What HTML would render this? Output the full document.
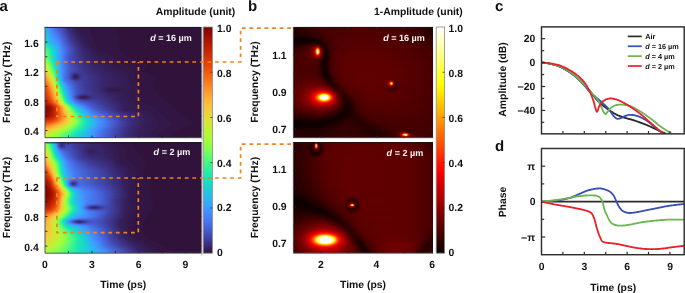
<!DOCTYPE html>
<html><head><meta charset="utf-8"><title>fig</title>
<style>
html,body{margin:0;padding:0;background:#fff;}
body{width:685px;height:293px;overflow:hidden;}
body{position:relative;}
svg{will-change:transform;position:absolute;left:0;top:0;display:block;font-family:"Liberation Sans",sans-serif;font-weight:bold;text-rendering:geometricPrecision;}
.hm{position:absolute;overflow:hidden;}
.hm div{height:1px;}
</style></head><body>
<div class="hm" style="left:45px;top:27px;width:156.5px;height:110.7px"><div style="background:linear-gradient(90deg,#2cb7f0 0,#4196ff 4px,#467df4 7px,#4669e0 10px,#4454c3 15px,#3f3e9c 20px,#3c3286 22px,#372466 27px,#372466 28px,#351e58 30px,#33184a 35px,#33184a 43px,#321543 44px,#321543 70px,#30123b 71px,#30123b 156.5px)"></div><div style="background:linear-gradient(90deg,#2ab9ee 0,#4099ff 4px,#4680f6 7px,#4456c7 15px,#4143a7 19px,#3e3891 21px,#3c3286 23px,#392a73 25px,#372466 28px,#351e58 30px,#33184a 36px,#33184a 44px,#321543 45px,#321543 70px,#30123b 71px,#30123b 156.5px)"></div><div style="background:linear-gradient(90deg,#27bee9 0,#3aa3fc 3px,#458afc 6px,#466be3 11px,#4454c3 16px,#4040a2 20px,#3d358b 22px,#36215f 29px,#36215f 30px,#341b51 32px,#33184a 37px,#33184a 44px,#321543 45px,#321543 70px,#30123b 71px,#30123b 156.5px)"></div><div style="background:linear-gradient(90deg,#25c0e7 0,#38a5fb 3px,#458cfd 6px,#4669e0 12px,#4456c7 16px,#3b2f80 24px,#372466 28px,#372466 29px,#351e58 31px,#33184a 37px,#33184a 44px,#321543 45px,#321543 70px,#30123b 71px,#30123b 156.5px)"></div><div style="background:linear-gradient(90deg,#23c3e4 0,#37a8fa 3px,#4391fe 6px,#4771e9 11px,#455ed3 15px,#3d358b 23px,#36215f 30px,#36215f 31px,#341b51 33px,#341b51 36px,#33184a 37px,#33184a 45px,#321543 46px,#321543 70px,#30123b 71px,#30123b 156.5px)"></div><div style="background:linear-gradient(90deg,#22c5e2 0,#3aa3fc 4px,#458cfd 7px,#466be3 13px,#424bb5 19px,#3c3286 24px,#372466 29px,#372466 30px,#351e58 32px,#341b51 35px,#33184a 40px,#33184a 45px,#321543 46px,#321543 71px,#30123b 72px,#30123b 156.5px)"></div><div style="background:linear-gradient(90deg,#20c7df 0,#38a5fb 4px,#448ffe 7px,#476ee6 13px,#434eba 19px,#3e3891 23px,#36215f 31px,#341b51 36px,#33184a 41px,#33184a 45px,#321543 46px,#321543 71px,#30123b 72px,#30123b 156.5px)"></div><div style="background:linear-gradient(90deg,#1fc9dd 0,#37a8fa 4px,#458cfd 8px,#476ee6 14px,#3e3891 24px,#3b2f80 26px,#372466 30px,#372466 31px,#351e58 33px,#341b51 38px,#33184a 41px,#33184a 46px,#321543 47px,#321543 71px,#30123b 72px,#30123b 156.5px)"></div><div style="background:linear-gradient(90deg,#1ccdd8 0,#2fb2f4 3px,#4196ff 7px,#477bf2 12px,#4666dd 16px,#3f3e9c 23px,#3d358b 25px,#36215f 32px,#341b51 38px,#33184a 43px,#33184a 46px,#321543 47px,#321543 71px,#30123b 72px,#30123b 156.5px)"></div><div style="background:linear-gradient(90deg,#1bd0d5 0,#2eb4f2 3px,#4099ff 7px,#4680f6 12px,#4669e0 16px,#3c3286 26px,#38276d 30px,#38276d 31px,#36215f 33px,#33184a 42px,#33184a 46px,#321543 47px,#321543 72px,#30123b 73px,#30123b 156.5px)"></div><div style="background:linear-gradient(90deg,#1ad2d2 0,#2ab9ee 3px,#3aa3fc 6px,#458cfd 10px,#4773eb 15px,#4454c3 20px,#4146ac 22px,#3f3e9c 24px,#3d358b 26px,#372466 32px,#341b51 39px,#33184a 44px,#33184a 47px,#321543 48px,#321543 72px,#30123b 73px,#30123b 156.5px)"></div><div style="background:linear-gradient(90deg,#19d5cd 0,#2eb4f2 4px,#3ba0fd 7px,#4687fb 12px,#4669e0 17px,#4143a7 23px,#3a2d79 29px,#38276d 32px,#36215f 34px,#33184a 43px,#33184a 47px,#321543 48px,#321543 72px,#30123b 73px,#30123b 156.5px)"></div><div style="background:linear-gradient(90deg,#18d7ca 0,#2cb7f0 4px,#3aa3fc 7px,#458cfd 12px,#4778f0 15px,#455ed3 19px,#3e3891 26px,#372466 33px,#351e58 38px,#33184a 44px,#33184a 47px,#321543 48px,#321543 73px,#30123b 74px,#30123b 156.5px)"></div><div style="background:linear-gradient(90deg,#18dbc5 0,#23c3e4 3px,#2fb2f4 5px,#4196ff 11px,#4682f8 14px,#476ee6 17px,#3f3e9c 25px,#3a2d79 30px,#3a2d79 31px,#372466 34px,#341b51 41px,#33184a 44px,#33184a 47px,#321543 48px,#321543 73px,#30123b 74px,#30123b 156.5px)"></div><div style="background:linear-gradient(90deg,#18dec0 0,#22c5e2 3px,#35abf8 7px,#458cfd 13px,#4778f0 16px,#4451bf 22px,#3e3891 27px,#38276d 33px,#38276d 34px,#36215f 36px,#33184a 45px,#33184a 48px,#321543 49px,#321543 73px,#30123b 74px,#30123b 156.5px)"></div><div style="background:linear-gradient(90deg,#19e2bb 0,#1fc9dd 3px,#31aff5 7px,#4391fe 13px,#477bf2 16px,#434eba 23px,#3f3e9c 26px,#3d358b 29px,#3b2f80 30px,#3b2f80 31px,#372466 35px,#341b51 42px,#33184a 45px,#33184a 48px,#321543 49px,#321543 73px,#30123b 74px,#30123b 156.5px)"></div><div style="background:linear-gradient(90deg,#1ae4b6 0,#19d5cd 2px,#2ab9ee 6px,#3e9bfe 12px,#4685fa 15px,#4661d6 20px,#4040a2 26px,#3a2d79 32px,#38276d 34px,#372466 37px,#351e58 39px,#351e58 41px,#33184a 44px,#33184a 48px,#321543 49px,#321543 74px,#30123b 75px,#30123b 156.5px)"></div><div style="background:linear-gradient(90deg,#1fe9af 0,#18ddc2 2px,#25c0e7 6px,#3ba0fd 12px,#4687fb 15px,#4664da 20px,#3f3e9c 27px,#38276d 35px,#38276d 36px,#36215f 38px,#341b51 43px,#33184a 46px,#33184a 49px,#321543 50px,#321543 74px,#30123b 75px,#30123b 156.5px)"></div><div style="background:linear-gradient(90deg,#27eea4 0,#19e3b9 2px,#1bd0d5 5px,#2cb7f0 9px,#3d9efe 13px,#458cfd 15px,#4666dd 20px,#3f3e9c 28px,#3a2d79 33px,#3a2d79 34px,#372466 37px,#341b51 44px,#33184a 47px,#33184a 50px,#321543 51px,#321543 74px,#30123b 75px,#30123b 156.5px)"></div><div style="background:linear-gradient(90deg,#32f298 0,#1fe9af 2px,#18dec0 4px,#25c0e7 9px,#3ba0fd 13px,#4687fb 16px,#4664da 21px,#3f3b97 29px,#38276d 36px,#372466 39px,#351e58 41px,#351e58 43px,#33184a 46px,#33184a 51px,#321543 52px,#321543 74px,#30123b 75px,#30123b 156.5px)"></div><div style="background:linear-gradient(90deg,#3ff68a 0,#20eaac 3px,#18e0bd 5px,#1ccdd8 8px,#33adf7 12px,#4391fe 15px,#477bf2 18px,#424bb5 26px,#3f3b97 30px,#38276d 37px,#38276d 38px,#36215f 40px,#341b51 45px,#33184a 48px,#33184a 51px,#321543 52px,#321543 74px,#30123b 75px,#30123b 156.5px)"></div><div style="background:linear-gradient(90deg,#4ef97d 0,#32f298 2px,#1ae4b6 5px,#1ad2d2 8px,#38a5fb 13px,#458cfd 16px,#4669e0 21px,#4249b1 27px,#3c3286 33px,#372466 39px,#341b51 46px,#33184a 49px,#321543 54px,#321543 75px,#30123b 76px,#30123b 156.5px)"></div><div style="background:linear-gradient(90deg,#59fb73 0,#2ff19b 3px,#19e3b9 6px,#1ccdd8 9px,#37a8fa 13px,#458cfd 16px,#4669e0 21px,#4040a2 29px,#38276d 38px,#372466 41px,#351e58 43px,#351e58 45px,#33184a 48px,#33184a 52px,#321543 53px,#321543 75px,#30123b 76px,#30123b 156.5px)"></div><div style="background:linear-gradient(90deg,#61fc6c 0,#2aefa1 4px,#1ae4b6 6px,#1bd0d5 9px,#2fb2f4 12px,#4099ff 15px,#467df4 18px,#4454c3 25px,#3f3e9c 30px,#392a73 37px,#392a73 38px,#372466 40px,#341b51 47px,#33184a 50px,#321543 55px,#321543 75px,#30123b 76px,#30123b 156.5px)"></div><div style="background:linear-gradient(90deg,#65fd69 0,#3cf58e 3px,#22ebaa 5px,#18e0bd 7px,#1ad2d2 9px,#2eb4f2 12px,#4099ff 15px,#4687fb 17px,#4669e0 21px,#4249b1 27px,#3a2d79 36px,#3a2d79 37px,#38276d 39px,#351e58 46px,#341b51 47px,#33184a 52px,#33184a 55px,#321543 56px,#321543 76px,#30123b 77px,#30123b 156.5px)"></div><div style="background:linear-gradient(90deg,#6dfe62 0,#2ff19b 4px,#1de7b2 6px,#18d9c8 8px,#2eb4f2 12px,#4099ff 15px,#4687fb 17px,#4661d6 22px,#3f3e9c 30px,#392a73 38px,#36215f 43px,#33184a 52px,#33184a 58px,#321543 59px,#321543 77px,#30123b 78px,#30123b 156.5px)"></div><div style="background:linear-gradient(90deg,#71fe5f 0,#32f298 4px,#19e2bb 7px,#1ad2d2 9px,#2eb4f2 12px,#4099ff 15px,#4687fb 17px,#4661d6 22px,#4146ac 28px,#3c3286 34px,#3c3286 35px,#392a73 38px,#351e58 47px,#341b51 48px,#341b51 51px,#33184a 52px,#33184a 61px,#321543 62px,#321543 79px,#30123b 80px,#30123b 156.5px)"></div><div style="background:linear-gradient(90deg,#79fe59 0,#35f394 4px,#1fe9af 6px,#18dbc5 8px,#1fc9dd 10px,#2eb4f2 12px,#4099ff 15px,#4687fb 17px,#4661d6 22px,#4249b1 27px,#3e3891 32px,#3d358b 34px,#38276d 40px,#351e58 47px,#341b51 52px,#33184a 55px,#33184a 63px,#321543 64px,#321543 80px,#30123b 81px,#30123b 156.5px)"></div><div style="background:linear-gradient(90deg,#7dff56 0,#38f491 4px,#20eaac 6px,#18ddc2 8px,#1fc9dd 10px,#2eb4f2 12px,#4099ff 15px,#4687fb 17px,#4666dd 21px,#424bb5 26px,#4143a7 29px,#3f3b97 31px,#3e3891 33px,#3a2d79 37px,#36215f 46px,#351e58 47px,#351e58 50px,#341b51 51px,#341b51 56px,#33184a 57px,#33184a 65px,#321543 66px,#321543 82px,#30123b 83px,#30123b 156.5px)"></div><div style="background:linear-gradient(90deg,#84ff51 0,#3cf58e 4px,#22ebaa 6px,#18ddc2 8px,#25c0e7 11px,#35abf8 13px,#3e9bfe 15px,#4687fb 17px,#466be3 20px,#424bb5 26px,#392a73 39px,#36215f 46px,#351e58 49px,#351e58 52px,#341b51 53px,#341b51 58px,#33184a 59px,#33184a 66px,#321543 67px,#321543 83px,#30123b 84px,#30123b 156.5px)"></div><div style="background:linear-gradient(90deg,#8bff4b 0,#52fa7a 3px,#25eca7 6px,#18dec0 8px,#1ecbda 10px,#2cb7f0 12px,#3e9bfe 15px,#4687fb 17px,#4664da 21px,#4249b1 27px,#3a2d79 38px,#3a2d79 39px,#38276d 41px,#38276d 43px,#36215f 46px,#351e58 53px,#341b51 54px,#341b51 59px,#33184a 60px,#33184a 67px,#321543 68px,#321543 85px,#30123b 86px,#30123b 156.5px)"></div><div style="background:linear-gradient(90deg,#92ff47 0,#46f884 4px,#27eea4 6px,#18e0bd 8px,#1ecbda 10px,#2cb7f0 12px,#3e9bfe 15px,#4687fb 17px,#4664da 21px,#424bb5 26px,#3b2f80 37px,#372466 44px,#36215f 49px,#351e58 52px,#341b51 57px,#341b51 60px,#33184a 61px,#33184a 68px,#321543 69px,#321543 87px,#30123b 88px,#30123b 156.5px)"></div><div style="background:linear-gradient(90deg,#9cfe40 0,#4ef97d 4px,#1fe9af 7px,#18d7ca 9px,#2ab9ee 12px,#3e9bfe 15px,#4687fb 17px,#4664da 21px,#4249b1 27px,#3b2f80 37px,#3b2f80 38px,#392a73 40px,#36215f 49px,#351e58 54px,#341b51 57px,#341b51 61px,#33184a 62px,#33184a 69px,#321543 70px,#321543 90px,#30123b 91px,#30123b 156.5px)"></div><div style="background:linear-gradient(90deg,#a4fc3c 0,#80ff53 2px,#2ff19b 6px,#19e3b9 8px,#1bd0d5 10px,#2fb2f4 13px,#3d9efe 15px,#4687fb 17px,#4664da 21px,#4249b1 27px,#3a2d79 39px,#372466 46px,#36215f 51px,#351e58 54px,#341b51 59px,#341b51 63px,#33184a 64px,#33184a 70px,#321543 71px,#321543 94px,#30123b 95px,#30123b 156.5px)"></div><div style="background:linear-gradient(90deg,#acfb38 0,#8bff4b 2px,#4af880 5px,#35f394 6px,#1ce6b4 8px,#1ad4d0 10px,#2eb4f2 13px,#3d9efe 15px,#4687fb 17px,#4664da 21px,#4249b1 27px,#3b2f80 38px,#3b2f80 39px,#392a73 41px,#372466 47px,#36215f 52px,#351e58 55px,#351e58 58px,#341b51 59px,#341b51 64px,#33184a 65px,#33184a 71px,#321543 72px,#321543 97px,#30123b 98px,#30123b 156.5px)"></div><div style="background:linear-gradient(90deg,#b7f735 0,#96fe44 2px,#52fa7a 5px,#3cf58e 6px,#1fe9af 8px,#18e0bd 9px,#1ecbda 11px,#35abf8 14px,#4294ff 16px,#4773eb 19px,#4559cb 23px,#3d358b 35px,#3b2f80 39px,#38276d 44px,#372466 49px,#36215f 50px,#36215f 54px,#351e58 55px,#351e58 59px,#341b51 60px,#341b51 65px,#33184a 66px,#33184a 73px,#321543 74px,#321543 99px,#30123b 100px,#30123b 156.5px)"></div><div style="background:linear-gradient(90deg,#bef434 0,#9ffd3f 2px,#8bff4b 3px,#59fb73 5px,#22ebaa 8px,#19e3b9 9px,#1bd0d5 11px,#2cb7f0 13px,#3ba0fd 15px,#458afc 17px,#466be3 20px,#434eba 26px,#3c3286 37px,#3c3286 38px,#392a73 42px,#38276d 47px,#372466 48px,#341b51 63px,#341b51 66px,#33184a 67px,#33184a 75px,#321543 76px,#321543 100px,#30123b 101px,#30123b 156.5px)"></div><div style="background:linear-gradient(90deg,#c8ef34 0,#a7fc3a 2px,#96fe44 3px,#4ef97d 6px,#27eea4 8px,#1ce6b4 9px,#1ad4d0 11px,#2ab9ee 13px,#3ba0fd 15px,#458afc 17px,#4773eb 19px,#434eba 26px,#3c3286 37px,#38276d 46px,#36215f 53px,#351e58 60px,#341b51 63px,#341b51 67px,#33184a 68px,#33184a 78px,#321543 79px,#321543 101px,#30123b 102px,#30123b 156.5px)"></div><div style="background:linear-gradient(90deg,#d2e935 0,#affa37 2px,#9ffd3f 3px,#71fe5f 5px,#3ff68a 7px,#1fe9af 9px,#18e0bd 10px,#1ecbda 12px,#33adf7 14px,#4196ff 16px,#4680f6 18px,#4669e0 21px,#434eba 26px,#3b2f80 39px,#392a73 44px,#372466 50px,#341b51 65px,#341b51 69px,#33184a 70px,#33184a 80px,#321543 81px,#321543 100px,#30123b 101px,#30123b 156.5px)"></div><div style="background:linear-gradient(90deg,#dbe236 0,#b9f635 2px,#a7fc3a 3px,#92ff47 4px,#4af880 7px,#32f298 8px,#22ebaa 9px,#19e3b9 10px,#18d9c8 11px,#27bee9 13px,#3aa3fc 15px,#458afc 17px,#4776ee 19px,#4451bf 26px,#4146ac 29px,#3b2f80 40px,#392a73 45px,#372466 51px,#351e58 61px,#351e58 64px,#341b51 65px,#341b51 71px,#33184a 72px,#33184a 82px,#321543 83px,#321543 100px,#30123b 101px,#30123b 156.5px)"></div><div style="background:linear-gradient(90deg,#e3db38 0,#c1f334 2px,#affa37 3px,#9cfe40 4px,#6dfe62 6px,#3cf58e 8px,#1ce6b4 10px,#18ddc2 11px,#1ad2d2 12px,#25c0e7 13px,#38a5fb 15px,#458cfd 17px,#4778f0 19px,#4454c3 25px,#3c3286 38px,#392a73 45px,#372466 52px,#351e58 62px,#351e58 65px,#341b51 66px,#341b51 72px,#33184a 73px,#33184a 84px,#321543 85px,#321543 99px,#30123b 100px,#30123b 156.5px)"></div><div style="background:linear-gradient(90deg,#ebd339 0,#b7f735 3px,#a4fc3c 4px,#75fe5c 6px,#43f787 8px,#20eaac 10px,#18e0bd 11px,#1ad4d0 12px,#2fb2f4 14px,#4099ff 16px,#4682f8 18px,#455ed3 23px,#424bb5 28px,#3d358b 37px,#392a73 46px,#372466 53px,#351e58 63px,#351e58 66px,#341b51 67px,#341b51 74px,#33184a 75px,#33184a 86px,#321543 87px,#321543 99px,#30123b 100px,#30123b 156.5px)"></div><div style="background:linear-gradient(90deg,#f1cb3a 0,#d2e935 2px,#affa37 4px,#80ff53 6px,#38f491 9px,#25eca7 10px,#19e3b9 11px,#19d5cd 12px,#2eb4f2 14px,#3e9bfe 16px,#4682f8 18px,#4773eb 20px,#4559cb 24px,#3f3e9c 33px,#3e3891 37px,#3b2f80 41px,#38276d 50px,#36215f 59px,#351e58 66px,#341b51 71px,#341b51 76px,#33184a 77px,#33184a 87px,#321543 88px,#321543 98px,#30123b 99px,#30123b 156.5px)"></div><div style="background:linear-gradient(90deg,#f6c33a 0,#dbe236 2px,#b7f735 4px,#a4fc3c 5px,#59fb73 8px,#2aefa1 10px,#1ce6b4 11px,#18d7ca 12px,#2cb7f0 14px,#3e9bfe 16px,#4682f8 18px,#4666dd 22px,#4451bf 26px,#3e3891 36px,#3a2d79 45px,#38276d 51px,#36215f 60px,#351e58 67px,#341b51 72px,#341b51 77px,#33184a 78px,#33184a 88px,#321543 89px,#321543 98px,#30123b 99px,#30123b 156.5px)"></div><div style="background:linear-gradient(90deg,#f9bc39 0,#e1dd37 2px,#bef434 4px,#acfb38 5px,#7dff56 7px,#4af880 9px,#2ff19b 10px,#1fe9af 11px,#18dbc5 12px,#2cb7f0 14px,#3d9efe 16px,#4685fa 18px,#455ed3 23px,#4249b1 28px,#3f3e9c 32px,#392a73 48px,#372466 57px,#36215f 60px,#36215f 64px,#351e58 65px,#351e58 70px,#341b51 71px,#341b51 78px,#33184a 79px,#33184a 89px,#321543 90px,#321543 98px,#30123b 99px,#30123b 156.5px)"></div><div style="background:linear-gradient(90deg,#fbb637 0,#e9d539 2px,#c8ef34 4px,#a1fd3d 6px,#6dfe62 8px,#38f491 10px,#20eaac 11px,#18ddc2 12px,#1fc9dd 13px,#35abf8 15px,#4391fe 17px,#4773eb 20px,#4454c3 25px,#4143a7 28px,#3f3b97 31px,#3f3b97 35px,#3a2d79 46px,#38276d 53px,#351e58 68px,#351e58 72px,#341b51 73px,#341b51 79px,#33184a 80px,#33184a 89px,#321543 90px,#321543 98px,#30123b 99px,#30123b 156.5px)"></div><div style="background:linear-gradient(90deg,#fdae35 0,#eecf3a 2px,#d0ea34 4px,#acfb38 6px,#7dff56 8px,#3ff68a 10px,#25eca7 11px,#18dec0 12px,#1ecbda 13px,#33adf7 15px,#4294ff 17px,#477bf2 19px,#4456c7 24px,#424bb5 26px,#3e3891 29px,#3c3286 31px,#3e3891 36px,#3e3891 39px,#3a2d79 47px,#38276d 54px,#351e58 69px,#351e58 73px,#341b51 74px,#341b51 80px,#33184a 81px,#33184a 89px,#321543 90px,#321543 100px,#30123b 101px,#30123b 156.5px)"></div><div style="background:linear-gradient(90deg,#fea732 0,#f4c73a 2px,#cbed34 5px,#b7f735 6px,#a1fd3d 7px,#8bff4b 8px,#6dfe62 9px,#2aefa1 11px,#18e0bd 12px,#1bd0d5 13px,#27bee9 14px,#3aa3fc 16px,#4294ff 17px,#477bf2 19px,#455ccf 23px,#434eba 25px,#3b2f80 29px,#392a73 30px,#392a73 32px,#3b2f80 33px,#3e3891 36px,#3e3891 40px,#3a2d79 48px,#38276d 55px,#36215f 65px,#351e58 72px,#341b51 77px,#341b51 81px,#33184a 82px,#33184a 89px,#321543 90px,#321543 102px,#30123b 103px,#30123b 156.5px)"></div><div style="background:linear-gradient(90deg,#fea130 0,#f8be39 2px,#e5d938 4px,#c3f134 6px,#affa37 7px,#99fe42 8px,#79fe59 9px,#2ff19b 11px,#19e3b9 12px,#1ad2d2 13px,#2fb2f4 15px,#4196ff 17px,#4687fb 18px,#4778f0 19px,#455ccf 23px,#424bb5 25px,#3e3891 27px,#372466 29px,#36215f 30px,#36215f 31px,#38276d 33px,#3e3891 36px,#3f3b97 38px,#3a2d79 49px,#392a73 54px,#38276d 55px,#372466 62px,#351e58 72px,#351e58 75px,#341b51 76px,#341b51 82px,#33184a 83px,#33184a 89px,#321543 90px,#321543 105px,#30123b 106px,#30123b 156.5px)"></div><div style="background:linear-gradient(90deg,#fe992c 0,#f6c33a 3px,#dfdf37 5px,#bcf534 7px,#a4fc3c 8px,#88ff4e 9px,#35f394 11px,#1ce6b4 12px,#19d5cd 13px,#2cb7f0 15px,#4099ff 17px,#4687fb 18px,#476ee6 20px,#455ccf 23px,#424bb5 25px,#36215f 29px,#341b51 30px,#341b51 31px,#351e58 32px,#3c3286 35px,#3e3891 36px,#3f3b97 38px,#3e3891 42px,#3a2d79 50px,#392a73 55px,#38276d 56px,#372466 65px,#36215f 66px,#36215f 70px,#351e58 71px,#351e58 76px,#341b51 77px,#341b51 82px,#33184a 83px,#33184a 89px,#321543 90px,#321543 108px,#30123b 109px,#30123b 156.5px)"></div><div style="background:linear-gradient(90deg,#fe9029 0,#faba39 3px,#e9d539 5px,#c6f034 7px,#affa37 8px,#92ff47 9px,#69fd66 10px,#3cf58e 11px,#1fe9af 12px,#18d9c8 13px,#28bceb 15px,#35abf8 16px,#3e9bfe 17px,#4687fb 18px,#476ee6 20px,#455ccf 23px,#424bb5 25px,#36215f 29px,#341b51 31px,#3e3891 36px,#3f3b97 38px,#3e3891 42px,#3b2f80 48px,#392a73 54px,#372466 63px,#36215f 68px,#351e58 75px,#341b51 80px,#341b51 83px,#33184a 84px,#33184a 89px,#321543 90px,#321543 109px,#30123b 110px,#30123b 156.5px)"></div><div style="background:linear-gradient(90deg,#fd8a26 0,#fcb136 3px,#efcd3a 5px,#e3db38 6px,#b9f635 8px,#9ffd3f 9px,#75fe5c 10px,#43f787 11px,#22ebaa 12px,#18dec0 13px,#1bd0d5 14px,#31aff5 16px,#3d9efe 17px,#4687fb 18px,#4776ee 19px,#455ed3 23px,#4146ac 26px,#392a73 29px,#372466 31px,#38276d 32px,#3e3891 35px,#3f3e9c 38px,#3d358b 44px,#3c3286 46px,#3a2d79 51px,#392a73 56px,#38276d 57px,#372466 66px,#36215f 67px,#36215f 71px,#351e58 72px,#351e58 77px,#341b51 78px,#341b51 83px,#33184a 84px,#33184a 89px,#321543 90px,#321543 110px,#30123b 111px,#30123b 156.5px)"></div><div style="background:linear-gradient(90deg,#fb8122 0,#fea933 3px,#f4c73a 5px,#d9e436 7px,#c1f334 8px,#a7fc3a 9px,#80ff53 10px,#4ef97d 11px,#2aefa1 12px,#19e3b9 13px,#1ad4d0 14px,#2eb4f2 16px,#3ba0fd 17px,#458afc 18px,#4778f0 19px,#476ee6 20px,#455ccf 24px,#3f3e9c 28px,#3d358b 29px,#3b2f80 31px,#3f3e9c 36px,#3f3e9c 39px,#3c3286 45px,#3b2f80 50px,#3a2d79 51px,#392a73 56px,#38276d 57px,#372466 66px,#36215f 67px,#36215f 71px,#351e58 72px,#351e58 78px,#341b51 79px,#341b51 83px,#33184a 84px,#33184a 89px,#321543 90px,#321543 110px,#30123b 111px,#30123b 156.5px)"></div><div style="background:linear-gradient(90deg,#f9781e 0,#fcb136 4px,#efcd3a 6px,#cbed34 8px,#b1f936 9px,#8fff49 10px,#5dfc6f 11px,#35f394 12px,#1de7b2 13px,#18dbc5 14px,#1ecbda 15px,#38a5fb 17px,#4391fe 18px,#467df4 19px,#476ee6 21px,#4661d6 24px,#3f3e9c 30px,#3f3e9c 35px,#4040a2 36px,#3e3891 42px,#3c3286 46px,#38276d 58px,#372466 65px,#36215f 68px,#351e58 75px,#351e58 78px,#341b51 79px,#341b51 84px,#33184a 85px,#33184a 90px,#321543 91px,#321543 109px,#30123b 110px,#30123b 156.5px)"></div><div style="background:linear-gradient(90deg,#f8721c 0,#fa7b1f 1px,#fea933 4px,#f4c73a 6px,#e7d739 7px,#b9f635 9px,#9cfe40 10px,#6dfe62 11px,#43f787 12px,#27eea4 13px,#19e2bb 14px,#1ad4d0 15px,#33adf7 17px,#4099ff 18px,#477bf2 20px,#455ccf 26px,#4249b1 30px,#4143a7 32px,#4143a7 35px,#3e3891 42px,#3c3286 46px,#38276d 58px,#372466 65px,#36215f 66px,#36215f 71px,#351e58 72px,#351e58 78px,#341b51 79px,#341b51 84px,#33184a 85px,#33184a 91px,#321543 92px,#321543 109px,#30123b 110px,#30123b 156.5px)"></div><div style="background:linear-gradient(90deg,#f56918 0,#f8721c 1px,#fea130 4px,#f7c13a 6px,#ecd13a 7px,#dbe236 8px,#c3f134 9px,#a7fc3a 10px,#80ff53 11px,#55fa76 12px,#35f394 13px,#1fe9af 14px,#18dbc5 15px,#2cb7f0 17px,#3aa3fc 18px,#4391fe 19px,#467df4 21px,#434eba 30px,#3e3891 42px,#3c3286 46px,#38276d 58px,#372466 65px,#36215f 66px,#36215f 71px,#351e58 72px,#351e58 79px,#341b51 80px,#341b51 85px,#33184a 86px,#33184a 92px,#321543 93px,#321543 109px,#30123b 110px,#30123b 156.5px)"></div><div style="background:linear-gradient(90deg,#f26014 0,#fc8725 3px,#faba39 6px,#f1cb3a 7px,#cdec34 9px,#b1f936 10px,#8fff49 11px,#43f787 13px,#27eea4 14px,#19e2bb 15px,#1ad2d2 16px,#33adf7 18px,#3d9efe 19px,#4685fa 21px,#4664da 26px,#4146ac 34px,#4143a7 36px,#3f3b97 40px,#3d358b 44px,#3a2d79 52px,#38276d 58px,#372466 65px,#36215f 66px,#36215f 72px,#351e58 73px,#351e58 79px,#341b51 80px,#341b51 86px,#33184a 87px,#33184a 92px,#321543 93px,#321543 109px,#30123b 110px,#30123b 156.5px)"></div><div style="background:linear-gradient(90deg,#f05b12 0,#f36315 1px,#fea130 5px,#f5c53a 7px,#e9d539 8px,#bcf534 10px,#9ffd3f 11px,#7dff56 12px,#55fa76 13px,#35f394 14px,#1fe9af 15px,#18d9c8 16px,#2cb7f0 18px,#3e9bfe 20px,#4682f8 22px,#4664da 27px,#434eba 32px,#3f3e9c 38px,#3b2f80 49px,#38276d 58px,#36215f 68px,#36215f 72px,#351e58 73px,#351e58 80px,#341b51 81px,#341b51 86px,#33184a 87px,#33184a 93px,#321543 94px,#321543 108px,#30123b 109px,#30123b 156.5px)"></div><div style="background:linear-gradient(90deg,#ec530f 0,#f9781e 3px,#fdac34 6px,#eecf3a 8px,#dde037 9px,#c6f034 10px,#a9fb39 11px,#8bff4b 12px,#69fd66 13px,#43f787 14px,#27eea4 15px,#18e0bd 16px,#1ad2d2 17px,#25c0e7 18px,#31aff5 19px,#4196ff 21px,#4778f0 24px,#434eba 32px,#3f3e9c 38px,#3b2f80 49px,#38276d 58px,#36215f 68px,#351e58 75px,#351e58 80px,#341b51 81px,#341b51 86px,#33184a 87px,#33184a 93px,#321543 94px,#321543 108px,#30123b 109px,#30123b 156.5px)"></div><div style="background:linear-gradient(90deg,#ea4e0d 0,#f8721c 3px,#fea431 6px,#f2c93a 8px,#d0ea34 10px,#b4f836 11px,#9cfe40 12px,#55fa76 14px,#32f298 15px,#1ce6b4 16px,#18d7ca 17px,#2ab9ee 19px,#3e9bfe 21px,#4687fb 23px,#4669e0 27px,#4249b1 34px,#3f3b97 40px,#3b2f80 49px,#372466 61px,#36215f 66px,#351e58 73px,#351e58 80px,#341b51 81px,#341b51 86px,#33184a 87px,#33184a 93px,#321543 94px,#321543 108px,#30123b 109px,#30123b 156.5px)"></div><div style="background:linear-gradient(90deg,#e7490c 0,#f66c19 3px,#fe9e2f 6px,#f6c33a 8px,#d7e535 10px,#bef434 11px,#a4fc3c 12px,#88ff4e 13px,#3cf58e 15px,#20eaac 16px,#18ddc2 17px,#25c0e7 19px,#31aff5 20px,#4196ff 22px,#477bf2 25px,#4661d6 29px,#4559cb 30px,#4146ac 35px,#3e3891 42px,#392a73 55px,#38276d 56px,#372466 61px,#36215f 62px,#351e58 69px,#351e58 78px,#341b51 79px,#341b51 86px,#33184a 87px,#33184a 93px,#321543 94px,#321543 108px,#30123b 109px,#30123b 156.5px)"></div><div style="background:linear-gradient(90deg,#e4450a 0,#f36315 3px,#fe992c 6px,#f8be39 8px,#eecf3a 9px,#dde037 10px,#c6f034 11px,#affa37 12px,#92ff47 13px,#4af880 15px,#27eea4 16px,#19e2bb 17px,#19d5cd 18px,#2eb4f2 20px,#38a5fb 21px,#4391fe 23px,#476ee6 27px,#4249b1 34px,#3f3b97 40px,#38276d 57px,#351e58 62px,#351e58 65px,#341b51 66px,#341b51 86px,#33184a 87px,#33184a 93px,#321543 94px,#321543 109px,#30123b 110px,#30123b 156.5px)"></div><div style="background:linear-gradient(90deg,#e14109 0,#f26014 3px,#fe9029 6px,#fbb838 8px,#f2c93a 9px,#e3db38 10px,#b7f735 12px,#9cfe40 13px,#7dff56 14px,#32f298 16px,#1ce6b4 17px,#18d9c8 18px,#1ecbda 19px,#2ab9ee 20px,#3d9efe 22px,#458afc 24px,#4664da 29px,#4249b1 34px,#3f3b97 41px,#38276d 56px,#351e58 61px,#33184a 67px,#33184a 74px,#341b51 75px,#341b51 86px,#33184a 87px,#33184a 93px,#321543 94px,#321543 109px,#30123b 110px,#30123b 156.5px)"></div><div style="background:linear-gradient(90deg,#df3f08 0,#ea4e0d 2px,#f9781e 5px,#fe9e2f 7px,#f5c53a 9px,#d4e735 11px,#bef434 12px,#a4fc3c 13px,#88ff4e 14px,#61fc6c 15px,#38f491 16px,#20eaac 17px,#18dec0 18px,#1bd0d5 19px,#31aff5 21px,#4099ff 23px,#4685fa 25px,#455ed3 30px,#424bb5 34px,#3f3e9c 39px,#3b2f80 50px,#3a2d79 53px,#38276d 55px,#351e58 62px,#33184a 65px,#33184a 75px,#341b51 76px,#341b51 85px,#33184a 86px,#33184a 92px,#321543 93px,#321543 109px,#30123b 110px,#30123b 156.5px)"></div><div style="background:linear-gradient(90deg,#dc3b07 0,#e7490c 2px,#f36315 4px,#fe992c 7px,#f7c13a 9px,#ecd13a 10px,#c6f034 12px,#acfb38 13px,#92ff47 14px,#6dfe62 15px,#43f787 16px,#27eea4 17px,#19e3b9 18px,#19d5cd 19px,#2eb4f2 21px,#3e9bfe 23px,#4687fb 25px,#4666dd 29px,#434eba 33px,#3f3b97 41px,#3d358b 47px,#392a73 54px,#351e58 63px,#341b51 64px,#341b51 68px,#33184a 69px,#341b51 72px,#341b51 85px,#33184a 86px,#33184a 92px,#321543 93px,#321543 110px,#30123b 111px,#30123b 156.5px)"></div><div style="background:linear-gradient(90deg,#d83706 0,#eb500e 3px,#f76f1a 5px,#fea732 8px,#f1cb3a 10px,#cdec34 12px,#b4f836 13px,#9cfe40 14px,#79fe59 15px,#4ef97d 16px,#2ff19b 17px,#1ce6b4 18px,#18d9c8 19px,#2ab9ee 21px,#35abf8 22px,#4196ff 24px,#4778f0 27px,#4559cb 31px,#424bb5 34px,#3f3b97 41px,#3e3891 45px,#3c3286 49px,#372466 61px,#36215f 62px,#351e58 67px,#351e58 70px,#341b51 71px,#341b51 85px,#33184a 86px,#33184a 92px,#321543 93px,#321543 110px,#30123b 111px,#30123b 156.5px)"></div><div style="background:linear-gradient(90deg,#d63506 0,#ea4e0d 3px,#fa7b1f 6px,#fea130 8px,#f4c73a 10px,#d2e935 12px,#bcf534 13px,#a4fc3c 14px,#84ff51 15px,#59fb73 16px,#38f491 17px,#20eaac 18px,#18ddc2 19px,#27bee9 21px,#3aa3fc 23px,#458cfd 25px,#4771e9 28px,#4559cb 31px,#4146ac 35px,#3f3b97 40px,#3d358b 48px,#3c3286 50px,#38276d 60px,#36215f 66px,#351e58 73px,#351e58 78px,#341b51 79px,#341b51 85px,#33184a 86px,#33184a 92px,#321543 93px,#321543 111px,#30123b 112px,#30123b 156.5px)"></div><div style="background:linear-gradient(90deg,#d23105 0,#e7490c 3px,#f36315 5px,#fe9b2d 8px,#f7c13a 10px,#d9e436 12px,#c3f134 13px,#acfb38 14px,#8fff49 15px,#65fd69 16px,#43f787 17px,#27eea4 18px,#19e2bb 19px,#1ad4d0 20px,#23c3e4 21px,#38a5fb 23px,#448ffe 25px,#4771e9 28px,#4249b1 33px,#4040a2 35px,#3e3891 38px,#3d358b 42px,#3d358b 48px,#3c3286 50px,#3c3286 52px,#3a2d79 55px,#392a73 60px,#38276d 61px,#36215f 70px,#351e58 75px,#351e58 79px,#341b51 80px,#341b51 85px,#33184a 86px,#33184a 92px,#321543 93px,#321543 112px,#30123b 113px,#30123b 156.5px)"></div><div style="background:linear-gradient(90deg,#d02f05 0,#e4450a 3px,#f15d13 5px,#fe962b 8px,#f9bc39 10px,#efcd3a 11px,#cbed34 13px,#b4f836 14px,#99fe42 15px,#75fe5c 16px,#4ef97d 17px,#2ff19b 18px,#1ce6b4 19px,#18d7ca 20px,#20c7df 21px,#35abf8 23px,#4391fe 25px,#4778f0 27px,#4559cb 30px,#4146ac 32px,#3a2d79 37px,#392a73 40px,#3c3286 45px,#3c3286 53px,#3b2f80 54px,#3b2f80 56px,#392a73 59px,#372466 68px,#351e58 75px,#351e58 79px,#341b51 80px,#341b51 85px,#33184a 86px,#33184a 93px,#321543 94px,#321543 113px,#30123b 114px,#30123b 156.5px)"></div><div style="background:linear-gradient(90deg,#cc2b04 0,#e84b0c 4px,#fa7b1f 7px,#fea130 9px,#f4c73a 11px,#d2e935 13px,#bcf534 14px,#a1fd3d 15px,#80ff53 16px,#59fb73 17px,#38f491 18px,#20eaac 19px,#18ddc2 20px,#27bee9 22px,#33adf7 23px,#4294ff 25px,#477bf2 27px,#4661d6 29px,#3d358b 33px,#372466 36px,#351e58 38px,#351e58 40px,#3c3286 47px,#3c3286 54px,#3b2f80 55px,#3b2f80 57px,#392a73 60px,#372466 69px,#351e58 76px,#351e58 79px,#341b51 80px,#341b51 85px,#33184a 86px,#33184a 93px,#321543 94px,#321543 114px,#30123b 115px,#30123b 156.5px)"></div><div style="background:linear-gradient(90deg,#c82803 0,#e5470b 4px,#f36315 6px,#fe9b2d 9px,#f7c13a 11px,#ecd13a 12px,#dbe236 13px,#c3f134 14px,#acfb38 15px,#8fff49 16px,#43f787 18px,#27eea4 19px,#19e2bb 20px,#1ad4d0 21px,#2fb2f4 23px,#4196ff 25px,#467df4 27px,#4454c3 30px,#4146ac 31px,#372466 35px,#351e58 36px,#341b51 37px,#341b51 40px,#3b2f80 46px,#3d358b 49px,#3d358b 53px,#3b2f80 57px,#392a73 62px,#372466 69px,#351e58 76px,#351e58 79px,#341b51 80px,#341b51 85px,#33184a 86px,#33184a 93px,#321543 94px,#321543 115px,#30123b 116px,#30123b 156.5px)"></div><div style="background:linear-gradient(90deg,#c52603 0,#e2430a 4px,#f05b12 6px,#fe932a 9px,#faba39 11px,#f1cb3a 12px,#cdec34 14px,#b7f735 15px,#9cfe40 16px,#79fe59 17px,#52fa7a 18px,#32f298 19px,#1ce6b4 20px,#18d9c8 21px,#2ab9ee 23px,#3d9efe 25px,#4391fe 26px,#4776ee 28px,#434eba 31px,#3f3b97 33px,#3d358b 34px,#3a2d79 35px,#392a73 36px,#372466 37px,#372466 40px,#392a73 43px,#3b2f80 44px,#3d358b 48px,#3e3891 50px,#3b2f80 59px,#3a2d79 60px,#3a2d79 62px,#38276d 65px,#36215f 74px,#351e58 77px,#351e58 80px,#341b51 81px,#341b51 85px,#33184a 86px,#33184a 94px,#321543 95px,#321543 116px,#30123b 117px,#30123b 156.5px)"></div><div style="background:linear-gradient(90deg,#c12302 0,#df3f08 4px,#f36315 7px,#fe9e2f 10px,#f6c33a 12px,#d7e535 14px,#c1f334 15px,#a7fc3a 16px,#88ff4e 17px,#3cf58e 19px,#22ebaa 20px,#18dec0 21px,#1bd0d5 22px,#2fb2f4 24px,#3aa3fc 25px,#458cfd 27px,#4771e9 29px,#4451bf 32px,#4143a7 34px,#3d358b 38px,#3c3286 40px,#3e3891 44px,#3f3b97 48px,#3e3891 54px,#3a2d79 62px,#38276d 67px,#36215f 74px,#351e58 77px,#351e58 80px,#341b51 81px,#341b51 86px,#33184a 87px,#33184a 95px,#321543 96px,#321543 117px,#30123b 118px,#30123b 156.5px)"></div><div style="background:linear-gradient(90deg,#bc2002 0,#d23105 3px,#ea4e0d 6px,#f66c19 8px,#fea732 11px,#faba39 12px,#dfdf37 14px,#b4f836 16px,#99fe42 17px,#75fe5c 18px,#2cf09e 20px,#1ae4b6 21px,#18d7ca 22px,#20c7df 23px,#33adf7 25px,#4294ff 27px,#477bf2 29px,#4666dd 31px,#424bb5 36px,#4143a7 39px,#3f3e9c 51px,#3a2d79 63px,#38276d 68px,#36215f 74px,#351e58 79px,#341b51 82px,#341b51 86px,#33184a 87px,#33184a 96px,#321543 97px,#321543 119px,#30123b 120px,#30123b 156.5px)"></div><div style="background:linear-gradient(90deg,#b41b01 0,#dd3d08 5px,#f26014 8px,#fe9b2d 11px,#f6c33a 13px,#d7e535 15px,#c1f334 16px,#a7fc3a 17px,#88ff4e 18px,#3cf58e 20px,#22ebaa 21px,#18dec0 22px,#23c3e4 24px,#37a8fa 26px,#4391fe 28px,#4778f0 30px,#4669e0 32px,#4454c3 37px,#4146ac 45px,#4143a7 49px,#3e3891 56px,#3a2d79 64px,#38276d 69px,#36215f 75px,#351e58 80px,#341b51 83px,#341b51 87px,#33184a 88px,#33184a 97px,#321543 98px,#321543 120px,#30123b 121px,#30123b 156.5px)"></div><div style="background:linear-gradient(90deg,#ac1701 0,#d63506 5px,#ec530f 8px,#fd8a26 11px,#fbb637 13px,#f4c73a 14px,#d2e935 16px,#bcf534 17px,#a1fd3d 18px,#7dff56 19px,#55fa76 20px,#35f394 21px,#1fe9af 22px,#18ddc2 23px,#23c3e4 25px,#37a8fa 27px,#4294ff 29px,#477bf2 31px,#4661d6 36px,#4146ac 48px,#3f3b97 56px,#3c3286 61px,#3b2f80 62px,#3b2f80 64px,#38276d 69px,#372466 74px,#36215f 75px,#351e58 82px,#341b51 83px,#341b51 88px,#33184a 89px,#33184a 99px,#321543 100px,#321543 122px,#30123b 123px,#30123b 156.5px)"></div><div style="background:linear-gradient(90deg,#a41301 0,#c32503 4px,#e4450a 8px,#f26014 10px,#f8721c 11px,#fea130 13px,#f4c73a 15px,#d2e935 17px,#b9f635 18px,#9ffd3f 19px,#59fb73 21px,#35f394 22px,#20eaac 23px,#18e0bd 24px,#20c7df 26px,#3aa3fc 29px,#458cfd 31px,#476ee6 36px,#4456c7 43px,#4040a2 53px,#38276d 71px,#351e58 80px,#351e58 83px,#341b51 84px,#341b51 89px,#33184a 90px,#33184a 101px,#321543 102px,#321543 123px,#30123b 124px,#30123b 156.5px)"></div><div style="background:linear-gradient(90deg,#980e01 0,#be2102 5px,#e14109 9px,#f15d13 11px,#fe9e2f 14px,#f5c53a 16px,#d4e735 18px,#bcf534 19px,#a1fd3d 20px,#84ff51 21px,#5dfc6f 22px,#27eea4 24px,#1ae4b6 25px,#18d9c8 26px,#2cb7f0 29px,#3ba0fd 31px,#4687fb 34px,#455ed3 42px,#3f3e9c 56px,#38276d 72px,#351e58 81px,#351e58 84px,#341b51 85px,#341b51 90px,#33184a 91px,#33184a 103px,#321543 104px,#321543 125px,#30123b 126px,#30123b 156.5px)"></div><div style="background:linear-gradient(90deg,#8b0902 0,#a71401 4px,#cc2b04 8px,#e7490c 11px,#f8721c 13px,#fe9b2d 15px,#f6c33a 17px,#d7e535 19px,#bef434 20px,#a7fc3a 21px,#69fd66 23px,#2ff19b 25px,#1fe9af 26px,#18dec0 27px,#1fc9dd 29px,#2fb2f4 31px,#4099ff 34px,#467df4 38px,#455ed3 44px,#3e3891 60px,#38276d 73px,#351e58 82px,#351e58 85px,#341b51 86px,#341b51 92px,#33184a 93px,#33184a 105px,#321543 106px,#321543 126px,#30123b 127px,#30123b 156.5px)"></div><div style="background:linear-gradient(90deg,#810602 0,#9b0f01 4px,#be2102 8px,#dd3d08 11px,#f8721c 14px,#fdae35 17px,#f6c33a 18px,#d7e535 20px,#c1f334 21px,#a9fb39 22px,#8fff49 23px,#52fa7a 25px,#35f394 26px,#22ebaa 27px,#19e3b9 28px,#18d9c8 29px,#23c3e4 31px,#38a5fb 34px,#4391fe 37px,#4771e9 42px,#4456c7 48px,#3e3891 61px,#372466 76px,#351e58 83px,#351e58 86px,#341b51 87px,#341b51 94px,#33184a 95px,#33184a 107px,#321543 108px,#321543 127px,#30123b 128px,#30123b 156.5px)"></div><div style="background:linear-gradient(90deg,#7a0403 0,#920b01 4px,#b41b01 8px,#e14109 12px,#f9781e 15px,#fe9e2f 17px,#f4c73a 19px,#d4e735 21px,#bef434 22px,#a7fc3a 23px,#8fff49 24px,#52fa7a 26px,#25eca7 28px,#1ae4b6 29px,#1ad2d2 31px,#2eb4f2 34px,#3e9bfe 37px,#4685fa 40px,#4666dd 45px,#424bb5 53px,#4249b1 55px,#3f3b97 61px,#3c3286 67px,#392a73 71px,#372466 76px,#351e58 82px,#351e58 86px,#341b51 87px,#341b51 95px,#33184a 96px,#33184a 108px,#321543 109px,#321543 128px,#30123b 129px,#30123b 156.5px)"></div><div style="background:linear-gradient(90deg,#7a0403 0,#880802 3px,#a71401 7px,#d23105 11px,#f15d13 14px,#fe962b 17px,#f8be39 19px,#eecf3a 20px,#cbed34 22px,#b7f735 23px,#a1fd3d 24px,#88ff4e 25px,#4ef97d 27px,#35f394 28px,#25eca7 29px,#1ae4b6 30px,#1ad2d2 32px,#2eb4f2 35px,#4196ff 39px,#4680f6 42px,#455ccf 49px,#3f3b97 62px,#3d358b 66px,#392a73 71px,#351e58 80px,#351e58 84px,#341b51 85px,#341b51 96px,#33184a 97px,#33184a 109px,#321543 110px,#321543 129px,#30123b 130px,#30123b 156.5px)"></div><div style="background:linear-gradient(90deg,#7a0403 0,#880802 3px,#b21a01 8px,#d23105 11px,#e84b0c 13px,#fb8122 16px,#fea732 18px,#f1cb3a 20px,#d2e935 22px,#acfb38 24px,#96fe44 25px,#5dfc6f 27px,#2ff19b 29px,#20eaac 30px,#18dbc5 32px,#27bee9 35px,#38a5fb 38px,#448ffe 41px,#476ee6 46px,#4451bf 54px,#3d358b 66px,#3b2f80 70px,#38276d 73px,#351e58 80px,#341b51 85px,#341b51 98px,#33184a 99px,#33184a 110px,#321543 111px,#321543 129px,#30123b 130px,#30123b 156.5px)"></div><div style="background:linear-gradient(90deg,#7a0403 0,#a11201 6px,#bc2002 9px,#dd3d08 12px,#f76f1a 15px,#fea431 18px,#f4c73a 20px,#d9e436 22px,#b7f735 24px,#a1fd3d 25px,#71fe5f 27px,#3ff68a 29px,#2cf09e 30px,#19e2bb 32px,#1fc9dd 35px,#31aff5 38px,#4099ff 41px,#477bf2 45px,#455ed3 51px,#3f3b97 65px,#3e3891 67px,#36215f 78px,#351e58 81px,#351e58 92px,#341b51 93px,#341b51 100px,#33184a 101px,#33184a 111px,#321543 112px,#321543 130px,#30123b 131px,#30123b 156.5px)"></div><div style="background:linear-gradient(90deg,#7e0502 0,#8b0902 3px,#b41b01 8px,#d23105 11px,#f05b12 14px,#fe9029 17px,#fcb336 19px,#ecd13a 21px,#c1f334 24px,#affa37 25px,#9cfe40 26px,#52fa7a 29px,#2aefa1 31px,#19e2bb 33px,#1fc9dd 36px,#31aff5 39px,#4099ff 42px,#4682f8 45px,#4669e0 50px,#3f3b97 67px,#38276d 77px,#36215f 82px,#36215f 87px,#351e58 88px,#351e58 94px,#341b51 95px,#341b51 101px,#33184a 102px,#33184a 113px,#321543 114px,#321543 131px,#30123b 132px,#30123b 156.5px)"></div><div style="background:linear-gradient(90deg,#810602 0,#8e0a01 3px,#b71d02 8px,#d43305 11px,#f05b12 14px,#fd8d27 17px,#fdae35 19px,#f1cb3a 21px,#c8ef34 24px,#a7fc3a 26px,#7dff56 28px,#4af880 30px,#2aefa1 32px,#19e2bb 34px,#1fc9dd 37px,#37a8fa 41px,#4391fe 44px,#4773eb 49px,#424bb5 62px,#3c3286 73px,#3c3286 74px,#392a73 78px,#372466 84px,#341b51 99px,#341b51 103px,#33184a 104px,#33184a 114px,#321543 115px,#321543 132px,#30123b 133px,#30123b 156.5px)"></div><div style="background:linear-gradient(90deg,#880802 0,#880802 1px,#a71401 6px,#ca2a04 10px,#ef5811 14px,#fd8a26 17px,#faba39 20px,#ebd339 22px,#c1f334 25px,#9ffd3f 27px,#75fe5c 29px,#46f884 31px,#27eea4 33px,#19e2bb 35px,#1fc9dd 38px,#37a8fa 42px,#4294ff 45px,#477bf2 49px,#4559cb 59px,#3d358b 74px,#3b2f80 78px,#392a73 81px,#38276d 86px,#372466 87px,#351e58 97px,#341b51 100px,#341b51 104px,#33184a 105px,#33184a 115px,#321543 116px,#321543 133px,#30123b 134px,#30123b 156.5px)"></div><div style="background:linear-gradient(90deg,#8b0902 0,#9e1001 4px,#c32503 9px,#d43305 11px,#ef5811 14px,#fe962b 18px,#f6c33a 21px,#d7e535 24px,#b9f635 26px,#99fe42 28px,#6dfe62 30px,#43f787 32px,#25eca7 34px,#18e0bd 36px,#1fc9dd 39px,#2fb2f4 42px,#4294ff 46px,#4776ee 52px,#455ccf 60px,#424bb5 65px,#4249b1 67px,#3f3b97 73px,#392a73 85px,#38276d 86px,#372466 91px,#36215f 92px,#351e58 99px,#341b51 102px,#341b51 105px,#33184a 106px,#33184a 116px,#321543 117px,#321543 134px,#30123b 135px,#30123b 156.5px)"></div><div style="background:linear-gradient(90deg,#920b01 0,#920b01 1px,#b41b01 7px,#cc2b04 10px,#ed5510 14px,#fe932a 18px,#fcb336 20px,#f1cb3a 22px,#cdec34 25px,#b1f936 27px,#8fff49 29px,#4ef97d 32px,#2ff19b 34px,#1ce6b4 36px,#18d9c8 38px,#2ab9ee 42px,#3e9bfe 46px,#4682f8 51px,#4559cb 62px,#3f3b97 74px,#3d358b 78px,#392a73 85px,#392a73 87px,#372466 90px,#36215f 97px,#351e58 98px,#351e58 101px,#341b51 102px,#341b51 107px,#33184a 108px,#33184a 118px,#321543 119px,#321543 136px,#30123b 137px,#30123b 156.5px)"></div><div style="background:linear-gradient(90deg,#980e01 0,#a71401 4px,#ce2d04 10px,#ed5510 14px,#fe9029 18px,#f9bc39 21px,#dfdf37 24px,#b7f735 27px,#96fe44 29px,#46f884 33px,#2aefa1 35px,#1ae4b6 37px,#1bd0d5 40px,#2fb2f4 44px,#4099ff 48px,#4680f6 53px,#455ed3 62px,#4143a7 71px,#4040a2 73px,#3e3891 77px,#3a2d79 85px,#392a73 86px,#392a73 88px,#372466 91px,#36215f 98px,#351e58 99px,#351e58 102px,#341b51 103px,#341b51 108px,#33184a 109px,#33184a 119px,#321543 120px,#321543 138px,#30123b 139px,#30123b 156.5px)"></div><div style="background:linear-gradient(90deg,#a41301 0,#ac1701 3px,#ce2d04 9px,#e4450a 12px,#f9751d 16px,#fdae35 20px,#ebd339 23px,#c8ef34 26px,#acfb38 28px,#79fe59 31px,#52fa7a 33px,#32f298 35px,#1fe9af 37px,#18ddc2 39px,#28bceb 44px,#3ba0fd 48px,#4687fb 53px,#4666dd 61px,#4040a2 73px,#3f3e9c 75px,#3d358b 79px,#38276d 90px,#36215f 96px,#351e58 101px,#341b51 104px,#341b51 108px,#33184a 109px,#33184a 120px,#321543 121px,#321543 139px,#30123b 140px,#30123b 156.5px)"></div><div style="background:linear-gradient(90deg,#af1801 0,#cc2b04 7px,#e2430a 11px,#f36315 14px,#fd8a26 17px,#fcb136 20px,#ecd13a 23px,#cbed34 26px,#b1f936 28px,#92ff47 30px,#4af880 34px,#25eca7 37px,#19e2bb 39px,#1fc9dd 43px,#31aff5 47px,#4099ff 51px,#4680f6 56px,#4456c7 67px,#4249b1 71px,#3e3891 78px,#3a2d79 86px,#38276d 89px,#372466 94px,#36215f 95px,#351e58 102px,#341b51 103px,#341b51 108px,#33184a 109px,#33184a 120px,#321543 121px,#321543 141px,#30123b 142px,#30123b 156.5px)"></div><div style="background:linear-gradient(90deg,#bc2002 0,#d63506 7px,#e84b0c 11px,#fc8423 16px,#fbb637 20px,#ebd339 23px,#cdec34 26px,#a7fc3a 29px,#79fe59 32px,#35f394 36px,#20eaac 38px,#18dbc5 41px,#28bceb 46px,#3ba0fd 51px,#458afc 55px,#4669e0 63px,#4143a7 74px,#3d358b 80px,#3b2f80 84px,#392a73 87px,#392a73 89px,#372466 92px,#372466 95px,#36215f 96px,#341b51 106px,#341b51 109px,#33184a 110px,#33184a 121px,#321543 122px,#321543 142px,#30123b 143px,#30123b 156.5px)"></div><div style="background:linear-gradient(90deg,#c82803 0,#df3f08 7px,#f26014 12px,#fe992c 17px,#f6c33a 21px,#d7e535 25px,#b4f836 28px,#9cfe40 30px,#6dfe62 33px,#3cf58e 36px,#25eca7 38px,#18dec0 41px,#20c7df 45px,#31aff5 49px,#4099ff 53px,#4680f6 58px,#4661d6 66px,#3f3b97 78px,#392a73 88px,#36215f 97px,#341b51 107px,#341b51 110px,#33184a 111px,#33184a 122px,#321543 123px,#321543 144px,#30123b 145px,#30123b 156.5px)"></div><div style="background:linear-gradient(90deg,#d43305 0,#e84b0c 7px,#f46617 11px,#fea431 17px,#f2c93a 21px,#d4e735 25px,#b4f836 28px,#8fff49 31px,#3ff68a 36px,#27eea4 38px,#18e0bd 41px,#1fc9dd 45px,#38a5fb 51px,#458cfd 56px,#476ee6 63px,#4249b1 74px,#3b2f80 84px,#38276d 91px,#36215f 97px,#341b51 107px,#341b51 111px,#33184a 112px,#33184a 124px,#321543 125px,#321543 145px,#30123b 146px,#30123b 156.5px)"></div><div style="background:linear-gradient(90deg,#df3f08 0,#ed5510 6px,#f9781e 11px,#fcb136 17px,#eecf3a 21px,#c3f134 26px,#a4fc3c 29px,#7dff56 32px,#32f298 37px,#1ce6b4 40px,#18d7ca 43px,#2eb4f2 49px,#4099ff 54px,#477bf2 60px,#455ed3 68px,#4040a2 77px,#3c3286 83px,#3c3286 84px,#392a73 88px,#36215f 97px,#351e58 102px,#351e58 105px,#341b51 106px,#341b51 112px,#33184a 113px,#33184a 125px,#321543 126px,#321543 146px,#30123b 147px,#30123b 156.5px)"></div><div style="background:linear-gradient(90deg,#ea4e0d 0,#f36315 5px,#fe932a 12px,#fbb637 16px,#e5d938 21px,#bcf534 26px,#9cfe40 29px,#65fd69 33px,#3cf58e 36px,#20eaac 39px,#18e0bd 41px,#1ecbda 45px,#37a8fa 51px,#4391fe 55px,#4773eb 62px,#4451bf 72px,#4146ac 75px,#3c3286 83px,#3c3286 84px,#392a73 88px,#36215f 97px,#341b51 107px,#341b51 112px,#33184a 113px,#33184a 125px,#321543 126px,#321543 146px,#30123b 147px,#30123b 156.5px)"></div><div style="background:linear-gradient(90deg,#f26014 0,#f9781e 5px,#fdae35 13px,#eecf3a 18px,#c3f134 24px,#a7fc3a 27px,#69fd66 32px,#35f394 36px,#1fe9af 39px,#18dbc5 42px,#25c0e7 47px,#38a5fb 51px,#458afc 56px,#466be3 64px,#4146ac 75px,#3b2f80 84px,#372466 93px,#351e58 100px,#351e58 104px,#341b51 105px,#341b51 112px,#33184a 113px,#33184a 125px,#321543 126px,#321543 146px,#30123b 147px,#30123b 156.5px)"></div><div style="background:linear-gradient(90deg,#f8721c 0,#fdac34 10px,#f2c93a 15px,#c8ef34 22px,#a4fc3c 26px,#75fe5c 30px,#4ef97d 33px,#27eea4 37px,#19e2bb 40px,#1ccdd8 44px,#37a8fa 50px,#458cfd 55px,#4771e9 62px,#434eba 72px,#4143a7 75px,#4040a2 77px,#3a2d79 85px,#372466 92px,#36215f 97px,#351e58 100px,#351e58 103px,#341b51 104px,#341b51 112px,#33184a 113px,#33184a 124px,#321543 125px,#321543 144px,#30123b 145px,#30123b 156.5px)"></div><div style="background:linear-gradient(90deg,#fc8423 0,#fbb637 9px,#ecd13a 14px,#c3f134 21px,#a1fd3d 25px,#80ff53 28px,#4ef97d 32px,#27eea4 36px,#18dec0 40px,#22c5e2 45px,#3aa3fc 50px,#458afc 55px,#476ee6 62px,#4249b1 73px,#3b2f80 83px,#3b2f80 84px,#392a73 86px,#36215f 95px,#341b51 105px,#341b51 111px,#33184a 112px,#33184a 123px,#321543 124px,#321543 142px,#30123b 143px,#30123b 156.5px)"></div><div style="background:linear-gradient(90deg,#fe962b 0,#f8be39 8px,#ecd13a 12px,#c3f134 19px,#a7fc3a 23px,#96fe44 25px,#61fc6c 29px,#38f491 33px,#22ebaa 36px,#18e0bd 39px,#1ecbda 43px,#35abf8 48px,#448ffe 53px,#4776ee 59px,#4456c7 68px,#4249b1 72px,#3b2f80 82px,#372466 91px,#351e58 98px,#351e58 102px,#341b51 103px,#341b51 110px,#33184a 111px,#33184a 121px,#321543 122px,#321543 140px,#30123b 141px,#30123b 156.5px)"></div><div style="background:linear-gradient(90deg,#fea732 0,#f5c53a 7px,#dde037 13px,#b1f936 20px,#8fff49 24px,#3ff68a 31px,#27eea4 34px,#18e0bd 38px,#1ecbda 42px,#38a5fb 48px,#458cfd 53px,#466be3 61px,#4143a7 73px,#4040a2 75px,#3a2d79 83px,#38276d 88px,#36215f 94px,#341b51 104px,#341b51 109px,#33184a 110px,#33184a 120px,#321543 121px,#321543 137px,#30123b 138px,#30123b 156.5px)"></div><div style="background:linear-gradient(90deg,#fbb637 0,#ecd13a 7px,#d0ea34 13px,#a9fb39 19px,#8bff4b 23px,#3cf58e 30px,#1fe9af 34px,#18dbc5 38px,#25c0e7 43px,#3ba0fd 48px,#4687fb 53px,#4669e0 61px,#424bb5 70px,#3b2f80 81px,#372466 90px,#351e58 97px,#351e58 101px,#341b51 102px,#341b51 108px,#33184a 109px,#33184a 118px,#321543 119px,#321543 135px,#30123b 136px,#30123b 156.5px)"></div><div style="background:linear-gradient(90deg,#f6c33a 0,#dde037 8px,#b7f735 15px,#96fe44 20px,#65fd69 25px,#38f491 29px,#1fe9af 33px,#18d9c8 37px,#28bceb 43px,#37a8fa 46px,#448ffe 51px,#476ee6 59px,#4249b1 70px,#4040a2 74px,#3b2f80 81px,#3b2f80 82px,#392a73 84px,#392a73 86px,#372466 89px,#36215f 94px,#351e58 97px,#351e58 100px,#341b51 101px,#341b51 107px,#33184a 108px,#33184a 117px,#321543 118px,#321543 133px,#30123b 134px,#30123b 156.5px)"></div><div style="background:linear-gradient(90deg,#efcd3a 0,#c1f334 11px,#a1fd3d 16px,#8fff49 19px,#61fc6c 24px,#27eea4 30px,#18e0bd 34px,#1ecbda 39px,#31aff5 44px,#4196ff 49px,#477bf2 55px,#4454c3 66px,#3b2f80 81px,#38276d 86px,#372466 91px,#36215f 92px,#351e58 99px,#341b51 102px,#341b51 106px,#33184a 107px,#33184a 115px,#321543 116px,#321543 131px,#30123b 132px,#30123b 156.5px)"></div><div style="background:linear-gradient(90deg,#e7d739 0,#b4f836 11px,#8fff49 17px,#5dfc6f 23px,#27eea4 29px,#18dec0 33px,#1fc9dd 38px,#38a5fb 45px,#458afc 51px,#4771e9 57px,#4451bf 67px,#3c3286 79px,#38276d 86px,#372466 91px,#36215f 92px,#351e58 99px,#341b51 102px,#341b51 106px,#33184a 107px,#33184a 114px,#321543 115px,#321543 129px,#30123b 130px,#30123b 156.5px)"></div><div style="background:linear-gradient(90deg,#dde037 0,#b1f936 9px,#8fff49 15px,#52fa7a 23px,#27eea4 28px,#19e3b9 31px,#1ccdd8 36px,#37a8fa 44px,#448ffe 50px,#466be3 58px,#4040a2 73px,#3b2f80 80px,#38276d 87px,#351e58 96px,#351e58 99px,#341b51 100px,#341b51 105px,#33184a 106px,#33184a 113px,#321543 114px,#321543 128px,#30123b 129px,#30123b 156.5px)"></div><div style="background:linear-gradient(90deg,#d2e935 0,#acfb38 8px,#88ff4e 14px,#3ff68a 24px,#22ebaa 28px,#18dec0 31px,#23c3e4 38px,#37a8fa 44px,#458cfd 50px,#476ee6 57px,#4249b1 69px,#4146ac 71px,#3a2d79 81px,#38276d 87px,#372466 88px,#36215f 93px,#351e58 96px,#351e58 99px,#341b51 100px,#341b51 105px,#33184a 106px,#33184a 112px,#321543 113px,#321543 127px,#30123b 128px,#30123b 156.5px)"></div><div style="background:linear-gradient(90deg,#c8ef34 0,#a7fc3a 7px,#84ff51 13px,#35f394 24px,#1ae4b6 29px,#1ad4d0 33px,#2cb7f0 40px,#3d9efe 46px,#4685fa 51px,#455ccf 62px,#3d358b 77px,#3a2d79 81px,#38276d 86px,#36215f 92px,#33184a 107px,#33184a 112px,#321543 113px,#321543 126px,#30123b 127px,#30123b 156.5px)"></div><div style="background:linear-gradient(90deg,#bef434 0,#9ffd3f 7px,#71fe5f 14px,#35f394 23px,#1ae4b6 28px,#1ad2d2 33px,#2eb4f2 40px,#4099ff 47px,#4680f6 52px,#4661d6 60px,#4040a2 72px,#3b2f80 79px,#38276d 86px,#36215f 92px,#351e58 97px,#341b51 100px,#341b51 104px,#33184a 105px,#33184a 111px,#321543 112px,#321543 125px,#30123b 126px,#30123b 156.5px)"></div><div style="background:linear-gradient(90deg,#b7f735 0,#96fe44 7px,#55fa76 17px,#35f394 22px,#19e3b9 28px,#1bd0d5 33px,#2fb2f4 40px,#4196ff 47px,#4680f6 52px,#4661d6 60px,#4040a2 72px,#3c3286 77px,#38276d 86px,#36215f 92px,#351e58 97px,#341b51 100px,#341b51 104px,#33184a 105px,#33184a 111px,#321543 112px,#321543 125px,#30123b 126px,#30123b 156.5px)"></div></div>
<div class="hm" style="left:45px;top:142.4px;width:156.5px;height:110.8px"><div style="background:linear-gradient(90deg,#9ffd3f 0,#75fe5c 2px,#43f787 4px,#2cf09e 5px,#1de7b2 6px,#18ddc2 7px,#1ccdd8 8px,#37a8fa 10px,#4391fe 11px,#477bf2 12px,#4456c7 14px,#4249b1 15px,#4040a2 16px,#3f3e9c 18px,#4146ac 20px,#4249b1 23px,#3c3286 35px,#392a73 43px,#372466 52px,#341b51 67px,#341b51 70px,#33184a 71px,#33184a 76px,#321543 77px,#321543 87px,#30123b 88px,#30123b 156.5px)"></div><div style="background:linear-gradient(90deg,#a7fc3a 0,#96fe44 1px,#65fd69 3px,#32f298 5px,#20eaac 6px,#18e0bd 7px,#1ad2d2 8px,#35abf8 10px,#4391fe 11px,#477bf2 12px,#4664da 13px,#3f3e9c 15px,#3d358b 16px,#3c3286 17px,#3f3b97 19px,#4146ac 21px,#4249b1 23px,#4146ac 25px,#3b2f80 37px,#3b2f80 39px,#392a73 42px,#38276d 49px,#372466 50px,#372466 55px,#36215f 56px,#36215f 60px,#351e58 61px,#351e58 65px,#341b51 66px,#341b51 70px,#33184a 71px,#33184a 77px,#321543 78px,#321543 87px,#30123b 88px,#30123b 156.5px)"></div><div style="background:linear-gradient(90deg,#affa37 0,#88ff4e 2px,#38f491 5px,#25eca7 6px,#19e2bb 7px,#19d5cd 8px,#33adf7 10px,#4294ff 11px,#477bf2 12px,#4661d6 13px,#4249b1 14px,#3e3891 15px,#3b2f80 16px,#3a2d79 17px,#3b2f80 18px,#3e3891 19px,#4249b1 22px,#4146ac 26px,#3d358b 33px,#392a73 43px,#38276d 46px,#372466 53px,#341b51 68px,#33184a 73px,#33184a 77px,#321543 78px,#321543 88px,#30123b 89px,#30123b 156.5px)"></div><div style="background:linear-gradient(90deg,#b4f836 0,#92ff47 2px,#43f787 5px,#2aefa1 6px,#1ae4b6 7px,#18d7ca 8px,#20c7df 9px,#31aff5 10px,#4196ff 11px,#467df4 12px,#4661d6 13px,#4249b1 14px,#3e3891 15px,#3a2d79 16px,#392a73 17px,#3d358b 19px,#4146ac 21px,#4249b1 23px,#4249b1 25px,#3e3891 32px,#3b2f80 38px,#392a73 43px,#38276d 46px,#36215f 60px,#351e58 63px,#341b51 68px,#341b51 71px,#33184a 72px,#33184a 77px,#321543 78px,#321543 88px,#30123b 89px,#30123b 156.5px)"></div><div style="background:linear-gradient(90deg,#bcf534 0,#acfb38 1px,#84ff51 3px,#4af880 5px,#1fe9af 7px,#18ddc2 8px,#1ecbda 9px,#2eb4f2 10px,#3e9bfe 11px,#4682f8 12px,#4669e0 13px,#434eba 14px,#3f3e9c 15px,#3c3286 16px,#3b2f80 17px,#3c3286 18px,#3f3b97 19px,#424bb5 22px,#424bb5 24px,#3d358b 34px,#3c3286 37px,#392a73 41px,#372466 50px,#372466 56px,#36215f 57px,#36215f 61px,#351e58 62px,#351e58 66px,#341b51 67px,#341b51 71px,#33184a 72px,#33184a 77px,#321543 78px,#321543 88px,#30123b 89px,#30123b 156.5px)"></div><div style="background:linear-gradient(90deg,#c6f034 0,#a4fc3c 2px,#8fff49 3px,#38f491 6px,#22ebaa 7px,#18e0bd 8px,#1bd0d5 9px,#2ab9ee 10px,#3ba0fd 11px,#458afc 12px,#4773eb 13px,#4249b1 15px,#3f3b97 17px,#434eba 22px,#4249b1 26px,#3d358b 34px,#3c3286 37px,#392a73 41px,#372466 46px,#372466 57px,#36215f 58px,#36215f 62px,#351e58 63px,#351e58 66px,#341b51 67px,#341b51 71px,#33184a 72px,#33184a 78px,#321543 79px,#321543 89px,#30123b 90px,#30123b 156.5px)"></div><div style="background:linear-gradient(90deg,#cdec34 0,#acfb38 2px,#99fe42 3px,#80ff53 4px,#43f787 6px,#2aefa1 7px,#19e3b9 8px,#1ad4d0 9px,#35abf8 11px,#4294ff 12px,#4680f6 13px,#4669e0 14px,#434eba 16px,#4249b1 18px,#4451bf 21px,#424bb5 25px,#3d358b 34px,#3c3286 37px,#38276d 42px,#372466 45px,#372466 57px,#36215f 58px,#36215f 62px,#351e58 63px,#351e58 67px,#341b51 68px,#341b51 72px,#33184a 73px,#33184a 78px,#321543 79px,#321543 89px,#30123b 90px,#30123b 156.5px)"></div><div style="background:linear-gradient(90deg,#d4e735 0,#b4f836 2px,#a1fd3d 3px,#8bff4b 4px,#4ef97d 6px,#2ff19b 7px,#1de7b2 8px,#18d9c8 9px,#20c7df 10px,#2fb2f4 11px,#3d9efe 12px,#458cfd 13px,#4669e0 15px,#4559cb 17px,#4454c3 20px,#4451bf 24px,#3c3286 36px,#3c3286 37px,#372466 43px,#36215f 46px,#372466 53px,#372466 58px,#36215f 59px,#351e58 66px,#341b51 69px,#341b51 72px,#33184a 73px,#33184a 79px,#321543 80px,#321543 90px,#30123b 91px,#30123b 156.5px)"></div><div style="background:linear-gradient(90deg,#dde037 0,#bef434 2px,#a9fb39 3px,#96fe44 4px,#59fb73 6px,#38f491 7px,#20eaac 8px,#18dec0 9px,#1ccdd8 10px,#2ab9ee 11px,#37a8fa 12px,#4099ff 13px,#4687fb 14px,#476ee6 16px,#455ed3 19px,#3d358b 35px,#3b2f80 38px,#36215f 44px,#36215f 50px,#372466 51px,#372466 58px,#36215f 59px,#36215f 63px,#351e58 64px,#351e58 67px,#341b51 68px,#341b51 72px,#33184a 73px,#33184a 79px,#321543 80px,#321543 90px,#30123b 91px,#30123b 156.5px)"></div><div style="background:linear-gradient(90deg,#e3db38 0,#c6f034 2px,#b4f836 3px,#9ffd3f 4px,#84ff51 5px,#65fd69 6px,#43f787 7px,#27eea4 8px,#19e3b9 9px,#1ad4d0 10px,#2fb2f4 12px,#3ba0fd 13px,#4294ff 14px,#477bf2 16px,#4664da 19px,#3b2f80 38px,#372466 43px,#36215f 44px,#36215f 50px,#372466 51px,#372466 59px,#36215f 60px,#351e58 67px,#341b51 70px,#341b51 73px,#33184a 74px,#33184a 79px,#321543 80px,#321543 91px,#30123b 92px,#30123b 156.5px)"></div><div style="background:linear-gradient(90deg,#ebd339 0,#bcf534 3px,#a9fb39 4px,#92ff47 5px,#4ef97d 7px,#2ff19b 8px,#1ce6b4 9px,#18d9c8 10px,#2ab9ee 12px,#3d9efe 14px,#4685fa 16px,#4669e0 19px,#4143a7 30px,#36215f 45px,#36215f 49px,#372466 50px,#372466 59px,#36215f 60px,#36215f 64px,#351e58 65px,#351e58 68px,#341b51 69px,#341b51 73px,#33184a 74px,#33184a 80px,#321543 81px,#321543 92px,#30123b 93px,#30123b 156.5px)"></div><div style="background:linear-gradient(90deg,#efcd3a 0,#d7e535 2px,#b1f936 4px,#9cfe40 5px,#7dff56 6px,#38f491 8px,#20eaac 9px,#18dec0 10px,#1bd0d5 11px,#2fb2f4 13px,#4099ff 15px,#4682f8 17px,#476ee6 19px,#4454c3 25px,#3a2d79 40px,#38276d 43px,#372466 44px,#372466 52px,#38276d 53px,#372466 56px,#372466 60px,#36215f 61px,#351e58 68px,#341b51 69px,#341b51 73px,#33184a 74px,#33184a 80px,#321543 81px,#321543 92px,#30123b 93px,#30123b 156.5px)"></div><div style="background:linear-gradient(90deg,#f5c53a 0,#cdec34 3px,#b9f635 4px,#a4fc3c 5px,#88ff4e 6px,#43f787 8px,#27eea4 9px,#19e3b9 10px,#19d5cd 11px,#2ab9ee 13px,#3ba0fd 15px,#458afc 17px,#466be3 20px,#4454c3 26px,#3e3891 35px,#3d358b 37px,#392a73 42px,#38276d 45px,#38276d 56px,#372466 57px,#372466 61px,#36215f 62px,#351e58 69px,#341b51 70px,#341b51 73px,#33184a 74px,#33184a 80px,#321543 81px,#321543 93px,#30123b 94px,#30123b 156.5px)"></div><div style="background:linear-gradient(90deg,#f8be39 0,#e3db38 2px,#c1f334 4px,#acfb38 5px,#92ff47 6px,#4ef97d 8px,#32f298 9px,#1de7b2 10px,#18dbc5 11px,#25c0e7 13px,#2fb2f4 14px,#3e9bfe 16px,#4682f8 18px,#466be3 21px,#4451bf 27px,#3b2f80 40px,#392a73 45px,#38276d 48px,#38276d 57px,#372466 58px,#36215f 65px,#351e58 66px,#351e58 69px,#341b51 70px,#341b51 73px,#33184a 74px,#33184a 80px,#321543 81px,#321543 94px,#30123b 95px,#30123b 156.5px)"></div><div style="background:linear-gradient(90deg,#fbb838 0,#e9d539 2px,#c8ef34 4px,#b4f836 5px,#9ffd3f 6px,#59fb73 8px,#22ebaa 10px,#18e0bd 11px,#20c7df 13px,#33adf7 15px,#4196ff 17px,#467df4 19px,#476ee6 21px,#4454c3 27px,#3e3891 36px,#3c3286 40px,#3a2d79 43px,#392a73 48px,#392a73 53px,#38276d 54px,#38276d 58px,#372466 59px,#36215f 66px,#351e58 67px,#341b51 72px,#33184a 75px,#33184a 80px,#321543 81px,#321543 94px,#30123b 95px,#30123b 156.5px)"></div><div style="background:linear-gradient(90deg,#fcb136 0,#eecf3a 2px,#d0ea34 4px,#bcf534 5px,#a7fc3a 6px,#8bff4b 7px,#46f884 9px,#2cf09e 10px,#1ce6b4 11px,#18dbc5 12px,#25c0e7 14px,#37a8fa 16px,#448ffe 18px,#4778f0 20px,#455ed3 25px,#3e3891 37px,#3a2d79 46px,#38276d 59px,#372466 60px,#372466 63px,#36215f 64px,#351e58 69px,#341b51 70px,#341b51 73px,#33184a 74px,#33184a 80px,#321543 81px,#321543 95px,#30123b 96px,#30123b 156.5px)"></div><div style="background:linear-gradient(90deg,#fdac34 0,#f2c93a 2px,#d7e535 4px,#c6f034 5px,#affa37 6px,#96fe44 7px,#59fb73 9px,#38f491 10px,#25eca7 11px,#19e2bb 12px,#18d7ca 13px,#1fc9dd 14px,#31aff5 16px,#4099ff 18px,#4680f6 20px,#4666dd 24px,#4146ac 33px,#3d358b 40px,#3a2d79 49px,#392a73 56px,#372466 63px,#33184a 75px,#33184a 80px,#321543 81px,#321543 96px,#30123b 97px,#30123b 156.5px)"></div><div style="background:linear-gradient(90deg,#fea431 0,#f5c53a 2px,#cdec34 5px,#b9f635 6px,#a1fd3d 7px,#6dfe62 9px,#32f298 11px,#20eaac 12px,#18e0bd 13px,#20c7df 15px,#33adf7 17px,#4294ff 19px,#4776ee 22px,#4454c3 30px,#3f3e9c 37px,#3d358b 43px,#3b2f80 48px,#392a73 57px,#38276d 62px,#372466 63px,#36215f 68px,#341b51 71px,#33184a 76px,#33184a 80px,#321543 81px,#321543 97px,#30123b 98px,#30123b 156.5px)"></div><div style="background:linear-gradient(90deg,#fe9e2f 0,#f8be39 2px,#e3db38 4px,#c1f334 6px,#affa37 7px,#80ff53 9px,#46f884 11px,#2ff19b 12px,#1fe9af 13px,#18dec0 14px,#22c5e2 16px,#37a8fa 18px,#448ffe 20px,#4771e9 24px,#434eba 33px,#3f3e9c 39px,#3c3286 48px,#392a73 59px,#38276d 64px,#36215f 67px,#36215f 69px,#341b51 72px,#33184a 77px,#33184a 82px,#321543 83px,#321543 98px,#30123b 99px,#30123b 156.5px)"></div><div style="background:linear-gradient(90deg,#fe962b 0,#faba39 2px,#e9d539 4px,#b9f635 7px,#a7fc3a 8px,#92ff47 9px,#79fe59 10px,#3ff68a 12px,#2aefa1 13px,#1ce6b4 14px,#18d9c8 15px,#27bee9 17px,#3ba0fd 19px,#458afc 21px,#466be3 26px,#4146ac 37px,#4143a7 39px,#3f3b97 43px,#3a2d79 57px,#392a73 62px,#38276d 63px,#38276d 65px,#351e58 70px,#351e58 72px,#33184a 75px,#33184a 84px,#321543 85px,#321543 99px,#30123b 100px,#30123b 156.5px)"></div><div style="background:linear-gradient(90deg,#fd8d27 0,#fcb336 2px,#eecf3a 4px,#c3f134 7px,#9ffd3f 9px,#6dfe62 11px,#4ef97d 12px,#20eaac 14px,#18e0bd 15px,#1ad4d0 16px,#2cb7f0 18px,#3e9bfe 20px,#4682f8 23px,#4664da 29px,#3f3e9c 43px,#3d358b 50px,#3a2d79 60px,#38276d 66px,#351e58 71px,#33184a 77px,#33184a 85px,#321543 86px,#321543 100px,#30123b 101px,#30123b 156.5px)"></div><div style="background:linear-gradient(90deg,#fc8423 0,#fdac34 2px,#f2c93a 4px,#dbe236 6px,#bcf534 8px,#a9fb39 9px,#96fe44 10px,#3ff68a 13px,#27eea4 14px,#19e3b9 15px,#18d7ca 16px,#28bceb 18px,#3d9efe 20px,#4685fa 23px,#4666dd 29px,#4040a2 43px,#3e3891 49px,#38276d 67px,#351e58 72px,#341b51 75px,#33184a 80px,#33184a 87px,#321543 88px,#321543 100px,#30123b 101px,#30123b 156.5px)"></div><div style="background:linear-gradient(90deg,#fa7b1f 0,#fcb336 3px,#eecf3a 5px,#c3f134 8px,#b1f936 9px,#9cfe40 10px,#84ff51 11px,#46f884 13px,#2cf09e 14px,#1ce6b4 15px,#18dbc5 16px,#27bee9 18px,#3aa3fc 20px,#4391fe 22px,#477bf2 25px,#4559cb 34px,#3f3e9c 46px,#3a2d79 63px,#38276d 66px,#38276d 68px,#36215f 70px,#36215f 72px,#341b51 75px,#341b51 78px,#33184a 79px,#33184a 87px,#321543 88px,#321543 100px,#30123b 101px,#30123b 156.5px)"></div><div style="background:linear-gradient(90deg,#f76f1a 0,#fea933 3px,#f4c73a 5px,#cbed34 8px,#b9f635 9px,#a4fc3c 10px,#8bff4b 11px,#4ef97d 13px,#32f298 14px,#1fe9af 15px,#18ddc2 16px,#25c0e7 18px,#38a5fb 20px,#458afc 23px,#466be3 29px,#4146ac 43px,#3e3891 53px,#3a2d79 64px,#372466 69px,#351e58 75px,#341b51 76px,#341b51 80px,#33184a 81px,#33184a 88px,#321543 89px,#321543 100px,#30123b 101px,#30123b 156.5px)"></div><div style="background:linear-gradient(90deg,#f36315 0,#fe9e2f 3px,#f8be39 5px,#d2e935 8px,#a9fb39 10px,#92ff47 11px,#75fe5c 12px,#52fa7a 13px,#35f394 14px,#20eaac 15px,#18e0bd 16px,#22c5e2 18px,#2eb4f2 19px,#3d9efe 21px,#4685fa 24px,#4664da 32px,#4146ac 45px,#3e3891 55px,#3c3286 61px,#38276d 68px,#36215f 73px,#341b51 79px,#341b51 82px,#33184a 83px,#33184a 89px,#321543 90px,#321543 100px,#30123b 101px,#30123b 156.5px)"></div><div style="background:linear-gradient(90deg,#ed5510 0,#fe9029 3px,#fbb838 5px,#e7d739 7px,#c6f034 9px,#affa37 10px,#99fe42 11px,#59fb73 13px,#38f491 14px,#22ebaa 15px,#19e2bb 16px,#20c7df 18px,#2cb7f0 19px,#3ba0fd 21px,#4687fb 24px,#4771e9 29px,#434eba 42px,#3e3891 57px,#372466 72px,#36215f 73px,#351e58 78px,#341b51 79px,#341b51 83px,#33184a 84px,#33184a 89px,#321543 90px,#321543 99px,#30123b 100px,#30123b 156.5px)"></div><div style="background:linear-gradient(90deg,#e84b0c 0,#fc8423 3px,#fdae35 5px,#eecf3a 7px,#cbed34 9px,#b4f836 10px,#9cfe40 11px,#80ff53 12px,#3ff68a 14px,#27eea4 15px,#19e3b9 16px,#18d7ca 17px,#28bceb 19px,#33adf7 20px,#4391fe 23px,#4773eb 29px,#4451bf 42px,#392a73 69px,#36215f 74px,#351e58 79px,#341b51 80px,#341b51 84px,#33184a 85px,#33184a 90px,#321543 91px,#321543 99px,#30123b 100px,#30123b 156.5px)"></div><div style="background:linear-gradient(90deg,#e2430a 0,#f36315 2px,#fea431 5px,#f2c93a 7px,#d2e935 9px,#b9f635 10px,#a1fd3d 11px,#65fd69 13px,#43f787 14px,#2aefa1 15px,#1ae4b6 16px,#18d9c8 17px,#27bee9 19px,#31aff5 20px,#4294ff 23px,#4680f6 26px,#455ccf 38px,#3d358b 62px,#392a73 69px,#36215f 76px,#341b51 82px,#33184a 87px,#33184a 90px,#321543 91px,#321543 99px,#30123b 100px,#30123b 156.5px)"></div><div style="background:linear-gradient(90deg,#dc3b07 0,#ef5811 2px,#fe992c 5px,#f6c33a 7px,#d7e535 9px,#c1f334 10px,#a7fc3a 11px,#6dfe62 13px,#4af880 14px,#2ff19b 15px,#1de7b2 16px,#18dbc5 17px,#25c0e7 19px,#37a8fa 21px,#448ffe 24px,#477bf2 28px,#4456c7 42px,#3c3286 65px,#392a73 69px,#372466 75px,#36215f 76px,#351e58 81px,#341b51 82px,#341b51 85px,#33184a 86px,#33184a 90px,#321543 91px,#321543 98px,#30123b 99px,#30123b 156.5px)"></div><div style="background:linear-gradient(90deg,#d63506 0,#ea4e0d 2px,#f9751d 4px,#fea431 6px,#faba39 7px,#dde037 9px,#c6f034 10px,#affa37 11px,#96fe44 12px,#52fa7a 14px,#32f298 15px,#1fe9af 16px,#18dec0 17px,#1bd0d5 18px,#2cb7f0 20px,#3ba0fd 22px,#458afc 25px,#4773eb 31px,#4451bf 46px,#3f3e9c 58px,#392a73 70px,#351e58 80px,#341b51 83px,#321543 93px,#321543 98px,#30123b 99px,#30123b 156.5px)"></div><div style="background:linear-gradient(90deg,#d02f05 0,#e5470b 2px,#fb8122 5px,#fcb336 7px,#f4c73a 8px,#cdec34 10px,#b7f735 11px,#9cfe40 12px,#7dff56 13px,#3cf58e 15px,#22ebaa 16px,#18e0bd 17px,#20c7df 19px,#33adf7 21px,#4294ff 24px,#477bf2 29px,#4559cb 42px,#3f3b97 61px,#3c3286 65px,#3b2f80 68px,#392a73 70px,#392a73 72px,#36215f 77px,#351e58 82px,#341b51 83px,#33184a 88px,#33184a 91px,#321543 92px,#321543 99px,#30123b 100px,#30123b 156.5px)"></div><div style="background:linear-gradient(90deg,#cc2b04 0,#df3f08 2px,#f9751d 5px,#fea933 7px,#f8be39 8px,#ebd339 9px,#bef434 11px,#a4fc3c 12px,#88ff4e 13px,#43f787 15px,#2aefa1 16px,#1ae4b6 17px,#18d7ca 18px,#27bee9 20px,#38a5fb 22px,#4391fe 25px,#4778f0 30px,#4451bf 47px,#4040a2 58px,#3e3891 62px,#3c3286 66px,#38276d 73px,#36215f 78px,#341b51 84px,#321543 94px,#321543 99px,#30123b 100px,#30123b 156.5px)"></div><div style="background:linear-gradient(90deg,#c52603 0,#e4450a 3px,#f56918 5px,#fe9e2f 7px,#fbb637 8px,#efcd3a 9px,#c6f034 11px,#affa37 12px,#92ff47 13px,#4ef97d 15px,#2ff19b 16px,#1de7b2 17px,#18dbc5 18px,#23c3e4 20px,#37a8fa 22px,#4294ff 25px,#4776ee 31px,#4454c3 46px,#4146ac 55px,#3f3e9c 59px,#3d358b 65px,#38276d 73px,#36215f 79px,#351e58 80px,#341b51 85px,#33184a 88px,#33184a 91px,#321543 92px,#321543 99px,#30123b 100px,#30123b 156.5px)"></div><div style="background:linear-gradient(90deg,#c12302 0,#dd3d08 3px,#f15d13 5px,#fe9029 7px,#fdac34 8px,#f5c53a 9px,#d0ea34 11px,#b7f735 12px,#9ffd3f 13px,#59fb73 15px,#38f491 16px,#22ebaa 17px,#18e0bd 18px,#20c7df 20px,#33adf7 22px,#4196ff 25px,#467df4 29px,#455ccf 42px,#4040a2 59px,#3e3891 63px,#3a2d79 71px,#372466 76px,#351e58 81px,#341b51 84px,#321543 94px,#321543 100px,#30123b 101px,#30123b 156.5px)"></div><div style="background:linear-gradient(90deg,#b91e02 0,#d83706 3px,#ec530f 5px,#f46617 6px,#fea130 8px,#f9bc39 9px,#ecd13a 10px,#c1f334 12px,#a7fc3a 13px,#8bff4b 14px,#43f787 16px,#2aefa1 17px,#1ae4b6 18px,#18d7ca 19px,#31aff5 22px,#4196ff 25px,#467df4 29px,#455ed3 41px,#4146ac 56px,#3f3e9c 60px,#3d358b 66px,#3a2d79 70px,#36215f 79px,#351e58 80px,#341b51 85px,#33184a 88px,#33184a 91px,#321543 92px,#321543 100px,#30123b 101px,#30123b 156.5px)"></div><div style="background:linear-gradient(90deg,#b41b01 0,#d02f05 3px,#e7490c 5px,#f05b12 6px,#f9751d 7px,#fe962b 8px,#fcb336 9px,#f2c93a 10px,#cbed34 12px,#b1f936 13px,#99fe42 14px,#52fa7a 16px,#32f298 17px,#1de7b2 18px,#18ddc2 19px,#25c0e7 21px,#38a5fb 23px,#448ffe 26px,#4680f6 28px,#4661d6 40px,#4143a7 58px,#3f3b97 62px,#3c3286 68px,#392a73 72px,#351e58 81px,#341b51 84px,#321543 94px,#321543 100px,#30123b 101px,#30123b 156.5px)"></div><div style="background:linear-gradient(90deg,#af1801 0,#ca2a04 3px,#eb500e 6px,#f56918 7px,#fd8a26 8px,#fea933 9px,#f7c13a 10px,#e9d539 11px,#bef434 13px,#a4fc3c 14px,#84ff51 15px,#3cf58e 17px,#22ebaa 18px,#18e0bd 19px,#1ad4d0 20px,#2eb4f2 22px,#38a5fb 23px,#458afc 26px,#477bf2 28px,#4771e9 32px,#4661d6 41px,#3f3e9c 61px,#3a2d79 71px,#372466 76px,#351e58 81px,#341b51 84px,#321543 94px,#321543 101px,#30123b 102px,#30123b 156.5px)"></div><div style="background:linear-gradient(90deg,#a91601 0,#b71d02 2px,#da3907 5px,#e5470b 6px,#f15d13 7px,#fb7e21 8px,#fe9e2f 9px,#fbb838 10px,#dfdf37 12px,#c8ef34 13px,#affa37 14px,#92ff47 15px,#46f884 17px,#2aefa1 18px,#1ae4b6 19px,#18d7ca 20px,#2eb4f2 22px,#4099ff 24px,#4682f8 26px,#4771e9 28px,#466be3 32px,#4669e0 37px,#4143a7 58px,#392a73 73px,#36215f 78px,#341b51 84px,#321543 94px,#321543 102px,#30123b 103px,#30123b 156.5px)"></div><div style="background:linear-gradient(90deg,#a41301 0,#bc2002 3px,#df3f08 6px,#ec530f 7px,#fe932a 9px,#fdae35 10px,#f6c33a 11px,#e7d739 12px,#b9f635 14px,#9ffd3f 15px,#7dff56 16px,#32f298 18px,#1de7b2 19px,#18d9c8 20px,#2eb4f2 22px,#3ba0fd 23px,#448ffe 24px,#4669e0 27px,#4661d6 28px,#455ed3 30px,#4669e0 35px,#4664da 40px,#4040a2 60px,#392a73 73px,#36215f 78px,#341b51 84px,#33184a 89px,#321543 92px,#321543 102px,#30123b 103px,#30123b 156.5px)"></div><div style="background:linear-gradient(90deg,#a11201 0,#ac1701 2px,#ce2d04 5px,#d83706 6px,#e7490c 7px,#fc8725 9px,#fea431 10px,#faba39 11px,#eecf3a 12px,#c3f134 14px,#a9fb39 15px,#8bff4b 16px,#3ff68a 18px,#22ebaa 19px,#18ddc2 20px,#1fc9dd 21px,#2fb2f4 22px,#4099ff 23px,#4685fa 24px,#4661d6 26px,#4454c3 27px,#424bb5 28px,#4249b1 29px,#4661d6 33px,#4669e0 35px,#4664da 40px,#4040a2 60px,#392a73 73px,#36215f 78px,#33184a 87px,#33184a 90px,#321543 91px,#321543 103px,#30123b 104px,#30123b 156.5px)"></div><div style="background:linear-gradient(90deg,#9b0f01 0,#a71401 2px,#c82803 5px,#d23105 6px,#e2430a 7px,#f05b12 8px,#fa7b1f 9px,#fcb136 11px,#f4c73a 12px,#e5d938 13px,#cdec34 14px,#b4f836 15px,#99fe42 16px,#4af880 18px,#27eea4 19px,#18e0bd 20px,#1ecbda 21px,#31aff5 22px,#4294ff 23px,#477bf2 24px,#4664da 25px,#434eba 26px,#4040a2 27px,#3e3891 28px,#3e3891 29px,#3f3e9c 30px,#4249b1 31px,#455ccf 33px,#4669e0 36px,#455ed3 43px,#3f3e9c 62px,#38276d 75px,#351e58 80px,#341b51 85px,#33184a 86px,#33184a 90px,#321543 91px,#321543 103px,#30123b 104px,#30123b 156.5px)"></div><div style="background:linear-gradient(90deg,#980e01 0,#a11201 2px,#ce2d04 6px,#dd3d08 7px,#f76f1a 9px,#fea732 11px,#f9bc39 12px,#ecd13a 13px,#d9e436 14px,#bef434 15px,#a4fc3c 16px,#84ff51 17px,#32f298 19px,#1ae4b6 20px,#1bd0d5 21px,#2fb2f4 22px,#4294ff 23px,#4778f0 24px,#455ed3 25px,#4146ac 26px,#3d358b 27px,#3a2d79 28px,#3a2d79 29px,#4040a2 31px,#434eba 32px,#4661d6 34px,#4669e0 36px,#4666dd 39px,#3f3e9c 62px,#3d358b 67px,#38276d 75px,#351e58 80px,#341b51 85px,#33184a 88px,#33184a 91px,#321543 92px,#321543 103px,#30123b 104px,#30123b 156.5px)"></div><div style="background:linear-gradient(90deg,#950d01 0,#950d01 1px,#bc2002 5px,#d63506 7px,#f36315 9px,#fe992c 11px,#fcb136 12px,#f4c73a 13px,#cdec34 15px,#b1f936 16px,#96fe44 17px,#6dfe62 18px,#43f787 19px,#22ebaa 20px,#18d7ca 21px,#28bceb 22px,#3d9efe 23px,#4680f6 24px,#4664da 25px,#424bb5 26px,#3f3b97 27px,#3c3286 28px,#3c3286 29px,#455ccf 33px,#4669e0 35px,#466be3 37px,#4249b1 56px,#3c3286 69px,#372466 77px,#341b51 84px,#321543 94px,#321543 103px,#30123b 104px,#30123b 156.5px)"></div><div style="background:linear-gradient(90deg,#8e0a01 0,#a11201 3px,#c32503 6px,#d02f05 7px,#ed5510 9px,#fd8a26 11px,#faba39 13px,#eecf3a 14px,#c3f134 16px,#a9fb39 17px,#88ff4e 18px,#35f394 20px,#19e3b9 21px,#1ccdd8 22px,#31aff5 23px,#4391fe 24px,#4778f0 25px,#4661d6 26px,#4451bf 27px,#4249b1 28px,#4146ac 29px,#4666dd 33px,#476ee6 35px,#4669e0 40px,#4146ac 59px,#3b2f80 71px,#36215f 79px,#341b51 84px,#321543 94px,#321543 103px,#30123b 104px,#30123b 156.5px)"></div><div style="background:linear-gradient(90deg,#8b0902 0,#920b01 2px,#bc2002 6px,#da3907 8px,#f26014 10px,#fe932a 12px,#f7c13a 14px,#e9d539 15px,#bcf534 17px,#a1fd3d 18px,#7dff56 19px,#52fa7a 20px,#2aefa1 21px,#18dec0 22px,#20c7df 23px,#33adf7 24px,#4294ff 25px,#4771e9 27px,#4666dd 28px,#4664da 29px,#4773eb 33px,#4773eb 37px,#4454c3 53px,#3c3286 70px,#351e58 81px,#341b51 86px,#33184a 87px,#33184a 91px,#321543 92px,#321543 104px,#30123b 105px,#30123b 156.5px)"></div><div style="background:linear-gradient(90deg,#880802 0,#880802 1px,#a91601 5px,#c32503 7px,#e14109 9px,#f56918 11px,#fe9b2d 13px,#f4c73a 15px,#e5d938 16px,#b7f735 18px,#99fe42 19px,#75fe5c 20px,#4af880 21px,#27eea4 22px,#18dec0 23px,#1ecbda 24px,#2eb4f2 25px,#3ba0fd 26px,#4687fb 28px,#4680f6 31px,#4680f6 34px,#455ed3 49px,#4146ac 61px,#36215f 80px,#341b51 85px,#33184a 88px,#33184a 91px,#321543 92px,#321543 104px,#30123b 105px,#30123b 156.5px)"></div><div style="background:linear-gradient(90deg,#850702 0,#850702 1px,#a41301 5px,#ca2a04 8px,#ef5811 11px,#fd8a26 13px,#fbb838 15px,#f1cb3a 16px,#e1dd37 17px,#b1f936 19px,#96fe44 20px,#71fe5f 21px,#46f884 22px,#27eea4 23px,#19e2bb 24px,#1ad2d2 25px,#25c0e7 26px,#38a5fb 28px,#4196ff 30px,#4682f8 36px,#4666dd 47px,#4454c3 56px,#3d358b 70px,#392a73 75px,#392a73 76px,#372466 78px,#341b51 85px,#33184a 88px,#33184a 91px,#321543 92px,#321543 104px,#30123b 105px,#30123b 156.5px)"></div><div style="background:linear-gradient(90deg,#810602 0,#810602 1px,#950d01 4px,#b71d02 7px,#dd3d08 10px,#f26014 12px,#fe9029 14px,#f9bc39 16px,#eecf3a 17px,#c6f034 19px,#acfb38 20px,#8fff49 21px,#46f884 23px,#2aefa1 24px,#19e3b9 25px,#19d5cd 26px,#28bceb 28px,#3aa3fc 31px,#448ffe 35px,#4680f6 38px,#4664da 51px,#4143a7 64px,#351e58 82px,#33184a 88px,#33184a 91px,#321543 92px,#321543 104px,#30123b 105px,#30123b 156.5px)"></div><div style="background:linear-gradient(90deg,#7e0502 0,#7e0502 1px,#a41301 6px,#c82803 9px,#ec530f 12px,#fb8122 14px,#fdae35 16px,#f6c33a 17px,#d7e535 19px,#bef434 20px,#a7fc3a 21px,#88ff4e 22px,#43f787 24px,#27eea4 25px,#19e3b9 26px,#18d7ca 27px,#25c0e7 29px,#33adf7 31px,#4196ff 35px,#4682f8 39px,#4669e0 50px,#4143a7 65px,#3b2f80 73px,#3b2f80 74px,#372466 79px,#372466 80px,#351e58 82px,#351e58 84px,#33184a 87px,#33184a 91px,#321543 92px,#321543 104px,#30123b 105px,#30123b 156.5px)"></div><div style="background:linear-gradient(90deg,#7a0403 0,#880802 3px,#ac1701 7px,#ce2d04 10px,#f15d13 13px,#fd8a26 15px,#fbb637 17px,#f2c93a 18px,#e3db38 19px,#b7f735 21px,#9cfe40 22px,#7dff56 23px,#38f491 25px,#20eaac 26px,#18e0bd 27px,#1fc9dd 29px,#2eb4f2 31px,#3ba0fd 34px,#458afc 38px,#4771e9 48px,#4666dd 53px,#3e3891 70px,#36215f 81px,#341b51 86px,#33184a 87px,#33184a 91px,#321543 92px,#321543 104px,#30123b 105px,#30123b 156.5px)"></div><div style="background:linear-gradient(90deg,#7a0403 0,#7e0502 2px,#a71401 7px,#ca2a04 10px,#ed5510 13px,#fe962b 16px,#f7c13a 18px,#d9e436 20px,#c1f334 21px,#a7fc3a 22px,#8bff4b 23px,#69fd66 24px,#43f787 25px,#2aefa1 26px,#1ce6b4 27px,#18dbc5 28px,#2ab9ee 31px,#3d9efe 35px,#458afc 39px,#466be3 52px,#4040a2 67px,#3b2f80 74px,#341b51 85px,#33184a 88px,#33184a 91px,#321543 92px,#321543 104px,#30123b 105px,#30123b 156.5px)"></div><div style="background:linear-gradient(90deg,#7a0403 0,#7e0502 2px,#af1801 8px,#d43305 11px,#f36315 14px,#fe9029 16px,#f9bc39 18px,#dde037 20px,#c6f034 21px,#affa37 22px,#92ff47 23px,#71fe5f 24px,#4af880 25px,#2ff19b 26px,#1de7b2 27px,#18dec0 28px,#20c7df 30px,#2eb4f2 32px,#3ba0fd 35px,#4687fb 40px,#476ee6 51px,#455ed3 57px,#3b2f80 74px,#341b51 85px,#33184a 88px,#33184a 91px,#321543 92px,#321543 104px,#30123b 105px,#30123b 156.5px)"></div><div style="background:linear-gradient(90deg,#7a0403 0,#7e0502 2px,#af1801 8px,#d43305 11px,#f36315 14px,#fe9029 16px,#f9bc39 18px,#dde037 20px,#c6f034 21px,#affa37 22px,#92ff47 23px,#71fe5f 24px,#4af880 25px,#2ff19b 26px,#1de7b2 27px,#18dec0 28px,#20c7df 30px,#33adf7 33px,#4196ff 37px,#4680f6 43px,#4669e0 53px,#455ccf 58px,#3b2f80 74px,#341b51 85px,#33184a 88px,#33184a 91px,#321543 92px,#321543 104px,#30123b 105px,#30123b 156.5px)"></div><div style="background:linear-gradient(90deg,#7a0403 0,#8b0902 4px,#bc2002 9px,#d63506 11px,#eb500e 13px,#fa7b1f 15px,#fdac34 17px,#f7c13a 18px,#d9e436 20px,#c1f334 21px,#a9fb39 22px,#8fff49 23px,#6dfe62 24px,#46f884 25px,#2cf09e 26px,#1de7b2 27px,#18ddc2 28px,#20c7df 30px,#2eb4f2 32px,#4099ff 37px,#458afc 40px,#466be3 52px,#4559cb 59px,#3d358b 71px,#3c3286 73px,#36215f 81px,#341b51 86px,#33184a 87px,#33184a 91px,#321543 92px,#321543 104px,#30123b 105px,#30123b 156.5px)"></div><div style="background:linear-gradient(90deg,#7e0502 0,#810602 2px,#b21a01 8px,#d63506 11px,#f46617 14px,#fe992c 16px,#fcb136 17px,#f4c73a 18px,#e5d938 19px,#b9f635 21px,#a1fd3d 22px,#65fd69 24px,#43f787 25px,#2aefa1 26px,#1ae4b6 27px,#1ad2d2 29px,#2eb4f2 32px,#4099ff 37px,#4680f6 43px,#4669e0 53px,#4559cb 59px,#3b2f80 73px,#3b2f80 74px,#372466 79px,#372466 80px,#351e58 82px,#33184a 88px,#33184a 91px,#321543 92px,#321543 104px,#30123b 105px,#30123b 156.5px)"></div><div style="background:linear-gradient(90deg,#810602 0,#850702 2px,#b41b01 8px,#d83706 11px,#f56918 14px,#fe9e2f 16px,#fbb838 17px,#efcd3a 18px,#c6f034 20px,#b1f936 21px,#99fe42 22px,#7dff56 23px,#3cf58e 25px,#25eca7 26px,#19e3b9 27px,#1bd0d5 29px,#2cb7f0 32px,#3aa3fc 35px,#458afc 40px,#466be3 52px,#4559cb 59px,#38276d 77px,#38276d 78px,#36215f 80px,#341b51 85px,#33184a 88px,#33184a 91px,#321543 92px,#321543 105px,#30123b 106px,#30123b 156.5px)"></div><div style="background:linear-gradient(90deg,#850702 0,#8e0a01 3px,#b91e02 8px,#da3907 11px,#f66c19 14px,#fea431 16px,#f8be39 17px,#d4e735 19px,#bcf534 20px,#a7fc3a 21px,#8fff49 22px,#52fa7a 24px,#35f394 25px,#20eaac 26px,#19e2bb 27px,#1ccdd8 29px,#31aff5 33px,#4099ff 37px,#4680f6 43px,#4669e0 54px,#4456c7 60px,#3d358b 70px,#3c3286 72px,#372466 78px,#341b51 85px,#33184a 88px,#33184a 91px,#321543 92px,#321543 105px,#30123b 106px,#30123b 156.5px)"></div><div style="background:linear-gradient(90deg,#8b0902 0,#8e0a01 2px,#bc2002 8px,#dc3b07 11px,#f05b12 13px,#fd8d27 15px,#fea933 16px,#f6c33a 17px,#cbed34 19px,#b4f836 20px,#84ff51 22px,#4af880 24px,#2ff19b 25px,#1fe9af 26px,#18e0bd 27px,#1ccdd8 29px,#31aff5 33px,#3e9bfe 37px,#4682f8 42px,#4666dd 55px,#4249b1 64px,#4040a2 66px,#3b2f80 72px,#3b2f80 73px,#36215f 79px,#341b51 85px,#33184a 86px,#33184a 90px,#321543 91px,#321543 106px,#30123b 107px,#30123b 156.5px)"></div><div style="background:linear-gradient(90deg,#8e0a01 0,#980e01 3px,#c82803 9px,#dd3d08 11px,#f15d13 13px,#f9751d 14px,#fdae35 16px,#f4c73a 17px,#dfdf37 18px,#c6f034 19px,#acfb38 20px,#7dff56 22px,#2cf09e 25px,#1de7b2 26px,#18dec0 27px,#22c5e2 30px,#35abf8 34px,#4391fe 39px,#467df4 44px,#4666dd 55px,#4249b1 64px,#4040a2 66px,#3a2d79 73px,#3a2d79 74px,#372466 77px,#341b51 84px,#33184a 87px,#33184a 90px,#321543 91px,#321543 107px,#30123b 108px,#30123b 156.5px)"></div><div style="background:linear-gradient(90deg,#950d01 0,#980e01 2px,#c32503 8px,#df3f08 11px,#f26014 13px,#f9781e 14px,#fe962b 15px,#fcb336 16px,#f2c93a 17px,#dde037 18px,#c3f134 19px,#a9fb39 20px,#79fe59 22px,#43f787 24px,#2cf09e 25px,#1de7b2 26px,#18ddc2 27px,#22c5e2 30px,#35abf8 34px,#4391fe 39px,#467df4 44px,#4666dd 55px,#4249b1 64px,#4040a2 66px,#392a73 74px,#392a73 75px,#372466 77px,#341b51 84px,#33184a 87px,#33184a 90px,#321543 91px,#321543 107px,#30123b 108px,#30123b 156.5px)"></div><div style="background:linear-gradient(90deg,#980e01 0,#a91601 4px,#ce2d04 9px,#eb500e 12px,#f36315 13px,#fe9b2d 15px,#fbb637 16px,#f1cb3a 17px,#c3f134 19px,#acfb38 20px,#7dff56 22px,#2ff19b 25px,#1fe9af 26px,#18dec0 27px,#20c7df 30px,#2ab9ee 32px,#3d9efe 37px,#4682f8 42px,#4666dd 54px,#4456c7 60px,#3b2f80 72px,#372466 77px,#341b51 84px,#33184a 87px,#33184a 90px,#321543 91px,#321543 107px,#30123b 108px,#30123b 156.5px)"></div><div style="background:linear-gradient(90deg,#9e1001 0,#a71401 3px,#d23105 9px,#e4450a 11px,#f56918 13px,#fe9e2f 15px,#fbb637 16px,#f1cb3a 17px,#c6f034 19px,#affa37 20px,#80ff53 22px,#4ef97d 24px,#22ebaa 26px,#19e3b9 27px,#1ad2d2 29px,#28bceb 32px,#3d9efe 37px,#458cfd 40px,#4778f0 44px,#455ed3 56px,#4249b1 64px,#4040a2 66px,#3a2d79 73px,#3a2d79 74px,#372466 77px,#341b51 84px,#33184a 87px,#33184a 91px,#321543 92px,#321543 107px,#30123b 108px,#30123b 156.5px)"></div><div style="background:linear-gradient(90deg,#a41301 0,#ac1701 3px,#d63506 9px,#e7490c 11px,#f76f1a 13px,#fea130 15px,#fbb838 16px,#dfdf37 18px,#b1f936 20px,#9ffd3f 21px,#71fe5f 23px,#3ff68a 25px,#2aefa1 26px,#1de7b2 27px,#18d7ca 29px,#25c0e7 32px,#3d9efe 37px,#4687fb 40px,#4773eb 43px,#455ed3 49px,#4456c7 58px,#424bb5 63px,#3b2f80 72px,#3b2f80 73px,#36215f 79px,#341b51 84px,#33184a 87px,#33184a 91px,#321543 92px,#321543 108px,#30123b 109px,#30123b 156.5px)"></div><div style="background:linear-gradient(90deg,#ac1701 0,#b41b01 3px,#d23105 8px,#e2430a 10px,#f26014 12px,#fd8d27 14px,#faba39 16px,#dfdf37 18px,#b7f735 20px,#8fff49 22px,#4af880 25px,#32f298 26px,#22ebaa 27px,#19e3b9 28px,#1ad4d0 30px,#2eb4f2 34px,#3e9bfe 37px,#4687fb 39px,#4664da 43px,#424bb5 48px,#4249b1 50px,#424bb5 55px,#434eba 57px,#434eba 61px,#3a2d79 74px,#36215f 79px,#33184a 88px,#33184a 91px,#321543 92px,#321543 108px,#30123b 109px,#30123b 156.5px)"></div><div style="background:linear-gradient(90deg,#b41b01 0,#be2102 4px,#dd3d08 9px,#ed5510 11px,#fe9029 14px,#f9bc39 16px,#efcd3a 17px,#cdec34 19px,#a7fc3a 21px,#80ff53 23px,#3cf58e 26px,#1de7b2 28px,#18d7ca 30px,#2cb7f0 34px,#4196ff 37px,#4680f6 39px,#455ccf 42px,#4040a2 45px,#3d358b 47px,#3b2f80 49px,#3b2f80 50px,#4040a2 56px,#4146ac 57px,#4249b1 62px,#4146ac 64px,#3b2f80 73px,#36215f 79px,#33184a 88px,#33184a 91px,#321543 92px,#321543 108px,#30123b 109px,#30123b 156.5px)"></div><div style="background:linear-gradient(90deg,#b91e02 0,#ca2a04 5px,#e2430a 9px,#f15d13 11px,#fe992c 14px,#f8be39 16px,#e1dd37 18px,#bcf534 20px,#99fe42 22px,#71fe5f 24px,#2ff19b 27px,#20eaac 28px,#19e2bb 29px,#1fc9dd 32px,#3ba0fd 36px,#4687fb 38px,#476ee6 40px,#4454c3 42px,#3d358b 45px,#392a73 47px,#372466 49px,#372466 50px,#3a2d79 53px,#3e3891 55px,#4143a7 58px,#4249b1 60px,#4146ac 64px,#3d358b 71px,#38276d 76px,#38276d 77px,#36215f 79px,#33184a 88px,#33184a 91px,#321543 92px,#321543 108px,#30123b 109px,#30123b 156.5px)"></div><div style="background:linear-gradient(90deg,#c32503 0,#cc2b04 4px,#e7490c 9px,#f46617 11px,#fe9e2f 14px,#f7c13a 16px,#dfdf37 18px,#bcf534 20px,#99fe42 22px,#75fe5c 24px,#32f298 27px,#22ebaa 28px,#19e3b9 29px,#1ad4d0 31px,#31aff5 35px,#4196ff 37px,#467df4 39px,#4666dd 41px,#4146ac 44px,#3c3286 47px,#3a2d79 49px,#3b2f80 52px,#3d358b 53px,#4146ac 58px,#4249b1 60px,#4249b1 63px,#3e3891 70px,#38276d 76px,#38276d 77px,#36215f 79px,#33184a 88px,#33184a 91px,#321543 92px,#321543 108px,#30123b 109px,#30123b 156.5px)"></div><div style="background:linear-gradient(90deg,#ca2a04 0,#d83706 5px,#ec530f 9px,#fc8423 12px,#fea933 14px,#f5c53a 16px,#cdec34 19px,#a9fb39 21px,#84ff51 23px,#59fb73 25px,#2ff19b 27px,#20eaac 28px,#18dbc5 30px,#28bceb 34px,#3d9efe 37px,#4687fb 39px,#466be3 42px,#4454c3 45px,#4249b1 48px,#4143a7 50px,#434eba 59px,#4249b1 63px,#4040a2 67px,#3e3891 69px,#3d358b 71px,#38276d 76px,#38276d 77px,#36215f 79px,#33184a 88px,#33184a 91px,#321543 92px,#321543 107px,#30123b 108px,#30123b 156.5px)"></div><div style="background:linear-gradient(90deg,#d43305 0,#dd3d08 4px,#ed5510 8px,#f76f1a 10px,#fea732 13px,#efcd3a 16px,#d7e535 18px,#b4f836 20px,#8fff49 22px,#52fa7a 25px,#2aefa1 27px,#1de7b2 28px,#18d9c8 30px,#23c3e4 33px,#3aa3fc 37px,#458afc 40px,#4773eb 43px,#455ccf 49px,#4454c3 59px,#3a2d79 74px,#36215f 79px,#341b51 84px,#321543 94px,#321543 107px,#30123b 108px,#30123b 156.5px)"></div><div style="background:linear-gradient(90deg,#dd3d08 0,#e7490c 4px,#f56918 8px,#fc8423 10px,#fbb637 13px,#e5d938 16px,#cbed34 18px,#a9fb39 20px,#84ff51 22px,#43f787 25px,#22ebaa 27px,#19e3b9 28px,#1ccdd8 31px,#2eb4f2 35px,#4196ff 39px,#467df4 43px,#4559cb 57px,#4454c3 60px,#38276d 76px,#351e58 81px,#33184a 87px,#33184a 90px,#321543 91px,#321543 106px,#30123b 107px,#30123b 156.5px)"></div><div style="background:linear-gradient(90deg,#e5470b 0,#f05b12 4px,#fb8122 8px,#fe992c 10px,#fbb838 12px,#eecf3a 14px,#cbed34 17px,#affa37 19px,#8bff4b 21px,#46f884 24px,#25eca7 26px,#18dec0 28px,#20c7df 31px,#31aff5 35px,#4099ff 39px,#4680f6 44px,#4559cb 58px,#38276d 76px,#351e58 81px,#33184a 87px,#33184a 90px,#321543 91px,#321543 104px,#30123b 105px,#30123b 156.5px)"></div><div style="background:linear-gradient(90deg,#ed5510 0,#f46617 3px,#fe962b 8px,#faba39 11px,#e1dd37 14px,#bcf534 17px,#9ffd3f 19px,#79fe59 21px,#35f394 24px,#1de7b2 26px,#18d7ca 28px,#20c7df 30px,#31aff5 34px,#4196ff 39px,#467df4 45px,#455ed3 56px,#3e3891 68px,#3d358b 70px,#392a73 74px,#392a73 75px,#36215f 78px,#341b51 83px,#33184a 86px,#33184a 89px,#321543 90px,#321543 103px,#30123b 104px,#30123b 156.5px)"></div><div style="background:linear-gradient(90deg,#f36315 0,#f9781e 3px,#fea933 8px,#f2c93a 11px,#dfdf37 13px,#b7f735 16px,#9cfe40 18px,#65fd69 21px,#38f491 23px,#27eea4 24px,#18e0bd 26px,#20c7df 29px,#2eb4f2 32px,#4099ff 38px,#4680f6 44px,#4666dd 53px,#4040a2 65px,#3a2d79 73px,#36215f 78px,#341b51 83px,#33184a 86px,#33184a 89px,#321543 90px,#321543 102px,#30123b 103px,#30123b 156.5px)"></div><div style="background:linear-gradient(90deg,#f8721c 0,#fc8725 3px,#fbb838 8px,#e9d539 11px,#c3f134 14px,#a7fc3a 16px,#79fe59 19px,#3cf58e 22px,#27eea4 23px,#18e0bd 25px,#20c7df 28px,#2cb7f0 30px,#3ba0fd 35px,#458afc 41px,#466be3 51px,#4040a2 64px,#3a2d79 73px,#372466 76px,#341b51 83px,#33184a 86px,#321543 91px,#321543 101px,#30123b 102px,#30123b 156.5px)"></div><div style="background:linear-gradient(90deg,#fb7e21 0,#fcb136 6px,#f1cb3a 9px,#d2e935 12px,#b4f836 14px,#88ff4e 17px,#52fa7a 20px,#2aefa1 22px,#1de7b2 23px,#18d7ca 25px,#2cb7f0 29px,#3aa3fc 33px,#458afc 40px,#4771e9 49px,#434eba 59px,#4146ac 61px,#4143a7 63px,#3a2d79 72px,#3a2d79 73px,#351e58 79px,#33184a 85px,#33184a 88px,#321543 89px,#321543 100px,#30123b 101px,#30123b 156.5px)"></div><div style="background:linear-gradient(90deg,#fd8a26 0,#faba39 6px,#e9d539 9px,#b7f735 13px,#96fe44 15px,#4af880 19px,#27eea4 21px,#1ce6b4 22px,#1ad4d0 24px,#2ab9ee 27px,#38a5fb 30px,#458cfd 36px,#476ee6 48px,#4249b1 60px,#372466 76px,#341b51 81px,#33184a 86px,#321543 89px,#321543 100px,#30123b 101px,#30123b 156.5px)"></div><div style="background:linear-gradient(90deg,#fe962b 0,#fcb136 4px,#f1cb3a 7px,#d2e935 10px,#b7f735 12px,#96fe44 14px,#55fa76 17px,#3ff68a 18px,#22ebaa 20px,#19e3b9 21px,#18d9c8 22px,#23c3e4 24px,#38a5fb 27px,#458cfd 31px,#477bf2 36px,#466be3 46px,#424bb5 58px,#3b2f80 70px,#351e58 78px,#33184a 84px,#33184a 87px,#321543 88px,#321543 100px,#30123b 101px,#30123b 156.5px)"></div><div style="background:linear-gradient(90deg,#fea130 0,#faba39 4px,#ecd13a 7px,#d7e535 9px,#b7f735 11px,#99fe42 13px,#52fa7a 16px,#2aefa1 18px,#1de7b2 19px,#18dec0 20px,#1ad4d0 21px,#2cb7f0 23px,#3ba0fd 25px,#458cfd 27px,#476ee6 31px,#455ed3 35px,#4664da 45px,#4559cb 51px,#3d358b 67px,#38276d 73px,#36215f 75px,#341b51 80px,#33184a 83px,#33184a 86px,#321543 87px,#321543 99px,#30123b 100px,#30123b 156.5px)"></div><div style="background:linear-gradient(90deg,#fea933 0,#f8be39 4px,#e7d739 7px,#d0ea34 9px,#affa37 11px,#8bff4b 13px,#59fb73 15px,#2cf09e 17px,#1de7b2 18px,#18ddc2 19px,#1ad2d2 20px,#2fb2f4 22px,#4294ff 24px,#467df4 26px,#4454c3 30px,#4143a7 32px,#3f3e9c 34px,#3f3e9c 36px,#4451bf 42px,#4559cb 45px,#4559cb 49px,#3f3b97 64px,#3a2d79 70px,#351e58 76px,#341b51 81px,#33184a 82px,#33184a 86px,#321543 87px,#321543 99px,#30123b 100px,#30123b 156.5px)"></div><div style="background:linear-gradient(90deg,#fdac34 0,#f7c13a 4px,#e7d739 7px,#cdec34 9px,#acfb38 11px,#9cfe40 12px,#55fa76 15px,#27eea4 17px,#1ae4b6 18px,#18d7ca 19px,#2ab9ee 21px,#37a8fa 22px,#4196ff 23px,#458afc 24px,#476ee6 26px,#3f3e9c 30px,#3b2f80 32px,#392a73 33px,#38276d 34px,#38276d 35px,#3a2d79 37px,#4249b1 42px,#4454c3 45px,#4456c7 49px,#4249b1 57px,#3f3b97 63px,#3e3891 65px,#38276d 72px,#36215f 74px,#341b51 79px,#33184a 82px,#33184a 85px,#321543 86px,#321543 98px,#30123b 99px,#30123b 156.5px)"></div><div style="background:linear-gradient(90deg,#fdae35 0,#f6c33a 4px,#e7d739 7px,#cdec34 9px,#acfb38 11px,#9cfe40 12px,#55fa76 15px,#27eea4 17px,#1ae4b6 18px,#18d9c8 19px,#28bceb 21px,#35abf8 22px,#3e9bfe 23px,#4680f6 25px,#4666dd 27px,#3f3b97 31px,#3b2f80 33px,#3b2f80 34px,#3a2d79 35px,#3f3b97 39px,#424bb5 42px,#4456c7 46px,#4454c3 51px,#4040a2 61px,#3d358b 66px,#392a73 70px,#392a73 71px,#36215f 74px,#341b51 79px,#33184a 82px,#33184a 85px,#321543 86px,#321543 98px,#30123b 99px,#30123b 156.5px)"></div><div style="background:linear-gradient(90deg,#fcb136 0,#f6c33a 4px,#e5d938 7px,#cdec34 9px,#acfb38 11px,#88ff4e 13px,#43f787 16px,#2cf09e 17px,#1fe9af 18px,#18e0bd 19px,#20c7df 21px,#35abf8 23px,#4294ff 25px,#4773eb 28px,#4454c3 32px,#424bb5 35px,#4451bf 39px,#455ccf 44px,#4559cb 50px,#3f3b97 64px,#392a73 70px,#392a73 71px,#36215f 74px,#341b51 79px,#33184a 82px,#33184a 85px,#321543 86px,#321543 98px,#30123b 99px,#30123b 156.5px)"></div><div style="background:linear-gradient(90deg,#fcb136 0,#f5c53a 4px,#e5d938 7px,#bef434 10px,#9ffd3f 12px,#8fff49 13px,#38f491 17px,#1ce6b4 19px,#1ad4d0 21px,#2eb4f2 24px,#3e9bfe 27px,#4685fa 30px,#4771e9 35px,#4661d6 48px,#4143a7 61px,#3b2f80 68px,#3b2f80 69px,#36215f 74px,#33184a 83px,#321543 88px,#321543 97px,#30123b 98px,#30123b 156.5px)"></div><div style="background:linear-gradient(90deg,#fcb336 0,#f5c53a 4px,#e5d938 7px,#c1f334 10px,#a4fc3c 12px,#96fe44 13px,#59fb73 16px,#32f298 18px,#1ce6b4 20px,#19d5cd 22px,#2ab9ee 26px,#38a5fb 29px,#458cfd 35px,#476ee6 45px,#434eba 57px,#3e3891 66px,#372466 73px,#341b51 80px,#33184a 83px,#321543 88px,#321543 97px,#30123b 98px,#30123b 156.5px)"></div><div style="background:linear-gradient(90deg,#fcb336 0,#f5c53a 4px,#e5d938 7px,#d2e935 9px,#b7f735 11px,#8bff4b 14px,#3ff68a 18px,#25eca7 20px,#18e0bd 22px,#1fc9dd 26px,#2fb2f4 30px,#3d9efe 35px,#4685fa 41px,#455ed3 52px,#3f3e9c 64px,#392a73 71px,#392a73 72px,#36215f 75px,#341b51 80px,#33184a 83px,#321543 88px,#321543 97px,#30123b 98px,#30123b 156.5px)"></div><div style="background:linear-gradient(90deg,#fcb336 0,#f1cb3a 5px,#dde037 8px,#b9f635 11px,#92ff47 14px,#61fc6c 17px,#3ff68a 19px,#1fe9af 22px,#18dec0 24px,#23c3e4 29px,#37a8fa 35px,#4294ff 40px,#477bf2 45px,#4664da 52px,#3e3891 67px,#372466 74px,#341b51 81px,#33184a 82px,#33184a 85px,#321543 86px,#321543 97px,#30123b 98px,#30123b 156.5px)"></div><div style="background:linear-gradient(90deg,#fbb637 0,#f1cb3a 5px,#d4e735 9px,#b1f936 12px,#8bff4b 15px,#3ff68a 20px,#20eaac 23px,#18ddc2 26px,#23c3e4 31px,#37a8fa 37px,#448ffe 42px,#4771e9 49px,#455ccf 56px,#4146ac 63px,#3f3e9c 65px,#392a73 72px,#392a73 73px,#36215f 76px,#341b51 81px,#321543 87px,#321543 96px,#30123b 97px,#30123b 156.5px)"></div><div style="background:linear-gradient(90deg,#fbb637 0,#efcd3a 5px,#d7e535 9px,#b4f836 12px,#96fe44 15px,#5dfc6f 19px,#35f394 22px,#1de7b2 25px,#18d9c8 28px,#25c0e7 33px,#38a5fb 39px,#458cfd 44px,#4778f0 48px,#455ed3 56px,#3e3891 68px,#372466 75px,#36215f 78px,#341b51 80px,#33184a 85px,#321543 86px,#321543 96px,#30123b 97px,#30123b 156.5px)"></div><div style="background:linear-gradient(90deg,#fbb838 0,#efcd3a 5px,#d7e535 9px,#affa37 13px,#8fff49 16px,#79fe59 18px,#35f394 23px,#1fe9af 26px,#18dbc5 29px,#20c7df 33px,#2fb2f4 37px,#4196ff 43px,#4778f0 49px,#4456c7 59px,#3b2f80 71px,#36215f 77px,#341b51 82px,#33184a 83px,#321543 88px,#321543 96px,#30123b 97px,#30123b 156.5px)"></div><div style="background:linear-gradient(90deg,#faba39 0,#ebd339 6px,#d7e535 9px,#b1f936 13px,#8bff4b 17px,#3ff68a 23px,#22ebaa 26px,#18dec0 29px,#20c7df 34px,#38a5fb 41px,#458afc 46px,#4669e0 54px,#4451bf 61px,#392a73 73px,#392a73 74px,#36215f 77px,#341b51 82px,#33184a 83px,#33184a 86px,#321543 87px,#321543 97px,#30123b 98px,#30123b 156.5px)"></div><div style="background:linear-gradient(90deg,#faba39 0,#ebd339 6px,#c3f134 11px,#a4fc3c 15px,#7dff56 19px,#4af880 23px,#22ebaa 27px,#18dbc5 31px,#27bee9 37px,#3d9efe 43px,#4687fb 47px,#4661d6 57px,#4040a2 66px,#3a2d79 72px,#3a2d79 73px,#351e58 79px,#33184a 84px,#321543 89px,#321543 97px,#30123b 98px,#30123b 156.5px)"></div><div style="background:linear-gradient(90deg,#f9bc39 0,#e9d539 6px,#bef434 12px,#99fe42 17px,#61fc6c 22px,#2cf09e 27px,#1ae4b6 30px,#1ad4d0 34px,#2eb4f2 40px,#4099ff 45px,#4680f6 49px,#4666dd 56px,#3f3e9c 67px,#38276d 75px,#38276d 76px,#36215f 78px,#341b51 83px,#33184a 84px,#33184a 87px,#321543 88px,#321543 98px,#30123b 99px,#30123b 156.5px)"></div><div style="background:linear-gradient(90deg,#f8be39 0,#e7d739 6px,#c1f334 12px,#9ffd3f 17px,#69fd66 22px,#2cf09e 28px,#19e3b9 32px,#1bd0d5 36px,#33adf7 42px,#4196ff 46px,#477bf2 51px,#455ccf 59px,#3f3b97 68px,#392a73 74px,#392a73 75px,#351e58 80px,#33184a 86px,#321543 91px,#321543 99px,#30123b 100px,#30123b 156.5px)"></div><div style="background:linear-gradient(90deg,#f7c13a 0,#e7d739 6px,#c3f134 12px,#a1fd3d 17px,#88ff4e 20px,#5dfc6f 24px,#35f394 28px,#1ce6b4 32px,#19d5cd 36px,#2ab9ee 41px,#3d9efe 45px,#4682f8 50px,#4666dd 57px,#3f3e9c 67px,#3a2d79 73px,#3a2d79 74px,#372466 77px,#341b51 84px,#33184a 87px,#321543 92px,#321543 100px,#30123b 101px,#30123b 156.5px)"></div><div style="background:linear-gradient(90deg,#f6c33a 0,#e5d938 6px,#bef434 13px,#9ffd3f 18px,#71fe5f 23px,#3cf58e 28px,#20eaac 32px,#18dec0 35px,#23c3e4 40px,#37a8fa 44px,#448ffe 48px,#466be3 56px,#4143a7 66px,#3c3286 71px,#3c3286 72px,#372466 78px,#341b51 85px,#33184a 88px,#321543 93px,#321543 101px,#30123b 102px,#30123b 156.5px)"></div><div style="background:linear-gradient(90deg,#f4c73a 0,#dfdf37 7px,#b4f836 15px,#92ff47 20px,#55fa76 26px,#38f491 29px,#1de7b2 33px,#18d7ca 37px,#2ab9ee 42px,#3d9efe 46px,#4682f8 51px,#4669e0 57px,#4040a2 67px,#3a2d79 74px,#3a2d79 75px,#38276d 77px,#351e58 84px,#341b51 85px,#33184a 90px,#321543 93px,#321543 102px,#30123b 103px,#30123b 156.5px)"></div><div style="background:linear-gradient(90deg,#f2c93a 0,#d4e735 9px,#affa37 16px,#92ff47 20px,#55fa76 26px,#2ff19b 30px,#1ae4b6 34px,#1ad4d0 38px,#2eb4f2 43px,#3e9bfe 47px,#467df4 53px,#455ed3 60px,#3f3e9c 68px,#3b2f80 74px,#392a73 76px,#351e58 85px,#341b51 86px,#321543 96px,#321543 103px,#30123b 104px,#30123b 156.5px)"></div><div style="background:linear-gradient(90deg,#efcd3a 0,#d2e935 9px,#acfb38 16px,#88ff4e 21px,#4af880 27px,#2aefa1 31px,#19e2bb 35px,#1ecbda 40px,#31aff5 44px,#4099ff 48px,#4680f6 53px,#4664da 59px,#4143a7 67px,#3a2d79 76px,#372466 81px,#341b51 88px,#33184a 91px,#33184a 94px,#321543 95px,#321543 105px,#30123b 106px,#30123b 156.5px)"></div><div style="background:linear-gradient(90deg,#ecd13a 0,#cbed34 10px,#a4fc3c 17px,#71fe5f 23px,#35f394 29px,#1de7b2 33px,#19d5cd 38px,#2eb4f2 44px,#3e9bfe 48px,#4682f8 53px,#4666dd 59px,#4146ac 67px,#3a2d79 77px,#372466 82px,#341b51 89px,#321543 99px,#321543 106px,#30123b 107px,#30123b 156.5px)"></div><div style="background:linear-gradient(90deg,#e9d539 0,#c6f034 10px,#a4fc3c 16px,#92ff47 19px,#46f884 27px,#27eea4 31px,#19e2bb 35px,#1ccdd8 40px,#31aff5 45px,#4196ff 50px,#477bf2 55px,#4454c3 64px,#4249b1 67px,#3a2d79 78px,#3a2d79 79px,#38276d 81px,#351e58 88px,#341b51 91px,#321543 101px,#321543 109px,#30123b 110px,#30123b 156.5px)"></div><div style="background:linear-gradient(90deg,#e5d938 0,#c1f334 10px,#a1fd3d 16px,#7dff56 21px,#43f787 27px,#27eea4 31px,#19e2bb 35px,#1ecbda 41px,#2fb2f4 45px,#4294ff 51px,#4773eb 57px,#434eba 66px,#3a2d79 79px,#392a73 82px,#372466 84px,#341b51 93px,#321543 103px,#321543 111px,#30123b 112px,#30123b 156.5px)"></div><div style="background:linear-gradient(90deg,#e1dd37 0,#b7f735 11px,#96fe44 17px,#65fd69 23px,#38f491 28px,#1de7b2 33px,#19d5cd 39px,#31aff5 46px,#4196ff 51px,#477bf2 56px,#4559cb 64px,#3d358b 76px,#3b2f80 80px,#392a73 82px,#351e58 91px,#341b51 96px,#33184a 99px,#33184a 102px,#321543 103px,#321543 113px,#30123b 114px,#30123b 156.5px)"></div><div style="background:linear-gradient(90deg,#dde037 0,#b1f936 11px,#8fff49 17px,#61fc6c 23px,#35f394 28px,#1de7b2 33px,#19d5cd 39px,#2ab9ee 45px,#3d9efe 50px,#448ffe 53px,#4666dd 61px,#3f3e9c 74px,#3a2d79 82px,#3a2d79 83px,#38276d 85px,#36215f 90px,#341b51 96px,#33184a 101px,#33184a 104px,#321543 105px,#321543 114px,#30123b 115px,#30123b 156.5px)"></div><div style="background:linear-gradient(90deg,#d7e535 0,#acfb38 11px,#84ff51 18px,#5dfc6f 23px,#43f787 26px,#20eaac 32px,#18d9c8 38px,#25c0e7 44px,#38a5fb 49px,#458cfd 54px,#4669e0 61px,#4454c3 68px,#4249b1 71px,#3c3286 80px,#3c3286 81px,#392a73 85px,#36215f 92px,#341b51 98px,#321543 108px,#321543 116px,#30123b 117px,#30123b 156.5px)"></div><div style="background:linear-gradient(90deg,#d0ea34 0,#affa37 9px,#92ff47 15px,#61fc6c 22px,#38f491 27px,#20eaac 32px,#18ddc2 37px,#25c0e7 44px,#3aa3fc 50px,#458afc 55px,#4666dd 63px,#434eba 71px,#4143a7 74px,#3f3b97 78px,#38276d 88px,#36215f 93px,#341b51 99px,#33184a 104px,#33184a 107px,#321543 108px,#321543 117px,#30123b 118px,#30123b 156.5px)"></div><div style="background:linear-gradient(90deg,#c8ef34 0,#a9fb39 9px,#80ff53 17px,#46f884 25px,#22ebaa 31px,#18ddc2 37px,#23c3e4 44px,#37a8fa 50px,#448ffe 55px,#466be3 63px,#4559cb 69px,#3f3b97 79px,#3e3891 81px,#372466 91px,#341b51 100px,#33184a 105px,#33184a 108px,#321543 109px,#321543 119px,#30123b 120px,#30123b 156.5px)"></div><div style="background:linear-gradient(90deg,#c1f334 0,#a1fd3d 9px,#88ff4e 15px,#52fa7a 23px,#2ff19b 28px,#1ae4b6 34px,#1ad4d0 40px,#2cb7f0 47px,#3d9efe 53px,#4687fb 58px,#4666dd 66px,#3b2f80 86px,#38276d 91px,#36215f 94px,#351e58 99px,#341b51 100px,#341b51 103px,#33184a 104px,#33184a 110px,#321543 111px,#321543 121px,#30123b 122px,#30123b 156.5px)"></div><div style="background:linear-gradient(90deg,#b9f635 0,#99fe42 10px,#69fd66 19px,#38f491 26px,#1fe9af 32px,#18d9c8 38px,#2ab9ee 47px,#3ba0fd 53px,#4391fe 57px,#4773eb 64px,#434eba 75px,#3c3286 86px,#38276d 91px,#36215f 96px,#341b51 102px,#33184a 107px,#33184a 111px,#321543 112px,#321543 123px,#30123b 124px,#30123b 156.5px)"></div><div style="background:linear-gradient(90deg,#b1f936 0,#92ff47 10px,#5dfc6f 20px,#3cf58e 25px,#1fe9af 32px,#18ddc2 37px,#22c5e2 44px,#37a8fa 52px,#458cfd 59px,#466be3 67px,#4143a7 80px,#3b2f80 88px,#36215f 96px,#351e58 101px,#341b51 102px,#341b51 106px,#33184a 107px,#33184a 112px,#321543 113px,#321543 125px,#30123b 126px,#30123b 156.5px)"></div><div style="background:linear-gradient(90deg,#a9fb39 0,#8fff49 9px,#52fa7a 21px,#2ff19b 27px,#1ce6b4 33px,#1ad4d0 40px,#2ab9ee 47px,#3d9efe 55px,#4685fa 61px,#455ccf 72px,#3e3891 85px,#392a73 91px,#36215f 98px,#341b51 104px,#33184a 109px,#33184a 113px,#321543 114px,#321543 127px,#30123b 128px,#30123b 156.5px)"></div><div style="background:linear-gradient(90deg,#a1fd3d 0,#8bff4b 8px,#61fc6c 17px,#2cf09e 27px,#19e3b9 34px,#1bd0d5 41px,#2fb2f4 49px,#4196ff 57px,#4680f6 62px,#4559cb 73px,#3d358b 86px,#38276d 93px,#36215f 98px,#351e58 101px,#341b51 106px,#33184a 109px,#33184a 114px,#321543 115px,#321543 129px,#30123b 130px,#30123b 156.5px)"></div></div>
<div class="hm" style="left:293.4px;top:27px;width:139.4px;height:110.7px"><div style="background:linear-gradient(90deg,#220000 0,#440000 26px,#4c0000 59px,#4a0000 106px,#3a0000 122px,#1a0000 139.4px)"></div><div style="background:linear-gradient(90deg,#220000 0,#440000 27px,#4f0000 65px,#4a0000 107px,#370000 125px,#1d0000 139.4px)"></div><div style="background:linear-gradient(90deg,#220000 0,#440000 28px,#4f0000 60px,#4c0000 101px,#3f0000 120px,#200000 139.4px)"></div><div style="background:linear-gradient(90deg,#220000 0,#440000 29px,#4f0000 56px,#4c0000 103px,#3c0000 123px,#220000 139.4px)"></div><div style="background:linear-gradient(90deg,#220000 0,#4a0000 36px,#4f0000 68px,#4c0000 104px,#3f0000 122px,#250000 139.4px)"></div><div style="background:linear-gradient(90deg,#220000 0,#4c0000 40px,#510000 79px,#470000 115px,#270000 139.4px)"></div><div style="background:linear-gradient(90deg,#220000 0,#320000 17px,#4c0000 40px,#510000 85px,#470000 116px,#2a0000 139.4px)"></div><div style="background:linear-gradient(90deg,#200000 0,#320000 20px,#4c0000 40px,#510000 77px,#4a0000 113px,#2d0000 138px,#2a0000 139.4px)"></div><div style="background:linear-gradient(90deg,#1d0000 0,#2a0000 17px,#4a0000 37px,#510000 61px,#4f0000 103px,#3f0000 125px,#2d0000 139.4px)"></div><div style="background:linear-gradient(90deg,#1a0000 0,#220000 17px,#440000 34px,#4f0000 46px,#4f0000 104px,#3f0000 127px,#2f0000 139.4px)"></div><div style="background:linear-gradient(90deg,#150000 0,#1a0000 17px,#420000 33px,#4f0000 45px,#540000 81px,#4a0000 116px,#320000 139.4px)"></div><div style="background:linear-gradient(90deg,#100000 0,#120000 17px,#2d0000 27px,#3c0000 31px,#4f0000 43px,#540000 80px,#4a0000 117px,#350000 139.4px)"></div><div style="background:linear-gradient(90deg,#0d0000 0,#100000 20px,#220000 26px,#420000 34px,#510000 47px,#510000 101px,#3f0000 131px,#370000 139.4px)"></div><div style="background:linear-gradient(90deg,#0b0000 0,#0d0000 20px,#150000 25px,#3c0000 33px,#4f0000 43px,#540000 66px,#510000 102px,#3a0000 139.4px)"></div><div style="background:linear-gradient(90deg,#0b0000 0,#120000 25px,#220000 29px,#3c0000 34px,#4f0000 43px,#570000 70px,#4c0000 116px,#3a0000 139.4px)"></div><div style="background:linear-gradient(90deg,#0d0000 0,#1a0000 20px,#180000 28px,#420000 36px,#510000 46px,#570000 83px,#470000 126px,#3c0000 139.4px)"></div><div style="background:linear-gradient(90deg,#120000 0,#1a0000 11px,#2a0000 21px,#250000 25px,#180000 28px,#1d0000 30px,#3c0000 35px,#4f0000 43px,#570000 63px,#510000 107px,#3f0000 139.4px)"></div><div style="background:linear-gradient(90deg,#180000 0,#220000 10px,#3f0000 23px,#3c0000 25px,#200000 28px,#180000 30px,#3f0000 36px,#510000 45px,#570000 70px,#510000 108px,#3f0000 139.4px)"></div><div style="background:linear-gradient(90deg,#200000 0,#270000 9px,#470000 20px,#610000 24px,#5c0000 25px,#200000 29px,#1a0000 31px,#420000 37px,#510000 46px,#570000 64px,#540000 102px,#420000 139.4px)"></div><div style="background:linear-gradient(90deg,#250000 0,#350000 12px,#4a0000 18px,#5f0000 21px,#7b0000 23px,#930000 24px,#930000 25px,#570000 27px,#2a0000 29px,#1a0000 31px,#1a0000 32px,#3a0000 36px,#470000 39px,#540000 49px,#590000 78px,#4a0000 127px,#420000 139.4px)"></div><div style="background:linear-gradient(90deg,#2a0000 0,#370000 10px,#4c0000 17px,#640000 20px,#860000 22px,#ab0000 23px,#e20000 24px,#ec0000 25px,#790000 27px,#540000 28px,#250000 30px,#1a0000 31px,#200000 33px,#3f0000 37px,#510000 45px,#590000 65px,#540000 104px,#420000 139.4px)"></div><div style="background:linear-gradient(90deg,#2f0000 0,#3a0000 10px,#4c0000 16px,#610000 19px,#830000 21px,#a00000 22px,#e40000 23px,#ff5900 24px,#ff7600 25px,#ff0500 26px,#9e0000 27px,#6c0000 28px,#4a0000 29px,#2f0000 30px,#200000 31px,#180000 32px,#3c0000 37px,#510000 45px,#590000 62px,#540000 106px,#440000 139.4px)"></div><div style="background:linear-gradient(90deg,#320000 0,#420000 12px,#570000 17px,#690000 19px,#930000 21px,#ba0000 22px,#ff2700 23px,#ffe900 24px,#ffff32 25px,#ff6600 26px,#c20000 27px,#7e0000 28px,#570000 29px,#370000 30px,#220000 31px,#1a0000 32px,#1a0000 33px,#420000 38px,#540000 47px,#590000 67px,#540000 107px,#440000 139.4px)"></div><div style="background:linear-gradient(90deg,#350000 0,#420000 10px,#540000 16px,#640000 18px,#830000 20px,#9e0000 21px,#cf0000 22px,#ff5e00 23px,#ffffa4 24px,#ffffff 25px,#ffba00 26px,#e20000 27px,#8e0000 28px,#610000 29px,#3f0000 30px,#270000 31px,#1a0000 32px,#180000 33px,#3f0000 38px,#540000 46px,#590000 66px,#570000 100px,#440000 139.4px)"></div><div style="background:linear-gradient(90deg,#370000 0,#420000 10px,#570000 16px,#660000 18px,#740000 19px,#890000 20px,#a50000 21px,#d70000 22px,#ff7600 23px,#fffff3 24px,#ffffff 25px,#ffdc00 26px,#ef0000 27px,#960000 28px,#660000 29px,#440000 30px,#2a0000 31px,#1a0000 32px,#180000 33px,#3f0000 38px,#540000 46px,#5c0000 70px,#510000 115px,#440000 139.4px)"></div><div style="background:linear-gradient(90deg,#3a0000 0,#440000 10px,#590000 16px,#660000 18px,#740000 19px,#a30000 21px,#d20000 22px,#ff6100 23px,#ffffa8 24px,#ffffff 25px,#ffbd00 26px,#e70000 27px,#930000 28px,#440000 30px,#2a0000 31px,#1a0000 32px,#150000 33px,#250000 35px,#3a0000 37px,#4a0000 41px,#570000 49px,#5c0000 81px,#470000 139.4px)"></div><div style="background:linear-gradient(90deg,#3c0000 0,#440000 9px,#590000 16px,#660000 18px,#860000 20px,#9b0000 21px,#c20000 22px,#ff2f00 23px,#fff100 24px,#ffff3e 25px,#ff6e00 26px,#cd0000 27px,#8b0000 28px,#420000 30px,#2a0000 31px,#1a0000 32px,#150000 33px,#440000 39px,#570000 48px,#5c0000 75px,#510000 117px,#470000 139.4px)"></div><div style="background:linear-gradient(90deg,#3c0000 0,#470000 10px,#590000 16px,#710000 19px,#900000 21px,#ad0000 22px,#ef0000 23px,#ff6400 24px,#ff8300 25px,#ff1200 26px,#ad0000 27px,#7e0000 28px,#3f0000 30px,#270000 31px,#180000 32px,#150000 33px,#440000 39px,#570000 47px,#5c0000 72px,#540000 112px,#470000 139.4px)"></div><div style="background:linear-gradient(90deg,#3f0000 0,#470000 9px,#590000 16px,#6c0000 19px,#830000 21px,#960000 22px,#ba0000 23px,#f20000 24px,#ff0000 25px,#900000 27px,#510000 29px,#250000 31px,#180000 32px,#120000 33px,#220000 35px,#370000 37px,#470000 40px,#570000 47px,#5c0000 67px,#570000 106px,#470000 139.4px)"></div><div style="background:linear-gradient(90deg,#3f0000 0,#4c0000 12px,#640000 19px,#830000 22px,#930000 23px,#ab0000 24px,#ad0000 25px,#5f0000 28px,#200000 31px,#150000 32px,#120000 33px,#220000 35px,#370000 37px,#470000 40px,#590000 49px,#590000 100px,#470000 139.4px)"></div><div style="background:linear-gradient(90deg,#420000 0,#4c0000 12px,#640000 20px,#810000 24px,#810000 25px,#510000 28px,#1d0000 31px,#120000 32px,#180000 34px,#3a0000 37px,#4f0000 42px,#5c0000 54px,#5c0000 92px,#470000 139.4px)"></div><div style="background:linear-gradient(90deg,#420000 0,#4f0000 13px,#5c0000 20px,#690000 24px,#5f0000 26px,#370000 29px,#180000 31px,#100000 32px,#1a0000 34px,#3a0000 37px,#4c0000 41px,#590000 49px,#5f0000 82px,#470000 139.4px)"></div><div style="background:linear-gradient(90deg,#420000 0,#540000 18px,#5c0000 24px,#510000 26px,#3c0000 28px,#150000 31px,#100000 32px,#1a0000 34px,#3a0000 37px,#4a0000 40px,#590000 48px,#5f0000 78px,#4f0000 127px,#470000 139.4px)"></div><div style="background:linear-gradient(90deg,#440000 0,#540000 23px,#4a0000 26px,#2a0000 29px,#120000 31px,#0d0000 32px,#1a0000 34px,#3c0000 37px,#4c0000 41px,#590000 49px,#5f0000 72px,#570000 110px,#4a0000 139.4px)"></div><div style="background:linear-gradient(90deg,#440000 0,#4f0000 20px,#4c0000 24px,#3c0000 27px,#180000 30px,#0d0000 32px,#1d0000 34px,#3c0000 37px,#4c0000 41px,#590000 47px,#5f0000 72px,#590000 104px,#4a0000 139.4px)"></div><div style="background:linear-gradient(90deg,#440000 0,#4f0000 20px,#3f0000 26px,#0d0000 31px,#120000 33px,#3c0000 37px,#470000 39px,#590000 47px,#5f0000 67px,#5c0000 98px,#4a0000 139.4px)"></div><div style="background:linear-gradient(90deg,#440000 0,#4c0000 17px,#4a0000 22px,#3c0000 26px,#120000 30px,#0d0000 32px,#3f0000 37px,#510000 42px,#5f0000 55px,#5c0000 98px,#4a0000 139.4px)"></div><div style="background:linear-gradient(90deg,#470000 0,#4c0000 19px,#440000 24px,#2a0000 28px,#120000 30px,#0d0000 32px,#3f0000 37px,#540000 43px,#5f0000 55px,#5f0000 91px,#4a0000 139.4px)"></div><div style="background:linear-gradient(90deg,#470000 0,#4c0000 18px,#420000 24px,#320000 27px,#100000 30px,#0b0000 31px,#150000 33px,#3f0000 37px,#4f0000 41px,#5c0000 49px,#610000 79px,#4a0000 139.4px)"></div><div style="background:linear-gradient(90deg,#470000 0,#4c0000 17px,#3f0000 25px,#270000 28px,#100000 30px,#0b0000 31px,#150000 33px,#3f0000 37px,#4f0000 41px,#5c0000 49px,#610000 81px,#4a0000 139.4px)"></div><div style="background:linear-gradient(90deg,#470000 0,#4c0000 17px,#3f0000 25px,#270000 28px,#100000 30px,#0b0000 31px,#150000 33px,#3f0000 37px,#4f0000 41px,#5c0000 49px,#610000 79px,#4f0000 130px,#4a0000 139.4px)"></div><div style="background:linear-gradient(90deg,#470000 0,#4c0000 17px,#3f0000 25px,#270000 28px,#120000 30px,#0d0000 32px,#120000 33px,#3f0000 37px,#540000 43px,#5f0000 55px,#5f0000 94px,#4a0000 139.4px)"></div><div style="background:linear-gradient(90deg,#470000 0,#4c0000 18px,#3f0000 25px,#2a0000 28px,#120000 30px,#0d0000 32px,#1d0000 34px,#3c0000 37px,#4f0000 41px,#5f0000 53px,#5f0000 95px,#4a0000 139.4px)"></div><div style="background:linear-gradient(90deg,#470000 0,#4c0000 18px,#440000 24px,#350000 27px,#0d0000 31px,#100000 33px,#3a0000 37px,#4a0000 40px,#5c0000 49px,#610000 72px,#5c0000 102px,#4a0000 139.4px)"></div><div style="background:linear-gradient(90deg,#470000 0,#4c0000 16px,#440000 24px,#350000 27px,#100000 31px,#100000 33px,#370000 37px,#4c0000 41px,#5c0000 50px,#610000 70px,#5c0000 103px,#4a0000 139.4px)"></div><div style="background:linear-gradient(90deg,#470000 0,#4f0000 15px,#470000 23px,#370000 27px,#120000 31px,#0d0000 32px,#150000 34px,#3c0000 38px,#4c0000 41px,#5f0000 53px,#5f0000 96px,#4a0000 139.4px)"></div><div style="background:linear-gradient(90deg,#470000 0,#4f0000 18px,#440000 25px,#320000 28px,#150000 31px,#0d0000 33px,#1d0000 35px,#420000 39px,#590000 48px,#610000 64px,#5f0000 96px,#4a0000 139.4px)"></div><div style="background:linear-gradient(90deg,#4a0000 0,#4f0000 19px,#440000 25px,#350000 28px,#100000 32px,#180000 35px,#370000 38px,#4c0000 42px,#5c0000 51px,#610000 67px,#5f0000 96px,#4a0000 139.4px)"></div><div style="background:linear-gradient(90deg,#4a0000 0,#510000 16px,#4a0000 24px,#3a0000 28px,#150000 32px,#100000 34px,#470000 41px,#590000 49px,#610000 63px,#5f0000 97px,#4a0000 139.4px)"></div><div style="background:linear-gradient(90deg,#4a0000 0,#510000 19px,#470000 26px,#2d0000 30px,#120000 33px,#120000 35px,#440000 41px,#590000 49px,#610000 65px,#5f0000 97px,#4a0000 139.4px)"></div><div style="background:linear-gradient(90deg,#4a0000 0,#540000 18px,#4a0000 26px,#3a0000 29px,#120000 34px,#180000 36px,#470000 42px,#590000 50px,#610000 64px,#5f0000 97px,#4a0000 139.4px)"></div><div style="background:linear-gradient(90deg,#4a0000 0,#540000 16px,#510000 24px,#440000 28px,#180000 34px,#150000 36px,#420000 42px,#510000 46px,#5f0000 57px,#5f0000 99px,#590000 105px,#4a0000 139.4px)"></div><div style="background:linear-gradient(90deg,#4a0000 0,#570000 17px,#540000 24px,#440000 29px,#1d0000 34px,#150000 36px,#200000 38px,#440000 43px,#590000 51px,#610000 67px,#610000 95px,#660000 98px,#570000 104px,#570000 115px,#4a0000 139.4px)"></div><div style="background:linear-gradient(90deg,#4c0000 0,#590000 19px,#540000 26px,#440000 30px,#1d0000 35px,#180000 37px,#2a0000 40px,#420000 43px,#510000 47px,#610000 61px,#610000 94px,#810000 98px,#7b0000 99px,#5f0000 101px,#540000 103px,#590000 109px,#4a0000 139.4px)"></div><div style="background:linear-gradient(90deg,#4c0000 0,#5c0000 18px,#570000 27px,#3c0000 32px,#1d0000 36px,#1d0000 38px,#270000 40px,#440000 44px,#570000 51px,#610000 66px,#610000 93px,#740000 95px,#890000 96px,#ab0000 97px,#e40000 98px,#cf0000 99px,#890000 100px,#660000 101px,#4c0000 103px,#590000 108px,#4a0000 139.4px)"></div><div style="background:linear-gradient(90deg,#4c0000 0,#610000 19px,#590000 28px,#440000 32px,#220000 36px,#1d0000 38px,#320000 42px,#470000 45px,#540000 50px,#610000 65px,#610000 92px,#640000 93px,#6e0000 94px,#830000 95px,#a80000 96px,#ff0000 97px,#ffd700 98px,#ff9d00 99px,#ba0000 100px,#710000 101px,#510000 102px,#440000 103px,#440000 104px,#590000 108px,#4a0000 139.4px)"></div><div style="background:linear-gradient(90deg,#4f0000 0,#640000 19px,#610000 27px,#510000 31px,#250000 37px,#200000 39px,#4f0000 48px,#5f0000 60px,#610000 92px,#640000 93px,#710000 94px,#8b0000 95px,#b50000 96px,#ff3400 97px,#ffffc0 98px,#ffff42 99px,#da0000 100px,#710000 101px,#4c0000 102px,#3a0000 103px,#3a0000 104px,#570000 107px,#570000 114px,#4a0000 139.4px)"></div><div style="background:linear-gradient(90deg,#4f0000 0,#690000 20px,#660000 28px,#570000 32px,#270000 38px,#270000 41px,#4f0000 49px,#5c0000 59px,#610000 75px,#5f0000 92px,#6e0000 94px,#830000 95px,#a50000 96px,#fc0000 97px,#ffd400 98px,#ff9b00 99px,#b50000 100px,#660000 101px,#440000 102px,#320000 103px,#350000 104px,#4f0000 106px,#570000 109px,#4a0000 139.4px)"></div><div style="background:linear-gradient(90deg,#4f0000 0,#710000 22px,#6e0000 28px,#610000 32px,#2a0000 39px,#2a0000 42px,#4c0000 49px,#590000 57px,#610000 74px,#5f0000 93px,#640000 94px,#830000 96px,#a50000 97px,#df0000 98px,#ca0000 99px,#7e0000 100px,#570000 101px,#3c0000 102px,#2f0000 103px,#350000 104px,#4f0000 106px,#570000 109px,#4a0000 139.4px)"></div><div style="background:linear-gradient(90deg,#510000 0,#7b0000 25px,#760000 30px,#660000 33px,#320000 39px,#2a0000 42px,#4f0000 51px,#5c0000 61px,#610000 81px,#590000 94px,#740000 98px,#6c0000 99px,#3c0000 102px,#350000 103px,#370000 104px,#4f0000 106px,#570000 109px,#4a0000 139.4px)"></div><div style="background:linear-gradient(90deg,#510000 0,#890000 27px,#7b0000 32px,#5c0000 36px,#3c0000 39px,#2d0000 42px,#3a0000 47px,#4c0000 51px,#590000 59px,#610000 79px,#5c0000 90px,#4c0000 97px,#4a0000 100px,#3a0000 103px,#570000 107px,#4a0000 139.4px)"></div><div style="background:linear-gradient(90deg,#510000 0,#710000 14px,#980000 27px,#960000 31px,#830000 34px,#3a0000 41px,#2f0000 43px,#320000 46px,#4c0000 52px,#5c0000 64px,#610000 82px,#590000 91px,#420000 96px,#420000 103px,#570000 107px,#4a0000 139.4px)"></div><div style="background:linear-gradient(90deg,#540000 0,#810000 17px,#ad0000 27px,#ad0000 31px,#9b0000 34px,#3c0000 42px,#2f0000 45px,#510000 55px,#5f0000 72px,#5c0000 90px,#3c0000 97px,#570000 108px,#4a0000 139.4px)"></div><div style="background:linear-gradient(90deg,#540000 0,#740000 12px,#8e0000 18px,#c50000 27px,#ca0000 29px,#ca0000 31px,#c00000 33px,#900000 37px,#4a0000 42px,#370000 44px,#320000 47px,#510000 56px,#5f0000 73px,#5c0000 90px,#440000 97px,#570000 107px,#4a0000 139.4px)"></div><div style="background:linear-gradient(90deg,#570000 0,#740000 11px,#9e0000 19px,#e40000 27px,#ef0000 29px,#ef0000 31px,#d70000 34px,#ad0000 37px,#660000 41px,#3f0000 44px,#350000 46px,#350000 49px,#510000 57px,#5f0000 75px,#5c0000 91px,#4f0000 98px,#570000 107px,#4a0000 139.4px)"></div><div style="background:linear-gradient(90deg,#570000 0,#760000 11px,#900000 16px,#b30000 20px,#ff0000 26px,#ff1f00 29px,#ff2500 31px,#ff1500 33px,#ff0800 34px,#f40000 35px,#7b0000 41px,#4a0000 44px,#320000 47px,#370000 51px,#4f0000 57px,#5f0000 75px,#5c0000 92px,#570000 101px,#4f0000 129px,#4a0000 139.4px)"></div><div style="background:linear-gradient(90deg,#570000 0,#710000 9px,#960000 16px,#c00000 20px,#ff0200 24px,#ff6900 29px,#ff7900 31px,#ff6400 33px,#ff1500 36px,#f70000 37px,#bd0000 39px,#790000 42px,#470000 45px,#350000 47px,#2f0000 50px,#4c0000 57px,#5c0000 71px,#5c0000 95px,#4a0000 139.4px)"></div><div style="background:linear-gradient(90deg,#570000 0,#760000 10px,#9b0000 16px,#bd0000 19px,#ef0000 22px,#ff0800 23px,#ff4100 25px,#ffda00 29px,#fff100 30px,#fffc00 31px,#fff400 32px,#ffdc00 33px,#ff8800 35px,#ff2a00 37px,#ff0200 38px,#bd0000 40px,#890000 42px,#4f0000 45px,#3a0000 47px,#2f0000 49px,#2f0000 51px,#4c0000 59px,#590000 69px,#5f0000 86px,#4a0000 139.4px)"></div><div style="background:linear-gradient(90deg,#570000 0,#740000 9px,#900000 14px,#ab0000 17px,#c50000 19px,#ff0200 22px,#ff1f00 23px,#ff4400 24px,#ff7300 25px,#ffaa00 26px,#ffe900 27px,#ffff42 28px,#ffff9d 29px,#ffffdf 30px,#fffffb 31px,#ffffeb 32px,#ffffb4 33px,#ffff5a 34px,#fff400 35px,#ff6600 37px,#ff2c00 38px,#fc0000 39px,#b30000 41px,#6c0000 44px,#3c0000 47px,#2d0000 50px,#3a0000 55px,#4a0000 59px,#5c0000 73px,#590000 103px,#4a0000 139.4px)"></div><div style="background:linear-gradient(90deg,#570000 0,#740000 9px,#900000 14px,#b00000 17px,#ca0000 19px,#f40000 21px,#ff1000 22px,#ff3200 23px,#ff5e00 24px,#ff9b00 25px,#ffe400 26px,#ffff56 27px,#ffffdf 28px,#ffffff 29px,#ffffff 34px,#ffff7d 35px,#fff100 36px,#ff9b00 37px,#ff5100 38px,#ff1500 39px,#e70000 40px,#a30000 42px,#740000 44px,#4f0000 46px,#2f0000 49px,#2a0000 51px,#320000 54px,#4a0000 60px,#590000 72px,#590000 102px,#4a0000 139.4px)"></div><div style="background:linear-gradient(90deg,#570000 0,#740000 9px,#8b0000 13px,#b00000 17px,#df0000 20px,#f70000 21px,#ff1500 22px,#ff3a00 23px,#ff6900 24px,#ffa800 25px,#fff900 26px,#ffffff 28px,#ffffff 34px,#ffffb0 35px,#ffff13 36px,#ffad00 37px,#ff5e00 38px,#ff1f00 39px,#ef0000 40px,#c80000 41px,#a80000 42px,#640000 45px,#440000 47px,#2f0000 49px,#270000 52px,#4a0000 61px,#590000 73px,#590000 101px,#470000 139.4px)"></div><div style="background:linear-gradient(90deg,#570000 0,#740000 9px,#900000 14px,#b00000 17px,#ca0000 19px,#f20000 21px,#ff1000 22px,#ff3200 23px,#ff5c00 24px,#ff9500 25px,#ffdc00 26px,#ffff46 27px,#ffffc8 28px,#ffffff 29px,#ffffff 33px,#fffff3 34px,#ffff69 35px,#ffe900 36px,#ff9500 37px,#ff4f00 38px,#ff1700 39px,#ea0000 40px,#ab0000 42px,#7b0000 44px,#470000 47px,#2a0000 50px,#250000 52px,#2f0000 56px,#470000 61px,#570000 70px,#5c0000 88px,#470000 139.4px)"></div><div style="background:linear-gradient(90deg,#570000 0,#6e0000 8px,#8e0000 14px,#b80000 18px,#d70000 20px,#ff0200 22px,#ff1d00 23px,#ff6b00 25px,#ffda00 27px,#ffff22 28px,#ffff75 29px,#ffffb4 30px,#ffffcc 31px,#ffffc0 32px,#ffff8d 33px,#ffff3a 34px,#ffe400 35px,#ff6400 37px,#ff2f00 38px,#ff0200 39px,#c00000 41px,#900000 43px,#590000 46px,#320000 49px,#220000 52px,#220000 54px,#440000 61px,#540000 69px,#5c0000 86px,#4a0000 138px,#470000 139.4px)"></div><div style="background:linear-gradient(90deg,#540000 0,#710000 9px,#8b0000 14px,#b00000 18px,#ef0000 22px,#ff0500 23px,#ff3c00 25px,#ffc500 29px,#ffda00 30px,#ffe400 31px,#ffdc00 32px,#ffc700 33px,#ff7e00 35px,#ff0800 38px,#e70000 39px,#a00000 42px,#690000 45px,#350000 49px,#250000 51px,#200000 53px,#270000 56px,#4a0000 63px,#590000 77px,#570000 106px,#470000 139.4px)"></div><div style="background:linear-gradient(90deg,#540000 0,#6e0000 9px,#8e0000 15px,#b30000 19px,#ec0000 23px,#ff0000 24px,#ff4f00 28px,#ff6900 30px,#ff6b00 31px,#ff5c00 33px,#ff3200 35px,#ff0000 37px,#ba0000 40px,#660000 45px,#350000 49px,#200000 52px,#200000 55px,#470000 63px,#590000 77px,#540000 112px,#470000 139.4px)"></div><div style="background:linear-gradient(90deg,#510000 0,#6e0000 10px,#960000 17px,#d50000 23px,#fc0000 26px,#ff1d00 29px,#ff2200 31px,#ff1700 33px,#fc0000 35px,#8e0000 42px,#3f0000 48px,#200000 52px,#1a0000 54px,#2a0000 58px,#440000 63px,#540000 72px,#590000 88px,#470000 139.4px)"></div><div style="background:linear-gradient(90deg,#4f0000 0,#6c0000 10px,#810000 15px,#9b0000 19px,#e40000 27px,#f20000 30px,#ea0000 33px,#b50000 38px,#3f0000 48px,#200000 52px,#1a0000 54px,#250000 58px,#3f0000 62px,#4f0000 68px,#590000 85px,#4a0000 136px,#470000 139.4px)"></div><div style="background:linear-gradient(90deg,#4f0000 0,#6e0000 12px,#9e0000 21px,#c80000 27px,#cf0000 31px,#b50000 36px,#2d0000 50px,#180000 54px,#220000 58px,#420000 63px,#510000 71px,#570000 84px,#510000 116px,#470000 139.4px)"></div><div style="background:linear-gradient(90deg,#4c0000 0,#710000 14px,#ad0000 27px,#b30000 31px,#a50000 35px,#5c0000 45px,#220000 51px,#180000 55px,#1d0000 57px,#470000 65px,#570000 79px,#510000 115px,#470000 139.4px)"></div><div style="background:linear-gradient(90deg,#4a0000 0,#790000 18px,#960000 26px,#9e0000 30px,#900000 35px,#5f0000 44px,#220000 51px,#150000 54px,#200000 58px,#440000 65px,#510000 73px,#570000 89px,#470000 139.4px)"></div><div style="background:linear-gradient(90deg,#470000 0,#6c0000 16px,#890000 27px,#890000 32px,#740000 38px,#4f0000 45px,#1a0000 52px,#150000 56px,#440000 65px,#540000 77px,#540000 104px,#470000 139.4px)"></div><div style="background:linear-gradient(90deg,#440000 0,#7b0000 27px,#790000 33px,#5c0000 41px,#3a0000 47px,#1d0000 51px,#120000 55px,#220000 59px,#420000 65px,#4f0000 73px,#540000 86px,#4f0000 119px,#470000 139.4px)"></div><div style="background:linear-gradient(90deg,#420000 0,#6e0000 25px,#6e0000 32px,#570000 40px,#120000 53px,#180000 57px,#3c0000 64px,#4a0000 69px,#540000 84px,#4f0000 118px,#470000 139.4px)"></div><div style="background:linear-gradient(90deg,#3f0000 0,#660000 25px,#610000 34px,#4f0000 40px,#180000 51px,#120000 55px,#220000 59px,#3f0000 65px,#4f0000 74px,#540000 95px,#470000 139.4px)"></div><div style="background:linear-gradient(90deg,#3c0000 0,#5c0000 23px,#5c0000 31px,#540000 36px,#320000 44px,#180000 50px,#120000 54px,#1d0000 58px,#3c0000 65px,#4c0000 73px,#510000 86px,#4c0000 123px,#440000 139.4px)"></div><div style="background:linear-gradient(90deg,#3a0000 0,#570000 24px,#510000 33px,#3c0000 40px,#120000 50px,#150000 55px,#3c0000 66px,#470000 70px,#510000 85px,#4c0000 122px,#440000 139.4px)"></div><div style="background:linear-gradient(90deg,#370000 0,#4f0000 24px,#4a0000 33px,#2d0000 42px,#150000 48px,#100000 51px,#1d0000 58px,#420000 68px,#4f0000 80px,#4f0000 112px,#440000 139.4px)"></div><div style="background:linear-gradient(90deg,#320000 0,#470000 21px,#440000 31px,#2f0000 39px,#120000 47px,#120000 52px,#470000 72px,#4f0000 88px,#4a0000 128px,#440000 139.4px)"></div><div style="background:linear-gradient(90deg,#2f0000 0,#3f0000 21px,#3c0000 30px,#120000 46px,#120000 51px,#320000 65px,#470000 73px,#4f0000 93px,#470000 136px,#440000 139.4px)"></div><div style="background:linear-gradient(90deg,#2a0000 0,#370000 20px,#350000 30px,#100000 46px,#270000 62px,#440000 73px,#4c0000 87px,#4c0000 117px,#440000 139.4px)"></div><div style="background:linear-gradient(90deg,#250000 0,#320000 22px,#270000 33px,#100000 43px,#150000 49px,#250000 58px,#2f0000 66px,#440000 75px,#4c0000 92px,#470000 134px,#440000 139.4px)"></div><div style="background:linear-gradient(90deg,#1d0000 0,#270000 18px,#250000 29px,#100000 42px,#150000 48px,#270000 56px,#2a0000 64px,#440000 77px,#4c0000 101px,#440000 139.4px)"></div><div style="background:linear-gradient(90deg,#180000 0,#220000 21px,#100000 41px,#180000 47px,#2a0000 55px,#2a0000 65px,#440000 79px,#4c0000 109px,#440000 139.4px)"></div><div style="background:linear-gradient(90deg,#120000 0,#1a0000 22px,#100000 40px,#180000 46px,#2d0000 54px,#270000 65px,#420000 79px,#4a0000 101px,#440000 139.4px)"></div><div style="background:linear-gradient(90deg,#0d0000 0,#150000 21px,#0d0000 38px,#200000 47px,#2f0000 54px,#270000 66px,#420000 82px,#4a0000 106px,#440000 139.4px)"></div><div style="background:linear-gradient(90deg,#0b0000 0,#100000 26px,#100000 38px,#2f0000 52px,#2f0000 59px,#270000 67px,#420000 85px,#4a0000 110px,#420000 139.4px)"></div><div style="background:linear-gradient(90deg,#0b0000 0,#100000 36px,#320000 52px,#2f0000 60px,#270000 68px,#420000 88px,#4a0000 113px,#420000 139.4px)"></div><div style="background:linear-gradient(90deg,#0b0000 0,#100000 33px,#350000 53px,#2f0000 61px,#270000 69px,#2f0000 77px,#420000 91px,#470000 109px,#420000 139.4px)"></div><div style="background:linear-gradient(90deg,#0d0000 0,#100000 29px,#220000 41px,#320000 50px,#320000 61px,#270000 69px,#2a0000 76px,#3f0000 90px,#470000 109px,#420000 139.4px)"></div><div style="background:linear-gradient(90deg,#100000 0,#120000 27px,#250000 41px,#350000 50px,#320000 61px,#250000 72px,#440000 99px,#440000 135px,#420000 139.4px)"></div><div style="background:linear-gradient(90deg,#150000 0,#150000 25px,#350000 51px,#320000 62px,#250000 73px,#2f0000 84px,#420000 98px,#420000 139.4px)"></div><div style="background:linear-gradient(90deg,#180000 0,#1a0000 26px,#350000 50px,#320000 63px,#250000 73px,#270000 81px,#3f0000 97px,#440000 110px,#3a0000 116px,#440000 125px,#420000 139.4px)"></div><div style="background:linear-gradient(90deg,#1d0000 0,#1d0000 24px,#350000 50px,#320000 63px,#220000 76px,#2f0000 88px,#440000 104px,#440000 110px,#2f0000 116px,#440000 125px,#420000 139.4px)"></div><div style="background:linear-gradient(90deg,#200000 0,#200000 23px,#350000 50px,#320000 64px,#220000 77px,#2d0000 89px,#4c0000 109px,#420000 112px,#2d0000 116px,#440000 125px,#420000 139.4px)"></div><div style="background:linear-gradient(90deg,#220000 0,#220000 23px,#350000 50px,#320000 64px,#220000 79px,#2d0000 91px,#420000 103px,#5c0000 109px,#540000 112px,#370000 116px,#370000 119px,#420000 124px,#420000 139.4px)"></div><div style="background:linear-gradient(90deg,#220000 0,#250000 25px,#350000 49px,#2f0000 67px,#220000 80px,#2a0000 91px,#3f0000 102px,#590000 106px,#8b0000 111px,#8b0000 112px,#830000 113px,#540000 116px,#440000 118px,#420000 139.4px)"></div><div style="background:linear-gradient(90deg,#250000 0,#250000 24px,#350000 50px,#2f0000 67px,#220000 83px,#2d0000 95px,#3f0000 102px,#570000 105px,#710000 107px,#890000 108px,#b00000 109px,#ea0000 110px,#ff2f00 111px,#ff5900 112px,#ff4700 113px,#ff0500 114px,#ba0000 115px,#860000 116px,#660000 117px,#570000 118px,#470000 121px,#420000 132px,#420000 139.4px)"></div><div style="background:linear-gradient(90deg,#250000 0,#250000 23px,#350000 50px,#2d0000 71px,#220000 86px,#2f0000 98px,#3c0000 102px,#4c0000 104px,#640000 106px,#790000 107px,#a30000 108px,#f40000 109px,#ff8300 110px,#ffff46 111px,#ffffe7 112px,#ffffb4 113px,#ffe100 114px,#ff3400 115px,#bd0000 116px,#7e0000 117px,#640000 118px,#4f0000 120px,#440000 124px,#3f0000 139.4px)"></div><div style="background:linear-gradient(90deg,#250000 0,#250000 24px,#350000 51px,#250000 86px,#2a0000 97px,#370000 102px,#4f0000 105px,#6e0000 107px,#900000 108px,#d50000 109px,#ff4700 110px,#ffcf00 111px,#ffff3a 112px,#ffff13 113px,#ff9300 114px,#ff0a00 115px,#ab0000 116px,#790000 117px,#610000 118px,#4a0000 121px,#420000 127px,#3f0000 139.4px)"></div><div style="background:linear-gradient(90deg,#250000 0,#250000 24px,#350000 51px,#250000 90px,#2a0000 99px,#370000 103px,#4f0000 106px,#690000 108px,#810000 109px,#c50000 111px,#dd0000 112px,#d50000 113px,#900000 115px,#740000 116px,#610000 117px,#510000 119px,#440000 122px,#3f0000 139.4px)"></div><div style="background:linear-gradient(90deg,#220000 0,#250000 25px,#350000 51px,#250000 94px,#2f0000 102px,#3a0000 105px,#6e0000 112px,#690000 114px,#4f0000 118px,#440000 122px,#3f0000 139.4px)"></div></div>
<div class="hm" style="left:293.4px;top:142.4px;width:139.4px;height:110.8px"><div style="background:linear-gradient(90deg,#2a0000 0,#370000 12px,#3c0000 15px,#320000 18px,#220000 20px,#270000 21px,#3f0000 22px,#790000 23px,#2f0000 25px,#270000 26px,#370000 28px,#4f0000 30px,#5c0000 35px,#610000 60px,#5f0000 113px,#4c0000 127px,#350000 138px,#320000 139.4px)"></div><div style="background:linear-gradient(90deg,#2a0000 0,#3a0000 16px,#220000 19px,#200000 20px,#2f0000 21px,#6c0000 22px,#ff1a00 23px,#ad0000 24px,#3f0000 25px,#270000 26px,#250000 27px,#4c0000 30px,#570000 32px,#5f0000 42px,#5f0000 114px,#4c0000 127px,#320000 139.4px)"></div><div style="background:linear-gradient(90deg,#2a0000 0,#3a0000 15px,#2f0000 17px,#1d0000 19px,#220000 20px,#3f0000 21px,#ab0000 22px,#ffff03 23px,#ff2f00 24px,#590000 25px,#2f0000 26px,#200000 27px,#270000 28px,#470000 30px,#570000 32px,#5f0000 42px,#5f0000 114px,#470000 130px,#350000 139.4px)"></div><div style="background:linear-gradient(90deg,#2a0000 0,#3a0000 15px,#1a0000 19px,#270000 20px,#4f0000 21px,#da0000 22px,#ffffef 23px,#ff8600 24px,#6e0000 25px,#370000 26px,#220000 27px,#220000 28px,#4f0000 31px,#590000 33px,#610000 53px,#5f0000 114px,#4a0000 129px,#370000 139.4px)"></div><div style="background:linear-gradient(90deg,#2a0000 0,#370000 13px,#370000 15px,#270000 17px,#1d0000 18px,#1a0000 19px,#2d0000 20px,#570000 21px,#d70000 22px,#ffffa0 23px,#ff7300 24px,#760000 25px,#3f0000 26px,#220000 27px,#200000 28px,#4f0000 31px,#590000 33px,#610000 53px,#5f0000 114px,#4c0000 128px,#370000 139.4px)"></div><div style="background:linear-gradient(90deg,#2a0000 0,#370000 13px,#370000 15px,#270000 17px,#1a0000 18px,#1a0000 19px,#2d0000 20px,#510000 21px,#ad0000 22px,#ffa200 23px,#ff0d00 24px,#6e0000 25px,#3f0000 26px,#220000 27px,#1d0000 28px,#4c0000 31px,#590000 33px,#610000 53px,#5f0000 114px,#4a0000 130px,#3a0000 139.4px)"></div><div style="background:linear-gradient(90deg,#2a0000 0,#370000 13px,#370000 15px,#270000 17px,#1a0000 18px,#1a0000 19px,#2a0000 20px,#470000 21px,#7b0000 22px,#e40000 23px,#a80000 24px,#5c0000 25px,#3a0000 26px,#220000 27px,#1d0000 28px,#4c0000 31px,#590000 33px,#610000 53px,#5f0000 114px,#3c0000 139.4px)"></div><div style="background:linear-gradient(90deg,#2a0000 0,#370000 13px,#370000 15px,#180000 19px,#250000 20px,#3a0000 21px,#570000 22px,#7b0000 23px,#690000 24px,#4a0000 25px,#200000 27px,#1d0000 28px,#4f0000 31px,#590000 33px,#610000 53px,#5f0000 114px,#3f0000 138px,#3c0000 139.4px)"></div><div style="background:linear-gradient(90deg,#2a0000 0,#3a0000 15px,#2a0000 17px,#1d0000 18px,#180000 19px,#1d0000 20px,#4c0000 23px,#470000 24px,#270000 26px,#1d0000 27px,#200000 28px,#4f0000 31px,#590000 33px,#610000 53px,#5f0000 114px,#420000 138px,#3f0000 139.4px)"></div><div style="background:linear-gradient(90deg,#2a0000 0,#3a0000 15px,#370000 16px,#1a0000 19px,#1a0000 20px,#320000 23px,#320000 24px,#200000 26px,#1d0000 27px,#250000 28px,#470000 30px,#570000 32px,#5f0000 42px,#5f0000 114px,#420000 139.4px)"></div><div style="background:linear-gradient(90deg,#2a0000 0,#3a0000 16px,#1d0000 19px,#1a0000 21px,#220000 24px,#1a0000 26px,#200000 27px,#540000 31px,#5f0000 39px,#5f0000 114px,#420000 139.4px)"></div><div style="background:linear-gradient(90deg,#2a0000 0,#370000 12px,#3c0000 15px,#370000 17px,#1d0000 20px,#1a0000 25px,#270000 27px,#4f0000 30px,#5c0000 35px,#610000 60px,#5f0000 114px,#440000 139.4px)"></div><div style="background:linear-gradient(90deg,#2a0000 0,#370000 12px,#3c0000 16px,#1d0000 22px,#1d0000 24px,#270000 26px,#510000 30px,#590000 33px,#610000 53px,#5f0000 114px,#440000 139.4px)"></div><div style="background:linear-gradient(90deg,#2a0000 0,#3c0000 17px,#2d0000 21px,#270000 23px,#2d0000 25px,#540000 30px,#5f0000 39px,#5f0000 115px,#470000 139.4px)"></div><div style="background:linear-gradient(90deg,#2a0000 0,#370000 12px,#3f0000 18px,#350000 23px,#3a0000 25px,#4f0000 28px,#590000 33px,#610000 53px,#5f0000 115px,#470000 139.4px)"></div><div style="background:linear-gradient(90deg,#2a0000 0,#370000 13px,#420000 19px,#420000 24px,#570000 30px,#610000 49px,#5f0000 115px,#470000 139.4px)"></div><div style="background:linear-gradient(90deg,#2a0000 0,#370000 13px,#590000 33px,#610000 53px,#5f0000 115px,#470000 139.4px)"></div><div style="background:linear-gradient(90deg,#2a0000 0,#370000 13px,#590000 32px,#610000 54px,#5f0000 115px,#470000 139.4px)"></div><div style="background:linear-gradient(90deg,#2a0000 0,#370000 13px,#590000 32px,#610000 54px,#5f0000 115px,#4a0000 139.4px)"></div><div style="background:linear-gradient(90deg,#2a0000 0,#350000 11px,#590000 32px,#610000 54px,#5f0000 115px,#4a0000 139.4px)"></div><div style="background:linear-gradient(90deg,#2a0000 0,#350000 11px,#590000 32px,#610000 54px,#5f0000 115px,#4a0000 139.4px)"></div><div style="background:linear-gradient(90deg,#2a0000 0,#350000 11px,#590000 32px,#610000 54px,#5f0000 115px,#4a0000 139.4px)"></div><div style="background:linear-gradient(90deg,#270000 0,#3c0000 16px,#570000 30px,#610000 49px,#5f0000 115px,#4a0000 139.4px)"></div><div style="background:linear-gradient(90deg,#270000 0,#3c0000 16px,#570000 30px,#610000 49px,#5f0000 115px,#4a0000 139.4px)"></div><div style="background:linear-gradient(90deg,#270000 0,#3c0000 16px,#590000 32px,#610000 54px,#5f0000 115px,#4a0000 139.4px)"></div><div style="background:linear-gradient(90deg,#270000 0,#3c0000 16px,#570000 31px,#610000 48px,#5f0000 115px,#4a0000 139.4px)"></div><div style="background:linear-gradient(90deg,#270000 0,#3c0000 16px,#570000 31px,#610000 48px,#5f0000 115px,#4a0000 139.4px)"></div><div style="background:linear-gradient(90deg,#270000 0,#3c0000 16px,#570000 31px,#610000 48px,#5f0000 115px,#4a0000 139.4px)"></div><div style="background:linear-gradient(90deg,#270000 0,#3c0000 16px,#570000 31px,#610000 48px,#5f0000 115px,#4a0000 139.4px)"></div><div style="background:linear-gradient(90deg,#270000 0,#350000 12px,#540000 29px,#610000 46px,#5f0000 115px,#4a0000 139.4px)"></div><div style="background:linear-gradient(90deg,#270000 0,#350000 12px,#570000 31px,#610000 48px,#5f0000 115px,#4a0000 139.4px)"></div><div style="background:linear-gradient(90deg,#270000 0,#350000 12px,#590000 33px,#610000 53px,#5f0000 115px,#4a0000 139.4px)"></div><div style="background:linear-gradient(90deg,#270000 0,#350000 12px,#590000 33px,#610000 53px,#5f0000 115px,#4a0000 139.4px)"></div><div style="background:linear-gradient(90deg,#270000 0,#320000 11px,#590000 33px,#610000 53px,#5f0000 115px,#4a0000 139.4px)"></div><div style="background:linear-gradient(90deg,#250000 0,#3a0000 16px,#590000 33px,#610000 55px,#5f0000 115px,#4a0000 139.4px)"></div><div style="background:linear-gradient(90deg,#250000 0,#3a0000 16px,#570000 31px,#610000 50px,#5f0000 115px,#4a0000 139.4px)"></div><div style="background:linear-gradient(90deg,#250000 0,#3a0000 16px,#570000 32px,#610000 49px,#5f0000 115px,#4a0000 139.4px)"></div><div style="background:linear-gradient(90deg,#250000 0,#350000 14px,#540000 30px,#610000 48px,#5f0000 115px,#4a0000 139.4px)"></div><div style="background:linear-gradient(90deg,#250000 0,#320000 12px,#590000 34px,#610000 54px,#5f0000 115px,#4a0000 139.4px)"></div><div style="background:linear-gradient(90deg,#250000 0,#2f0000 11px,#570000 33px,#610000 50px,#5f0000 115px,#4a0000 139.4px)"></div><div style="background:linear-gradient(90deg,#220000 0,#370000 16px,#570000 33px,#610000 52px,#5f0000 115px,#4a0000 139.4px)"></div><div style="background:linear-gradient(90deg,#220000 0,#370000 16px,#570000 33px,#610000 52px,#5f0000 115px,#4a0000 139.4px)"></div><div style="background:linear-gradient(90deg,#220000 0,#320000 14px,#540000 32px,#610000 50px,#5f0000 115px,#4a0000 139.4px)"></div><div style="background:linear-gradient(90deg,#220000 0,#2f0000 13px,#540000 32px,#610000 50px,#5f0000 115px,#4a0000 139.4px)"></div><div style="background:linear-gradient(90deg,#200000 0,#350000 16px,#540000 33px,#610000 51px,#5f0000 115px,#4a0000 139.4px)"></div><div style="background:linear-gradient(90deg,#200000 0,#370000 18px,#570000 35px,#610000 54px,#5f0000 115px,#4a0000 139.4px)"></div><div style="background:linear-gradient(90deg,#200000 0,#2d0000 12px,#570000 36px,#610000 55px,#5f0000 115px,#4a0000 139.4px)"></div><div style="background:linear-gradient(90deg,#1d0000 0,#320000 16px,#540000 34px,#610000 54px,#5f0000 115px,#4a0000 139.4px)"></div><div style="background:linear-gradient(90deg,#1d0000 0,#350000 18px,#540000 35px,#610000 54px,#5f0000 115px,#4a0000 139.4px)"></div><div style="background:linear-gradient(90deg,#1a0000 0,#350000 18px,#540000 36px,#610000 54px,#5f0000 115px,#4a0000 139.4px)"></div><div style="background:linear-gradient(90deg,#180000 0,#350000 19px,#510000 35px,#5f0000 50px,#5f0000 115px,#4a0000 139.4px)"></div><div style="background:linear-gradient(90deg,#180000 0,#2a0000 14px,#540000 37px,#610000 57px,#5f0000 115px,#4a0000 139.4px)"></div><div style="background:linear-gradient(90deg,#150000 0,#270000 14px,#4f0000 34px,#5f0000 52px,#5f0000 115px,#4a0000 139.4px)"></div><div style="background:linear-gradient(90deg,#120000 0,#220000 12px,#4f0000 35px,#5f0000 53px,#5f0000 115px,#4a0000 139.4px)"></div><div style="background:linear-gradient(90deg,#100000 0,#200000 12px,#4c0000 34px,#5f0000 53px,#5f0000 115px,#4a0000 139.4px)"></div><div style="background:linear-gradient(90deg,#0d0000 0,#1d0000 12px,#4a0000 33px,#5c0000 51px,#590000 55px,#510000 59px,#510000 61px,#610000 67px,#5f0000 115px,#4a0000 139.4px)"></div><div style="background:linear-gradient(90deg,#0b0000 0,#1d0000 14px,#4a0000 34px,#5c0000 52px,#4c0000 56px,#3f0000 59px,#420000 61px,#5c0000 65px,#610000 69px,#5f0000 115px,#4a0000 139.4px)"></div><div style="background:linear-gradient(90deg,#0b0000 0,#120000 10px,#4a0000 35px,#590000 50px,#570000 53px,#370000 57px,#2f0000 60px,#370000 62px,#5c0000 66px,#610000 70px,#5f0000 115px,#4a0000 139.4px)"></div><div style="background:linear-gradient(90deg,#0b0000 0,#100000 10px,#270000 21px,#4a0000 36px,#590000 51px,#4f0000 53px,#2f0000 56px,#2d0000 62px,#3c0000 64px,#570000 66px,#610000 68px,#5f0000 115px,#4a0000 139.4px)"></div><div style="background:linear-gradient(90deg,#0b0000 0,#0d0000 10px,#220000 21px,#4a0000 37px,#570000 49px,#570000 51px,#470000 53px,#2f0000 55px,#2f0000 57px,#3a0000 59px,#2d0000 63px,#320000 64px,#590000 67px,#610000 70px,#5f0000 115px,#4a0000 139.4px)"></div><div style="background:linear-gradient(90deg,#0b0000 0,#0d0000 12px,#220000 23px,#4a0000 38px,#570000 50px,#4c0000 52px,#350000 54px,#2f0000 55px,#440000 57px,#510000 58px,#510000 60px,#2f0000 63px,#2d0000 64px,#470000 66px,#570000 67px,#610000 69px,#5f0000 115px,#4a0000 139.4px)"></div><div style="background:linear-gradient(90deg,#0d0000 0,#0d0000 14px,#200000 23px,#4a0000 39px,#540000 50px,#4a0000 52px,#350000 54px,#3f0000 55px,#8e0000 58px,#a00000 59px,#8e0000 60px,#640000 61px,#4a0000 62px,#370000 63px,#2d0000 64px,#320000 65px,#510000 67px,#610000 69px,#5f0000 115px,#4a0000 139.4px)"></div><div style="background:linear-gradient(90deg,#0d0000 0,#0d0000 16px,#200000 25px,#3f0000 35px,#540000 48px,#540000 50px,#3c0000 53px,#3c0000 54px,#540000 55px,#b80000 57px,#ff2500 58px,#fff600 59px,#ffad00 60px,#b30000 61px,#590000 62px,#3c0000 63px,#2f0000 64px,#2f0000 65px,#5c0000 68px,#610000 72px,#5f0000 115px,#4a0000 139.4px)"></div><div style="background:linear-gradient(90deg,#100000 0,#0b0000 14px,#180000 24px,#4a0000 41px,#540000 49px,#4f0000 51px,#3c0000 53px,#3c0000 54px,#590000 55px,#8e0000 56px,#ca0000 57px,#ff5e00 58px,#ffffef 59px,#ffff5e 60px,#d50000 61px,#5f0000 62px,#3f0000 63px,#2f0000 64px,#2f0000 65px,#4f0000 67px,#5f0000 69px,#5f0000 115px,#4a0000 139.4px)"></div><div style="background:linear-gradient(90deg,#120000 0,#0d0000 20px,#1d0000 28px,#420000 39px,#510000 49px,#4f0000 51px,#3a0000 53px,#370000 54px,#470000 55px,#900000 57px,#ba0000 58px,#f90000 59px,#d50000 60px,#7b0000 61px,#4f0000 62px,#3a0000 63px,#2d0000 64px,#320000 65px,#510000 67px,#5c0000 68px,#610000 72px,#5f0000 115px,#4a0000 139.4px)"></div><div style="background:linear-gradient(90deg,#150000 0,#0d0000 22px,#2d0000 34px,#470000 42px,#510000 50px,#470000 52px,#320000 54px,#320000 55px,#610000 58px,#640000 59px,#4f0000 61px,#320000 63px,#2d0000 64px,#350000 65px,#540000 67px,#5f0000 69px,#5f0000 115px,#4a0000 139.4px)"></div><div style="background:linear-gradient(90deg,#180000 0,#0d0000 23px,#200000 32px,#3f0000 41px,#510000 50px,#420000 53px,#2d0000 55px,#2d0000 56px,#3c0000 58px,#3f0000 60px,#2d0000 63px,#2f0000 64px,#570000 67px,#610000 71px,#5f0000 115px,#4a0000 139.4px)"></div><div style="background:linear-gradient(90deg,#1a0000 0,#100000 26px,#1a0000 32px,#420000 43px,#4f0000 49px,#4c0000 52px,#3c0000 54px,#2a0000 56px,#2f0000 60px,#2a0000 62px,#370000 64px,#510000 66px,#610000 69px,#5f0000 115px,#4a0000 139.4px)"></div><div style="background:linear-gradient(90deg,#1d0000 0,#150000 19px,#100000 28px,#270000 37px,#440000 45px,#4f0000 51px,#4c0000 53px,#2f0000 57px,#2a0000 59px,#320000 62px,#570000 66px,#610000 70px,#5f0000 115px,#4a0000 139.4px)"></div><div style="background:linear-gradient(90deg,#200000 0,#1d0000 16px,#120000 28px,#180000 34px,#440000 46px,#4f0000 52px,#470000 55px,#370000 58px,#370000 60px,#470000 63px,#5c0000 66px,#610000 75px,#5f0000 115px,#4a0000 139.4px)"></div><div style="background:linear-gradient(90deg,#200000 0,#200000 19px,#120000 31px,#1d0000 37px,#470000 48px,#4f0000 54px,#440000 59px,#4c0000 62px,#5c0000 66px,#610000 75px,#5f0000 115px,#4a0000 139.4px)"></div><div style="background:linear-gradient(90deg,#220000 0,#270000 16px,#150000 32px,#180000 36px,#4c0000 51px,#510000 55px,#510000 61px,#5f0000 67px,#5f0000 115px,#4a0000 139.4px)"></div><div style="background:linear-gradient(90deg,#250000 0,#2d0000 17px,#150000 35px,#2a0000 43px,#4a0000 51px,#5f0000 68px,#5f0000 115px,#4a0000 139.4px)"></div><div style="background:linear-gradient(90deg,#250000 0,#320000 19px,#270000 27px,#180000 36px,#1d0000 40px,#320000 46px,#4a0000 52px,#5f0000 68px,#5f0000 115px,#4a0000 139.4px)"></div><div style="background:linear-gradient(90deg,#270000 0,#370000 20px,#2a0000 30px,#1a0000 37px,#1d0000 42px,#4a0000 53px,#570000 61px,#610000 76px,#5f0000 115px,#4a0000 139.4px)"></div><div style="background:linear-gradient(90deg,#2a0000 0,#3c0000 20px,#370000 28px,#1a0000 40px,#2d0000 47px,#470000 53px,#570000 61px,#610000 77px,#5f0000 115px,#4a0000 139.4px)"></div><div style="background:linear-gradient(90deg,#2a0000 0,#440000 21px,#3f0000 28px,#1d0000 41px,#220000 45px,#4a0000 55px,#570000 61px,#610000 78px,#5f0000 115px,#4a0000 139.4px)"></div><div style="background:linear-gradient(90deg,#2d0000 0,#4a0000 22px,#470000 29px,#200000 42px,#220000 46px,#3a0000 52px,#4f0000 57px,#610000 74px,#5f0000 115px,#4a0000 139.4px)"></div><div style="background:linear-gradient(90deg,#2f0000 0,#510000 23px,#4c0000 31px,#220000 43px,#220000 47px,#510000 59px,#610000 77px,#5f0000 115px,#4a0000 139.4px)"></div><div style="background:linear-gradient(90deg,#2f0000 0,#590000 24px,#570000 30px,#3f0000 38px,#270000 44px,#220000 48px,#4f0000 59px,#5f0000 71px,#5f0000 115px,#4a0000 139.4px)"></div><div style="background:linear-gradient(90deg,#320000 0,#5f0000 23px,#5f0000 31px,#4a0000 38px,#2a0000 45px,#250000 49px,#2d0000 52px,#4a0000 58px,#590000 66px,#610000 82px,#5f0000 115px,#4a0000 139.4px)"></div><div style="background:linear-gradient(90deg,#350000 0,#660000 24px,#660000 31px,#540000 38px,#2a0000 47px,#250000 50px,#320000 54px,#4f0000 60px,#5f0000 72px,#5f0000 115px,#4a0000 139.4px)"></div><div style="background:linear-gradient(90deg,#370000 0,#540000 13px,#6c0000 23px,#710000 30px,#640000 37px,#270000 49px,#270000 52px,#370000 56px,#4f0000 61px,#5f0000 73px,#5f0000 115px,#4a0000 139.4px)"></div><div style="background:linear-gradient(90deg,#3a0000 0,#760000 25px,#760000 33px,#660000 39px,#270000 51px,#2d0000 55px,#4c0000 61px,#570000 66px,#610000 81px,#5f0000 115px,#470000 139.4px)"></div><div style="background:linear-gradient(90deg,#3c0000 0,#810000 26px,#810000 33px,#6e0000 40px,#2d0000 51px,#270000 54px,#510000 63px,#610000 79px,#5f0000 115px,#470000 139.4px)"></div><div style="background:linear-gradient(90deg,#3c0000 0,#890000 25px,#8e0000 32px,#790000 40px,#5f0000 45px,#320000 51px,#2a0000 54px,#350000 58px,#510000 64px,#610000 80px,#5f0000 115px,#470000 139.4px)"></div><div style="background:linear-gradient(90deg,#3f0000 0,#6c0000 14px,#900000 24px,#9b0000 30px,#930000 36px,#860000 40px,#690000 45px,#350000 52px,#2a0000 56px,#350000 59px,#4f0000 64px,#5c0000 72px,#610000 90px,#5f0000 115px,#470000 138px,#440000 139.4px)"></div><div style="background:linear-gradient(90deg,#420000 0,#690000 12px,#a00000 25px,#ab0000 30px,#a80000 34px,#960000 40px,#6e0000 46px,#2f0000 54px,#2a0000 57px,#4f0000 65px,#5c0000 73px,#610000 89px,#5f0000 115px,#470000 138px,#420000 139.4px)"></div><div style="background:linear-gradient(90deg,#440000 0,#660000 10px,#b50000 26px,#c00000 31px,#ba0000 35px,#ab0000 39px,#830000 45px,#2f0000 55px,#2a0000 58px,#510000 66px,#610000 82px,#5f0000 115px,#470000 137px,#3f0000 139.4px)"></div><div style="background:linear-gradient(90deg,#470000 0,#6c0000 10px,#d50000 28px,#da0000 32px,#cd0000 37px,#a30000 43px,#5c0000 51px,#370000 55px,#2d0000 57px,#2a0000 59px,#510000 67px,#610000 83px,#5f0000 115px,#4a0000 135px,#3c0000 139.4px)"></div><div style="background:linear-gradient(90deg,#4a0000 0,#660000 8px,#960000 16px,#f40000 28px,#ff0000 32px,#f70000 35px,#dd0000 39px,#710000 50px,#350000 56px,#2a0000 59px,#3a0000 63px,#4f0000 67px,#5c0000 75px,#610000 93px,#5f0000 115px,#4c0000 133px,#3f0000 138px,#3a0000 139.4px)"></div><div style="background:linear-gradient(90deg,#4c0000 0,#610000 6px,#890000 13px,#ab0000 17px,#f70000 24px,#ff0500 25px,#ff2a00 29px,#ff3400 33px,#ff2200 36px,#ff0200 39px,#890000 49px,#350000 57px,#2a0000 59px,#350000 63px,#4f0000 68px,#5c0000 76px,#610000 94px,#5f0000 115px,#4c0000 133px,#370000 139.4px)"></div><div style="background:linear-gradient(90deg,#4c0000 0,#740000 9px,#a30000 15px,#d20000 19px,#ff0000 22px,#ff5400 27px,#ff7900 30px,#ff8000 33px,#ff7100 35px,#ff5600 37px,#fc0000 42px,#bd0000 46px,#4f0000 55px,#320000 58px,#2a0000 61px,#350000 64px,#4f0000 69px,#5c0000 77px,#610000 93px,#5f0000 116px,#4c0000 132px,#350000 139.4px)"></div><div style="background:linear-gradient(90deg,#4f0000 0,#6c0000 7px,#860000 11px,#ba0000 16px,#d50000 18px,#f90000 20px,#ff0d00 21px,#ff6e00 25px,#ffba00 28px,#ffdf00 30px,#ffec00 31px,#ffef00 33px,#ffda00 35px,#ffb000 37px,#ff2700 42px,#ff1000 43px,#f90000 44px,#c00000 47px,#640000 54px,#2f0000 59px,#270000 61px,#370000 65px,#4c0000 69px,#590000 75px,#640000 96px,#5c0000 120px,#4a0000 133px,#2f0000 139.4px)"></div><div style="background:linear-gradient(90deg,#4f0000 0,#6e0000 7px,#960000 12px,#c50000 16px,#fc0000 19px,#ff1500 20px,#ff4f00 22px,#ffe100 26px,#ffff0f 27px,#ffff46 28px,#ffff75 29px,#ffff9d 30px,#ffffb8 31px,#ffffc4 32px,#ffffc4 33px,#ffffb0 34px,#ffff91 35px,#ffff65 36px,#fff900 38px,#ff5c00 42px,#ff1a00 44px,#ff0000 45px,#c00000 48px,#860000 52px,#3f0000 58px,#2d0000 60px,#270000 63px,#510000 71px,#610000 87px,#610000 112px,#510000 128px,#3f0000 135px,#2d0000 139.4px)"></div><div style="background:linear-gradient(90deg,#510000 0,#6c0000 6px,#860000 10px,#b30000 14px,#cf0000 16px,#f90000 18px,#ff1500 19px,#ff5400 21px,#ffa800 23px,#ffda00 24px,#ffff17 25px,#ffffb8 27px,#ffffff 28px,#ffffff 36px,#ffffef 37px,#ffffa0 38px,#ffff4a 39px,#fff900 40px,#ff9000 42px,#ff3c00 44px,#ff1a00 45px,#fc0000 46px,#ba0000 49px,#8e0000 52px,#3a0000 59px,#2a0000 61px,#270000 64px,#510000 72px,#610000 87px,#610000 114px,#510000 128px,#3c0000 135px,#2a0000 139.4px)"></div><div style="background:linear-gradient(90deg,#510000 0,#660000 5px,#890000 10px,#a80000 13px,#d70000 16px,#ef0000 17px,#ff0800 18px,#ff2500 19px,#ff7100 21px,#ffa000 22px,#ffd700 23px,#ffff1f 24px,#ffff7d 25px,#ffffe3 26px,#ffffff 27px,#ffffff 38px,#ffffc8 39px,#ffff5e 40px,#fffc00 41px,#ff8800 43px,#ff5900 44px,#ff1000 46px,#f20000 47px,#b30000 50px,#570000 57px,#2f0000 61px,#250000 63px,#2d0000 66px,#510000 73px,#640000 91px,#610000 115px,#4f0000 129px,#270000 139.4px)"></div><div style="background:linear-gradient(90deg,#510000 0,#7b0000 8px,#a00000 12px,#ba0000 14px,#dd0000 16px,#f40000 17px,#ff1000 18px,#ff5400 20px,#ff8000 21px,#ffef00 23px,#ffff4a 24px,#ffffb4 25px,#ffffff 26px,#ffffff 39px,#ffff2a 41px,#ffd700 42px,#ff6900 44px,#ff3c00 45px,#ff1700 46px,#f90000 47px,#ca0000 49px,#980000 52px,#320000 61px,#220000 64px,#320000 68px,#470000 71px,#570000 77px,#640000 92px,#640000 112px,#510000 128px,#250000 139.4px)"></div><div style="background:linear-gradient(90deg,#510000 0,#7b0000 8px,#a00000 12px,#ba0000 14px,#f20000 17px,#ff0d00 18px,#ff5100 20px,#ffb000 22px,#ffe900 23px,#ffff3e 24px,#ffffa8 25px,#ffffff 26px,#ffffff 38px,#fffffb 39px,#ffff89 40px,#ffff1f 41px,#ffd200 42px,#ff9800 43px,#ff6600 44px,#ff1700 46px,#f90000 47px,#ca0000 49px,#9b0000 52px,#370000 61px,#220000 64px,#220000 66px,#4c0000 73px,#5f0000 84px,#660000 98px,#640000 114px,#540000 126px,#440000 131px,#250000 138px,#220000 139.4px)"></div><div style="background:linear-gradient(90deg,#510000 0,#810000 9px,#b50000 14px,#ec0000 17px,#ff0500 18px,#ff4100 20px,#ff9500 22px,#ffff03 24px,#ffffbc 26px,#ffffff 27px,#ffffff 38px,#ffff3e 40px,#ffec00 41px,#ffb200 42px,#ff5400 44px,#ff0d00 46px,#f20000 47px,#c80000 49px,#a80000 51px,#2a0000 63px,#200000 65px,#270000 68px,#4c0000 74px,#610000 86px,#690000 103px,#5f0000 120px,#4f0000 128px,#2a0000 136px,#220000 139.4px)"></div><div style="background:linear-gradient(90deg,#510000 0,#6c0000 6px,#9b0000 12px,#b00000 14px,#e20000 17px,#f70000 18px,#ff1000 19px,#ff4900 21px,#ff9500 23px,#fff100 25px,#ffff32 26px,#ffff7d 27px,#ffffc0 28px,#fffffb 29px,#ffffff 33px,#ffffff 35px,#ffffef 36px,#ffff65 38px,#ffff1b 39px,#ffdf00 40px,#ff8300 42px,#ff3700 44px,#ff1700 45px,#fc0000 46px,#d20000 48px,#b30000 50px,#980000 52px,#4c0000 60px,#270000 64px,#1d0000 66px,#270000 69px,#4c0000 75px,#610000 86px,#690000 98px,#660000 114px,#540000 126px,#270000 136px,#250000 139.4px)"></div><div style="background:linear-gradient(90deg,#510000 0,#6c0000 6px,#860000 10px,#ab0000 14px,#e40000 18px,#f70000 19px,#ff1000 20px,#ff4100 22px,#ffc200 26px,#ffe400 27px,#ffff07 28px,#ffff52 30px,#ffff65 31px,#ffff71 32px,#ffff71 33px,#ffff61 34px,#ffff46 35px,#fff900 37px,#ff4f00 42px,#ff0000 45px,#c80000 48px,#a00000 51px,#510000 60px,#2a0000 64px,#1d0000 66px,#1d0000 68px,#4a0000 75px,#610000 86px,#6c0000 101px,#660000 115px,#570000 125px,#270000 135px,#250000 139.4px)"></div><div style="background:linear-gradient(90deg,#4f0000 0,#740000 8px,#a30000 14px,#c50000 17px,#f40000 20px,#ff0800 21px,#ff9b00 28px,#ffba00 30px,#ffc500 31px,#ffc700 33px,#ffb500 35px,#ff7e00 38px,#ff2200 42px,#ff0d00 43px,#f90000 44px,#ba0000 48px,#930000 52px,#4c0000 61px,#250000 65px,#1a0000 67px,#220000 70px,#4a0000 76px,#5c0000 83px,#6e0000 99px,#690000 114px,#5c0000 123px,#420000 129px,#250000 135px,#270000 139.4px)"></div><div style="background:linear-gradient(90deg,#4f0000 0,#660000 6px,#8b0000 12px,#ad0000 16px,#dd0000 20px,#f90000 22px,#ff0800 23px,#ff4100 27px,#ff6100 30px,#ff6900 33px,#ff5e00 35px,#ff1d00 40px,#fc0000 42px,#ba0000 47px,#8e0000 52px,#590000 60px,#220000 66px,#1a0000 69px,#2a0000 72px,#440000 76px,#540000 80px,#6c0000 94px,#6c0000 113px,#5c0000 122px,#4f0000 126px,#2a0000 133px,#250000 137px,#2d0000 139.4px)"></div><div style="background:linear-gradient(90deg,#4c0000 0,#6e0000 8px,#930000 14px,#c80000 20px,#ff0000 25px,#ff1f00 29px,#ff2a00 33px,#ff1500 37px,#ff0000 39px,#b00000 47px,#8b0000 52px,#540000 61px,#250000 66px,#180000 69px,#1d0000 71px,#470000 77px,#610000 87px,#710000 100px,#690000 116px,#510000 125px,#270000 133px,#270000 137px,#2f0000 139.4px)"></div><div style="background:linear-gradient(90deg,#4c0000 0,#690000 8px,#980000 16px,#ec0000 27px,#fc0000 31px,#fc0000 34px,#e20000 39px,#980000 49px,#570000 61px,#1a0000 68px,#150000 70px,#250000 73px,#420000 77px,#510000 81px,#690000 92px,#710000 103px,#6c0000 114px,#590000 123px,#270000 132px,#270000 136px,#320000 139.4px)"></div><div style="background:linear-gradient(90deg,#4a0000 0,#660000 8px,#960000 17px,#cf0000 26px,#df0000 32px,#cf0000 38px,#510000 62px,#180000 69px,#180000 72px,#4a0000 79px,#640000 89px,#710000 101px,#6c0000 114px,#5f0000 121px,#2a0000 131px,#250000 134px,#370000 139.4px)"></div><div style="background:linear-gradient(90deg,#470000 0,#740000 12px,#c00000 27px,#c80000 31px,#c50000 35px,#b30000 41px,#590000 61px,#3f0000 65px,#1a0000 69px,#120000 71px,#1d0000 74px,#440000 79px,#540000 83px,#6c0000 95px,#710000 106px,#690000 116px,#590000 122px,#2a0000 130px,#2a0000 135px,#3a0000 139.4px)"></div><div style="background:linear-gradient(90deg,#440000 0,#660000 10px,#ad0000 26px,#b80000 32px,#ab0000 40px,#570000 62px,#180000 70px,#120000 72px,#180000 74px,#440000 80px,#540000 84px,#690000 94px,#710000 106px,#660000 117px,#570000 122px,#2d0000 129px,#270000 133px,#3c0000 139.4px)"></div><div style="background:linear-gradient(90deg,#440000 0,#660000 11px,#9e0000 25px,#ab0000 31px,#a30000 39px,#5c0000 61px,#3f0000 66px,#150000 71px,#150000 74px,#200000 76px,#470000 81px,#660000 93px,#6e0000 104px,#690000 115px,#590000 121px,#2a0000 129px,#2a0000 133px,#3f0000 139.4px)"></div><div style="background:linear-gradient(90deg,#420000 0,#5f0000 10px,#900000 23px,#a00000 30px,#9b0000 39px,#740000 54px,#540000 63px,#3a0000 67px,#120000 72px,#100000 74px,#220000 77px,#420000 81px,#510000 85px,#690000 96px,#6e0000 107px,#640000 117px,#570000 121px,#2f0000 127px,#270000 130px,#3a0000 137px,#420000 139.4px)"></div></div>
<svg width="685" height="293" viewBox="0 0 685 293">
<defs>
<linearGradient id="g1" x1="0" x2="0" y1="0" y2="1"><stop offset="0.0000" stop-color="#7a0403"/><stop offset="0.0250" stop-color="#8e0a01"/><stop offset="0.0500" stop-color="#a11201"/><stop offset="0.0750" stop-color="#b41b01"/><stop offset="0.1000" stop-color="#c32503"/><stop offset="0.1250" stop-color="#d02f05"/><stop offset="0.1500" stop-color="#dd3d08"/><stop offset="0.1750" stop-color="#e7490c"/><stop offset="0.2000" stop-color="#f05b12"/><stop offset="0.2250" stop-color="#f66c19"/><stop offset="0.2500" stop-color="#fb7e21"/><stop offset="0.2750" stop-color="#fe932a"/><stop offset="0.3000" stop-color="#fea431"/><stop offset="0.3250" stop-color="#fbb637"/><stop offset="0.3500" stop-color="#f6c33a"/><stop offset="0.3750" stop-color="#eecf3a"/><stop offset="0.4000" stop-color="#e1dd37"/><stop offset="0.4250" stop-color="#d4e735"/><stop offset="0.4500" stop-color="#c3f134"/><stop offset="0.4750" stop-color="#b4f836"/><stop offset="0.5000" stop-color="#a4fc3c"/><stop offset="0.5250" stop-color="#8fff49"/><stop offset="0.5500" stop-color="#79fe59"/><stop offset="0.5750" stop-color="#5dfc6f"/><stop offset="0.6000" stop-color="#46f884"/><stop offset="0.6250" stop-color="#32f298"/><stop offset="0.6500" stop-color="#20eaac"/><stop offset="0.6750" stop-color="#19e2bb"/><stop offset="0.7000" stop-color="#19d5cd"/><stop offset="0.7250" stop-color="#1fc9dd"/><stop offset="0.7500" stop-color="#28bceb"/><stop offset="0.7750" stop-color="#35abf8"/><stop offset="0.8000" stop-color="#3e9bfe"/><stop offset="0.8250" stop-color="#458afc"/><stop offset="0.8500" stop-color="#477bf2"/><stop offset="0.8750" stop-color="#466be3"/><stop offset="0.9000" stop-color="#4559cb"/><stop offset="0.9250" stop-color="#4249b1"/><stop offset="0.9500" stop-color="#3d358b"/><stop offset="0.9750" stop-color="#372466"/><stop offset="1.0000" stop-color="#30123b"/></linearGradient>
<linearGradient id="g2" x1="0" x2="0" y1="0" y2="1"><stop offset="0.0000" stop-color="#ffffff"/><stop offset="0.0250" stop-color="#ffffe7"/><stop offset="0.0500" stop-color="#ffffd0"/><stop offset="0.0750" stop-color="#ffffb4"/><stop offset="0.1000" stop-color="#ffff9d"/><stop offset="0.1250" stop-color="#ffff85"/><stop offset="0.1500" stop-color="#ffff69"/><stop offset="0.1750" stop-color="#ffff52"/><stop offset="0.2000" stop-color="#ffff36"/><stop offset="0.2250" stop-color="#ffff1f"/><stop offset="0.2500" stop-color="#ffff07"/><stop offset="0.2750" stop-color="#fff100"/><stop offset="0.3000" stop-color="#ffe100"/><stop offset="0.3250" stop-color="#ffcf00"/><stop offset="0.3500" stop-color="#ffbf00"/><stop offset="0.3750" stop-color="#ffb000"/><stop offset="0.4000" stop-color="#ff9d00"/><stop offset="0.4250" stop-color="#ff8e00"/><stop offset="0.4500" stop-color="#ff7b00"/><stop offset="0.4750" stop-color="#ff6b00"/><stop offset="0.5000" stop-color="#ff5c00"/><stop offset="0.5250" stop-color="#ff4900"/><stop offset="0.5500" stop-color="#ff3a00"/><stop offset="0.5750" stop-color="#ff2700"/><stop offset="0.6000" stop-color="#ff1700"/><stop offset="0.6250" stop-color="#ff0800"/><stop offset="0.6500" stop-color="#f40000"/><stop offset="0.6750" stop-color="#e40000"/><stop offset="0.7000" stop-color="#d20000"/><stop offset="0.7250" stop-color="#c20000"/><stop offset="0.7500" stop-color="#b30000"/><stop offset="0.7750" stop-color="#a00000"/><stop offset="0.8000" stop-color="#900000"/><stop offset="0.8250" stop-color="#7e0000"/><stop offset="0.8500" stop-color="#6e0000"/><stop offset="0.8750" stop-color="#5f0000"/><stop offset="0.9000" stop-color="#4c0000"/><stop offset="0.9250" stop-color="#3c0000"/><stop offset="0.9500" stop-color="#2a0000"/><stop offset="0.9750" stop-color="#1a0000"/><stop offset="1.0000" stop-color="#0b0000"/></linearGradient>
<clipPath id="cc"><rect x="541.5" y="26.9" width="142.7" height="106.95"/></clipPath>
<clipPath id="cd"><rect x="541.5" y="148.5" width="142.7" height="106.2"/></clipPath>
</defs>
<rect x="203.2" y="27" width="9.2" height="226.2" fill="url(#g1)" stroke="#8a8a8a" stroke-width="0.8"/>
<rect x="436.2" y="27" width="8.4" height="226.2" fill="url(#g2)" stroke="#8a8a8a" stroke-width="0.8"/>
<line x1="44.50" y1="27.40" x2="201.50" y2="27.40" stroke="#1a1a1a" stroke-width="0.9" />
<line x1="45.00" y1="27.00" x2="45.00" y2="137.70" stroke="#555" stroke-width="1" />
<line x1="45.00" y1="137.70" x2="202.00" y2="137.70" stroke="#555" stroke-width="1" />
<line x1="201.90" y1="27.00" x2="201.90" y2="140.20" stroke="#b0b0b0" stroke-width="1" />
<line x1="68.47" y1="137.70" x2="68.47" y2="135.50" stroke="#222" stroke-width="0.8" />
<line x1="68.47" y1="27.00" x2="68.47" y2="29.20" stroke="#222" stroke-width="0.8" />
<line x1="91.95" y1="137.70" x2="91.95" y2="135.50" stroke="#222" stroke-width="0.8" />
<line x1="91.95" y1="27.00" x2="91.95" y2="29.20" stroke="#222" stroke-width="0.8" />
<line x1="115.43" y1="137.70" x2="115.43" y2="135.50" stroke="#222" stroke-width="0.8" />
<line x1="115.43" y1="27.00" x2="115.43" y2="29.20" stroke="#222" stroke-width="0.8" />
<line x1="138.90" y1="137.70" x2="138.90" y2="135.50" stroke="#222" stroke-width="0.8" />
<line x1="138.90" y1="27.00" x2="138.90" y2="29.20" stroke="#222" stroke-width="0.8" />
<line x1="162.38" y1="137.70" x2="162.38" y2="135.50" stroke="#222" stroke-width="0.8" />
<line x1="162.38" y1="27.00" x2="162.38" y2="29.20" stroke="#222" stroke-width="0.8" />
<line x1="185.85" y1="137.70" x2="185.85" y2="135.50" stroke="#222" stroke-width="0.8" />
<line x1="185.85" y1="27.00" x2="185.85" y2="29.20" stroke="#222" stroke-width="0.8" />
<line x1="45.00" y1="42.00" x2="47.50" y2="42.00" stroke="#222" stroke-width="0.8" />
<line x1="201.50" y1="42.00" x2="199.30" y2="42.00" stroke="#222" stroke-width="0.6" />
<line x1="45.00" y1="56.75" x2="47.50" y2="56.75" stroke="#222" stroke-width="0.8" />
<line x1="201.50" y1="56.75" x2="199.30" y2="56.75" stroke="#222" stroke-width="0.6" />
<line x1="45.00" y1="71.50" x2="47.50" y2="71.50" stroke="#222" stroke-width="0.8" />
<line x1="201.50" y1="71.50" x2="199.30" y2="71.50" stroke="#222" stroke-width="0.6" />
<line x1="45.00" y1="86.25" x2="47.50" y2="86.25" stroke="#222" stroke-width="0.8" />
<line x1="201.50" y1="86.25" x2="199.30" y2="86.25" stroke="#222" stroke-width="0.6" />
<line x1="45.00" y1="101.00" x2="47.50" y2="101.00" stroke="#222" stroke-width="0.8" />
<line x1="201.50" y1="101.00" x2="199.30" y2="101.00" stroke="#222" stroke-width="0.6" />
<line x1="45.00" y1="115.75" x2="47.50" y2="115.75" stroke="#222" stroke-width="0.8" />
<line x1="201.50" y1="115.75" x2="199.30" y2="115.75" stroke="#222" stroke-width="0.6" />
<line x1="45.00" y1="130.50" x2="47.50" y2="130.50" stroke="#222" stroke-width="0.8" />
<line x1="201.50" y1="130.50" x2="199.30" y2="130.50" stroke="#222" stroke-width="0.6" />
<line x1="44.50" y1="142.80" x2="201.50" y2="142.80" stroke="#1a1a1a" stroke-width="0.9" />
<line x1="45.00" y1="142.40" x2="45.00" y2="253.20" stroke="#555" stroke-width="1" />
<line x1="45.00" y1="253.20" x2="202.00" y2="253.20" stroke="#555" stroke-width="1" />
<line x1="201.90" y1="142.40" x2="201.90" y2="255.70" stroke="#b0b0b0" stroke-width="1" />
<line x1="68.47" y1="253.20" x2="68.47" y2="251.00" stroke="#222" stroke-width="0.8" />
<line x1="68.47" y1="142.40" x2="68.47" y2="144.60" stroke="#222" stroke-width="0.8" />
<line x1="91.95" y1="253.20" x2="91.95" y2="251.00" stroke="#222" stroke-width="0.8" />
<line x1="91.95" y1="142.40" x2="91.95" y2="144.60" stroke="#222" stroke-width="0.8" />
<line x1="115.43" y1="253.20" x2="115.43" y2="251.00" stroke="#222" stroke-width="0.8" />
<line x1="115.43" y1="142.40" x2="115.43" y2="144.60" stroke="#222" stroke-width="0.8" />
<line x1="138.90" y1="253.20" x2="138.90" y2="251.00" stroke="#222" stroke-width="0.8" />
<line x1="138.90" y1="142.40" x2="138.90" y2="144.60" stroke="#222" stroke-width="0.8" />
<line x1="162.38" y1="253.20" x2="162.38" y2="251.00" stroke="#222" stroke-width="0.8" />
<line x1="162.38" y1="142.40" x2="162.38" y2="144.60" stroke="#222" stroke-width="0.8" />
<line x1="185.85" y1="253.20" x2="185.85" y2="251.00" stroke="#222" stroke-width="0.8" />
<line x1="185.85" y1="142.40" x2="185.85" y2="144.60" stroke="#222" stroke-width="0.8" />
<line x1="45.00" y1="157.40" x2="47.50" y2="157.40" stroke="#222" stroke-width="0.8" />
<line x1="201.50" y1="157.40" x2="199.30" y2="157.40" stroke="#222" stroke-width="0.6" />
<line x1="45.00" y1="172.18" x2="47.50" y2="172.18" stroke="#222" stroke-width="0.8" />
<line x1="201.50" y1="172.18" x2="199.30" y2="172.18" stroke="#222" stroke-width="0.6" />
<line x1="45.00" y1="186.96" x2="47.50" y2="186.96" stroke="#222" stroke-width="0.8" />
<line x1="201.50" y1="186.96" x2="199.30" y2="186.96" stroke="#222" stroke-width="0.6" />
<line x1="45.00" y1="201.74" x2="47.50" y2="201.74" stroke="#222" stroke-width="0.8" />
<line x1="201.50" y1="201.74" x2="199.30" y2="201.74" stroke="#222" stroke-width="0.6" />
<line x1="45.00" y1="216.52" x2="47.50" y2="216.52" stroke="#222" stroke-width="0.8" />
<line x1="201.50" y1="216.52" x2="199.30" y2="216.52" stroke="#222" stroke-width="0.6" />
<line x1="45.00" y1="231.30" x2="47.50" y2="231.30" stroke="#222" stroke-width="0.8" />
<line x1="201.50" y1="231.30" x2="199.30" y2="231.30" stroke="#222" stroke-width="0.6" />
<line x1="45.00" y1="246.08" x2="47.50" y2="246.08" stroke="#222" stroke-width="0.8" />
<line x1="201.50" y1="246.08" x2="199.30" y2="246.08" stroke="#222" stroke-width="0.6" />
<line x1="292.90" y1="27.40" x2="432.80" y2="27.40" stroke="#1a1a1a" stroke-width="0.9" />
<line x1="293.40" y1="27.00" x2="293.40" y2="137.70" stroke="#555" stroke-width="1" />
<line x1="293.40" y1="137.70" x2="433.30" y2="137.70" stroke="#555" stroke-width="1" />
<line x1="321.00" y1="137.70" x2="321.00" y2="135.50" stroke="#222" stroke-width="0.8" />
<line x1="321.00" y1="27.00" x2="321.00" y2="29.20" stroke="#222" stroke-width="0.8" />
<line x1="348.75" y1="137.70" x2="348.75" y2="135.50" stroke="#222" stroke-width="0.8" />
<line x1="348.75" y1="27.00" x2="348.75" y2="29.20" stroke="#222" stroke-width="0.8" />
<line x1="376.50" y1="137.70" x2="376.50" y2="135.50" stroke="#222" stroke-width="0.8" />
<line x1="376.50" y1="27.00" x2="376.50" y2="29.20" stroke="#222" stroke-width="0.8" />
<line x1="404.25" y1="137.70" x2="404.25" y2="135.50" stroke="#222" stroke-width="0.8" />
<line x1="404.25" y1="27.00" x2="404.25" y2="29.20" stroke="#222" stroke-width="0.8" />
<line x1="293.40" y1="36.55" x2="295.90" y2="36.55" stroke="#222" stroke-width="0.8" />
<line x1="432.80" y1="36.55" x2="430.60" y2="36.55" stroke="#222" stroke-width="0.6" />
<line x1="293.40" y1="55.00" x2="295.90" y2="55.00" stroke="#222" stroke-width="0.8" />
<line x1="432.80" y1="55.00" x2="430.60" y2="55.00" stroke="#222" stroke-width="0.6" />
<line x1="293.40" y1="73.45" x2="295.90" y2="73.45" stroke="#222" stroke-width="0.8" />
<line x1="432.80" y1="73.45" x2="430.60" y2="73.45" stroke="#222" stroke-width="0.6" />
<line x1="293.40" y1="91.90" x2="295.90" y2="91.90" stroke="#222" stroke-width="0.8" />
<line x1="432.80" y1="91.90" x2="430.60" y2="91.90" stroke="#222" stroke-width="0.6" />
<line x1="293.40" y1="110.35" x2="295.90" y2="110.35" stroke="#222" stroke-width="0.8" />
<line x1="432.80" y1="110.35" x2="430.60" y2="110.35" stroke="#222" stroke-width="0.6" />
<line x1="293.40" y1="128.80" x2="295.90" y2="128.80" stroke="#222" stroke-width="0.8" />
<line x1="432.80" y1="128.80" x2="430.60" y2="128.80" stroke="#222" stroke-width="0.6" />
<line x1="292.90" y1="142.80" x2="432.80" y2="142.80" stroke="#1a1a1a" stroke-width="0.9" />
<line x1="293.40" y1="142.40" x2="293.40" y2="253.20" stroke="#555" stroke-width="1" />
<line x1="293.40" y1="253.20" x2="433.30" y2="253.20" stroke="#555" stroke-width="1" />
<line x1="321.00" y1="253.20" x2="321.00" y2="251.00" stroke="#222" stroke-width="0.8" />
<line x1="321.00" y1="142.40" x2="321.00" y2="144.60" stroke="#222" stroke-width="0.8" />
<line x1="348.75" y1="253.20" x2="348.75" y2="251.00" stroke="#222" stroke-width="0.8" />
<line x1="348.75" y1="142.40" x2="348.75" y2="144.60" stroke="#222" stroke-width="0.8" />
<line x1="376.50" y1="253.20" x2="376.50" y2="251.00" stroke="#222" stroke-width="0.8" />
<line x1="376.50" y1="142.40" x2="376.50" y2="144.60" stroke="#222" stroke-width="0.8" />
<line x1="404.25" y1="253.20" x2="404.25" y2="251.00" stroke="#222" stroke-width="0.8" />
<line x1="404.25" y1="142.40" x2="404.25" y2="144.60" stroke="#222" stroke-width="0.8" />
<line x1="293.40" y1="151.70" x2="295.90" y2="151.70" stroke="#222" stroke-width="0.8" />
<line x1="432.80" y1="151.70" x2="430.60" y2="151.70" stroke="#222" stroke-width="0.6" />
<line x1="293.40" y1="170.15" x2="295.90" y2="170.15" stroke="#222" stroke-width="0.8" />
<line x1="432.80" y1="170.15" x2="430.60" y2="170.15" stroke="#222" stroke-width="0.6" />
<line x1="293.40" y1="188.60" x2="295.90" y2="188.60" stroke="#222" stroke-width="0.8" />
<line x1="432.80" y1="188.60" x2="430.60" y2="188.60" stroke="#222" stroke-width="0.6" />
<line x1="293.40" y1="207.05" x2="295.90" y2="207.05" stroke="#222" stroke-width="0.8" />
<line x1="432.80" y1="207.05" x2="430.60" y2="207.05" stroke="#222" stroke-width="0.6" />
<line x1="293.40" y1="225.50" x2="295.90" y2="225.50" stroke="#222" stroke-width="0.8" />
<line x1="432.80" y1="225.50" x2="430.60" y2="225.50" stroke="#222" stroke-width="0.6" />
<line x1="293.40" y1="243.95" x2="295.90" y2="243.95" stroke="#222" stroke-width="0.8" />
<line x1="432.80" y1="243.95" x2="430.60" y2="243.95" stroke="#222" stroke-width="0.6" />
<line x1="212.40" y1="72.24" x2="210.40" y2="72.24" stroke="#333" stroke-width="0.8" />
<line x1="444.60" y1="72.24" x2="442.60" y2="72.24" stroke="#333" stroke-width="0.8" />
<line x1="212.40" y1="117.48" x2="210.40" y2="117.48" stroke="#333" stroke-width="0.8" />
<line x1="444.60" y1="117.48" x2="442.60" y2="117.48" stroke="#333" stroke-width="0.8" />
<line x1="212.40" y1="162.72" x2="210.40" y2="162.72" stroke="#333" stroke-width="0.8" />
<line x1="444.60" y1="162.72" x2="442.60" y2="162.72" stroke="#333" stroke-width="0.8" />
<line x1="212.40" y1="207.96" x2="210.40" y2="207.96" stroke="#333" stroke-width="0.8" />
<line x1="444.60" y1="207.96" x2="442.60" y2="207.96" stroke="#333" stroke-width="0.8" />
<path d="M56.1 62.0H240.6V28.2H294.3" fill="none" stroke="#f3831c" stroke-width="1.7" stroke-dasharray="3.8 3.77"/>
<path d="M56.9 62.0V116.5H138.4V62.0" fill="none" stroke="#f3831c" stroke-width="1.7" stroke-dasharray="3.8 3.77"/>
<path d="M56.1 178.0H240.6V144.2H294.3" fill="none" stroke="#f3831c" stroke-width="1.7" stroke-dasharray="3.8 3.77"/>
<path d="M56.9 178.0V232.6H138.3V178.0" fill="none" stroke="#f3831c" stroke-width="1.7" stroke-dasharray="3.8 3.77"/>
<text x="-0.50" y="10.80" font-size="15" text-anchor="start" fill="#111" >a</text>
<text x="247.90" y="10.80" font-size="15" text-anchor="start" fill="#111" >b</text>
<text x="495.00" y="10.80" font-size="15" text-anchor="start" fill="#111" >c</text>
<text x="495.00" y="151.00" font-size="15" text-anchor="start" fill="#111" >d</text>
<text x="235.30" y="14.90" font-size="10.4" text-anchor="end" fill="#111" >Amplitude (unit)</text>
<text x="462.80" y="14.90" font-size="10.4" text-anchor="end" fill="#111" >1-Amplitude (unit)</text>
<text x="38.70" y="46.50" font-size="10.4" text-anchor="end" fill="#111" >1.6</text>
<text x="38.70" y="76.00" font-size="10.4" text-anchor="end" fill="#111" >1.2</text>
<text x="38.70" y="105.60" font-size="10.4" text-anchor="end" fill="#111" >0.8</text>
<text x="38.70" y="135.10" font-size="10.4" text-anchor="end" fill="#111" >0.4</text>
<text x="38.70" y="161.90" font-size="10.4" text-anchor="end" fill="#111" >1.6</text>
<text x="38.70" y="191.30" font-size="10.4" text-anchor="end" fill="#111" >1.2</text>
<text x="38.70" y="220.90" font-size="10.4" text-anchor="end" fill="#111" >0.8</text>
<text x="38.70" y="250.60" font-size="10.4" text-anchor="end" fill="#111" >0.4</text>
<text x="45.00" y="268.10" font-size="10.4" text-anchor="middle" fill="#111" >0</text>
<text x="91.80" y="268.10" font-size="10.4" text-anchor="middle" fill="#111" >3</text>
<text x="138.70" y="268.10" font-size="10.4" text-anchor="middle" fill="#111" >6</text>
<text x="185.50" y="268.10" font-size="10.4" text-anchor="middle" fill="#111" >9</text>
<text x="123.20" y="288.00" font-size="10.4" text-anchor="middle" fill="#111" >Time (ps)</text>
<text transform="translate(9.9 82.2) rotate(-90)" font-size="10.4" text-anchor="middle" fill="#111">Frequency (THz)</text>
<text transform="translate(9.9 197.5) rotate(-90)" font-size="10.4" text-anchor="middle" fill="#111">Frequency (THz)</text>
<text x="217.00" y="32.40" font-size="10.4" text-anchor="start" fill="#111" >1.0</text>
<text x="448.60" y="32.40" font-size="10.4" text-anchor="start" fill="#111" >1.0</text>
<text x="217.00" y="77.10" font-size="10.4" text-anchor="start" fill="#111" >0.8</text>
<text x="448.60" y="77.10" font-size="10.4" text-anchor="start" fill="#111" >0.8</text>
<text x="217.00" y="121.80" font-size="10.4" text-anchor="start" fill="#111" >0.6</text>
<text x="448.60" y="121.80" font-size="10.4" text-anchor="start" fill="#111" >0.6</text>
<text x="217.00" y="166.50" font-size="10.4" text-anchor="start" fill="#111" >0.4</text>
<text x="448.60" y="166.50" font-size="10.4" text-anchor="start" fill="#111" >0.4</text>
<text x="217.00" y="211.20" font-size="10.4" text-anchor="start" fill="#111" >0.2</text>
<text x="448.60" y="211.20" font-size="10.4" text-anchor="start" fill="#111" >0.2</text>
<text x="217.00" y="255.80" font-size="10.4" text-anchor="start" fill="#111" >0</text>
<text x="448.60" y="255.80" font-size="10.4" text-anchor="start" fill="#111" >0</text>
<text x="286.60" y="59.10" font-size="10.4" text-anchor="end" fill="#111" >1.1</text>
<text x="286.60" y="96.00" font-size="10.4" text-anchor="end" fill="#111" >0.9</text>
<text x="286.60" y="133.00" font-size="10.4" text-anchor="end" fill="#111" >0.7</text>
<text x="286.60" y="173.10" font-size="10.4" text-anchor="end" fill="#111" >1.1</text>
<text x="286.60" y="210.00" font-size="10.4" text-anchor="end" fill="#111" >0.9</text>
<text x="286.60" y="246.90" font-size="10.4" text-anchor="end" fill="#111" >0.7</text>
<text x="321.00" y="268.10" font-size="10.4" text-anchor="middle" fill="#111" >2</text>
<text x="376.50" y="268.10" font-size="10.4" text-anchor="middle" fill="#111" >4</text>
<text x="432.20" y="268.10" font-size="10.4" text-anchor="middle" fill="#111" >6</text>
<text x="363.00" y="288.00" font-size="10.4" text-anchor="middle" fill="#111" >Time (ps)</text>
<text transform="translate(258.3 82.1) rotate(-90)" font-size="10.4" text-anchor="middle" fill="#111">Frequency (THz)</text>
<text transform="translate(258.3 197.6) rotate(-90)" font-size="10.4" text-anchor="middle" fill="#111">Frequency (THz)</text>
<text x="150.20" y="41.10" font-size="9.05" fill="#f4f4f4" text-anchor="start"><tspan font-style="italic">d</tspan> = 16 µm</text>
<text x="153.60" y="154.80" font-size="9.05" fill="#f4f4f4" text-anchor="start"><tspan font-style="italic">d</tspan> = 2 µm</text>
<text x="383.20" y="41.40" font-size="9.05" fill="#f4f4f4" text-anchor="start"><tspan font-style="italic">d</tspan> = 16 µm</text>
<text x="386.60" y="155.60" font-size="9.05" fill="#f4f4f4" text-anchor="start"><tspan font-style="italic">d</tspan> = 2 µm</text>
<path d="M541.5 62.6 L542.0 62.6 L542.5 62.6 L543.0 62.7 L543.4 62.7 L543.9 62.8 L544.4 62.8 L544.9 62.9 L545.4 62.9 L545.9 63.0 L546.4 63.1 L546.9 63.1 L547.3 63.2 L547.8 63.3 L548.3 63.4 L548.8 63.5 L549.3 63.6 L549.8 63.7 L550.3 63.8 L550.7 63.9 L551.2 64.1 L551.7 64.2 L552.2 64.3 L552.7 64.4 L553.2 64.5 L553.7 64.7 L554.2 64.8 L554.6 64.9 L555.1 65.1 L555.6 65.2 L556.1 65.3 L556.6 65.5 L557.1 65.6 L557.6 65.8 L558.1 66.0 L558.5 66.1 L559.0 66.3 L559.5 66.5 L560.0 66.7 L560.5 67.0 L561.0 67.2 L561.5 67.4 L561.9 67.7 L562.4 67.9 L562.9 68.2 L563.4 68.4 L563.9 68.7 L564.4 69.0 L564.9 69.3 L565.4 69.5 L565.8 69.8 L566.3 70.1 L566.8 70.4 L567.3 70.7 L567.8 71.0 L568.3 71.3 L568.8 71.6 L569.2 71.9 L569.7 72.3 L570.2 72.6 L570.7 72.9 L571.2 73.2 L571.7 73.5 L572.2 73.9 L572.7 74.2 L573.1 74.6 L573.6 75.0 L574.1 75.4 L574.6 75.8 L575.1 76.2 L575.6 76.6 L576.1 77.0 L576.5 77.4 L577.0 77.8 L577.5 78.3 L578.0 78.7 L578.5 79.2 L579.0 79.6 L579.5 80.1 L580.0 80.6 L580.4 81.1 L580.9 81.5 L581.4 82.0 L581.9 82.5 L582.4 83.0 L582.9 83.5 L583.4 84.0 L583.9 84.5 L584.3 85.0 L584.8 85.5 L585.3 86.0 L585.8 86.5 L586.3 87.0 L586.8 87.5 L587.3 88.0 L587.7 88.5 L588.2 89.1 L588.7 89.7 L589.2 90.2 L589.7 90.8 L590.2 91.4 L590.7 92.0 L591.2 92.6 L591.6 93.3 L592.1 93.9 L592.6 94.5 L593.1 95.1 L593.6 95.7 L594.1 96.4 L594.6 97.0 L595.0 97.6 L595.5 98.2 L596.0 98.8 L596.5 99.4 L597.0 99.9 L597.5 100.5 L598.0 101.0 L598.5 101.6 L598.9 102.1 L599.4 102.6 L599.9 103.0 L600.4 103.5 L600.9 103.9 L601.4 104.3 L601.9 104.7 L602.4 105.1 L602.8 105.5 L603.3 105.9 L603.8 106.3 L604.3 106.6 L604.8 107.0 L605.3 107.3 L605.8 107.7 L606.2 108.0 L606.7 108.4 L607.2 108.7 L607.7 109.0 L608.2 109.4 L608.7 109.7 L609.2 110.0 L609.7 110.4 L610.1 110.7 L610.6 111.0 L611.1 111.4 L611.6 111.7 L612.1 112.0 L612.6 112.3 L613.1 112.7 L613.5 113.0 L614.0 113.3 L614.5 113.6 L615.0 113.8 L615.5 114.1 L616.0 114.4 L616.5 114.6 L617.0 114.8 L617.4 115.1 L617.9 115.3 L618.4 115.5 L618.9 115.7 L619.4 115.9 L619.9 116.1 L620.4 116.3 L620.8 116.4 L621.3 116.6 L621.8 116.8 L622.3 117.0 L622.8 117.1 L623.3 117.3 L623.8 117.5 L624.3 117.6 L624.7 117.8 L625.2 117.9 L625.7 118.1 L626.2 118.2 L626.7 118.3 L627.2 118.5 L627.7 118.6 L628.2 118.7 L628.6 118.9 L629.1 119.0 L629.6 119.1 L630.1 119.2 L630.6 119.4 L631.1 119.5 L631.6 119.6 L632.0 119.8 L632.5 119.9 L633.0 120.0 L633.5 120.2 L634.0 120.4 L634.5 120.5 L635.0 120.7 L635.5 120.8 L635.9 121.0 L636.4 121.2 L636.9 121.3 L637.4 121.5 L637.9 121.7 L638.4 121.9 L638.9 122.0 L639.3 122.2 L639.8 122.4 L640.3 122.6 L640.8 122.8 L641.3 122.9 L641.8 123.1 L642.3 123.3 L642.8 123.5 L643.2 123.7 L643.7 123.9 L644.2 124.0 L644.7 124.2 L645.2 124.4 L645.7 124.6 L646.2 124.8 L646.6 125.0 L647.1 125.2 L647.6 125.4 L648.1 125.6 L648.6 125.8 L649.1 126.0 L649.6 126.2 L650.1 126.5 L650.5 126.7 L651.0 126.9 L651.5 127.1 L652.0 127.4 L652.5 127.6 L653.0 127.8 L653.5 128.1 L654.0 128.3 L654.4 128.5 L654.9 128.8 L655.4 129.0 L655.9 129.2 L656.4 129.5 L656.9 129.7 L657.4 130.0 L657.8 130.2 L658.3 130.4 L658.8 130.6 L659.3 130.8 L659.8 131.1 L660.3 131.3 L660.8 131.5 L661.3 131.7 L661.7 131.9 L662.2 132.1 L662.7 132.3 L663.2 132.5 L663.7 132.7 L664.2 132.9 L664.7 133.1 L665.1 133.3 L665.6 133.5 L666.1 133.7 L666.6 133.9 L667.1 134.1 L667.6 134.3 L668.1 134.5 L668.6 134.7 L669.0 134.9 L669.5 135.1 L670.0 135.3 L670.5 135.5 L671.0 135.7 L671.5 135.9 L672.0 136.1 L672.4 136.3 L672.9 136.5 L673.4 136.6 L673.9 136.8 L674.4 137.0 L674.9 137.2 L675.4 137.4 L675.9 137.6 L676.3 137.8 L676.8 137.9 L677.3 138.1 L677.8 138.3 L678.3 138.5 L678.8 138.7 L679.3 138.8 L679.8 139.0 L680.2 139.2 L680.7 139.3 L681.2 139.5 L681.7 139.7 L682.2 139.9 L682.7 140.0 L683.2 140.2 L683.6 140.4 L684.1 140.5 L684.6 140.7 L685.1 140.8 L685.6 141.0 L686.1 141.2 L686.6 141.3 L687.1 141.5" fill="none" stroke="#2b2b2b" stroke-width="1.8" stroke-linejoin="round" clip-path="url(#cc)"/>
<path d="M541.5 62.6 L542.0 62.6 L542.5 62.6 L543.0 62.6 L543.4 62.7 L543.9 62.7 L544.4 62.8 L544.9 62.8 L545.4 62.9 L545.9 62.9 L546.4 63.0 L546.9 63.1 L547.3 63.2 L547.8 63.3 L548.3 63.3 L548.8 63.4 L549.3 63.5 L549.8 63.6 L550.3 63.7 L550.7 63.9 L551.2 64.0 L551.7 64.1 L552.2 64.2 L552.7 64.3 L553.2 64.4 L553.7 64.6 L554.2 64.7 L554.6 64.8 L555.1 64.9 L555.6 65.1 L556.1 65.2 L556.6 65.3 L557.1 65.5 L557.6 65.7 L558.1 65.8 L558.5 66.0 L559.0 66.2 L559.5 66.4 L560.0 66.6 L560.5 66.8 L561.0 67.1 L561.5 67.3 L561.9 67.6 L562.4 67.8 L562.9 68.1 L563.4 68.3 L563.9 68.6 L564.4 68.9 L564.9 69.2 L565.4 69.4 L565.8 69.7 L566.3 70.0 L566.8 70.3 L567.3 70.6 L567.8 70.9 L568.3 71.3 L568.8 71.6 L569.2 71.9 L569.7 72.2 L570.2 72.5 L570.7 72.8 L571.2 73.2 L571.7 73.5 L572.2 73.9 L572.7 74.3 L573.1 74.6 L573.6 75.0 L574.1 75.4 L574.6 75.8 L575.1 76.2 L575.6 76.6 L576.1 77.1 L576.5 77.5 L577.0 77.9 L577.5 78.4 L578.0 78.8 L578.5 79.3 L579.0 79.8 L579.5 80.3 L580.0 80.7 L580.4 81.2 L580.9 81.7 L581.4 82.2 L581.9 82.7 L582.4 83.2 L582.9 83.8 L583.4 84.3 L583.9 84.8 L584.3 85.3 L584.8 85.9 L585.3 86.5 L585.8 87.2 L586.3 87.8 L586.8 88.5 L587.3 89.1 L587.7 89.7 L588.2 90.3 L588.7 90.8 L589.2 91.3 L589.7 91.8 L590.2 92.2 L590.7 92.7 L591.2 93.1 L591.6 93.6 L592.1 94.0 L592.6 94.4 L593.1 94.8 L593.6 95.2 L594.1 95.6 L594.6 96.0 L595.0 96.5 L595.5 96.9 L596.0 97.3 L596.5 97.7 L597.0 98.1 L597.5 98.6 L598.0 99.0 L598.5 99.4 L598.9 99.8 L599.4 100.2 L599.9 100.6 L600.4 101.0 L600.9 101.5 L601.4 101.9 L601.9 102.3 L602.4 102.8 L602.8 103.2 L603.3 103.7 L603.8 104.1 L604.3 104.6 L604.8 105.0 L605.3 105.5 L605.8 106.0 L606.2 106.5 L606.7 106.9 L607.2 107.5 L607.7 108.0 L608.2 108.5 L608.7 109.1 L609.2 109.7 L609.7 110.4 L610.1 111.1 L610.6 111.8 L611.1 112.5 L611.6 113.3 L612.1 113.9 L612.6 114.6 L613.1 115.2 L613.5 115.8 L614.0 116.4 L614.5 116.9 L615.0 117.4 L615.5 117.9 L616.0 118.2 L616.5 118.4 L617.0 118.7 L617.4 118.8 L617.9 118.9 L618.4 118.8 L618.9 118.7 L619.4 118.6 L619.9 118.4 L620.4 118.3 L620.8 118.1 L621.3 117.9 L621.8 117.7 L622.3 117.4 L622.8 117.1 L623.3 116.8 L623.8 116.6 L624.3 116.3 L624.7 116.1 L625.2 115.9 L625.7 115.8 L626.2 115.6 L626.7 115.5 L627.2 115.3 L627.7 115.2 L628.2 115.0 L628.6 114.9 L629.1 114.9 L629.6 114.8 L630.1 114.8 L630.6 114.8 L631.1 114.8 L631.6 114.9 L632.0 114.9 L632.5 115.0 L633.0 115.0 L633.5 115.1 L634.0 115.2 L634.5 115.3 L635.0 115.4 L635.5 115.6 L635.9 115.7 L636.4 115.8 L636.9 115.9 L637.4 116.0 L637.9 116.2 L638.4 116.3 L638.9 116.5 L639.3 116.7 L639.8 116.9 L640.3 117.1 L640.8 117.3 L641.3 117.6 L641.8 117.8 L642.3 118.1 L642.8 118.3 L643.2 118.6 L643.7 118.9 L644.2 119.2 L644.7 119.4 L645.2 119.7 L645.7 120.0 L646.2 120.3 L646.6 120.6 L647.1 121.0 L647.6 121.3 L648.1 121.7 L648.6 122.0 L649.1 122.4 L649.6 122.8 L650.1 123.2 L650.5 123.5 L651.0 123.9 L651.5 124.3 L652.0 124.7 L652.5 125.1 L653.0 125.5 L653.5 125.9 L654.0 126.3 L654.4 126.7 L654.9 127.1 L655.4 127.5 L655.9 127.9 L656.4 128.3 L656.9 128.7 L657.4 129.1 L657.8 129.5 L658.3 129.9 L658.8 130.3 L659.3 130.7 L659.8 131.0 L660.3 131.3 L660.8 131.7 L661.3 132.0 L661.7 132.3 L662.2 132.7 L662.7 133.0 L663.2 133.3 L663.7 133.6 L664.2 134.0 L664.7 134.3 L665.1 134.6 L665.6 134.9 L666.1 135.2 L666.6 135.6 L667.1 135.9 L667.6 136.2 L668.1 136.5 L668.6 136.8 L669.0 137.1 L669.5 137.4 L670.0 137.7 L670.5 138.0 L671.0 138.3 L671.5 138.6 L672.0 138.9 L672.4 139.2 L672.9 139.5 L673.4 139.8 L673.9 140.0 L674.4 140.3 L674.9 140.6 L675.4 140.9 L675.9 141.1 L676.3 141.4 L676.8 141.6 L677.3 141.9 L677.8 142.2 L678.3 142.4 L678.8 142.7 L679.3 142.9 L679.8 143.1 L680.2 143.4 L680.7 143.6 L681.2 143.8 L681.7 144.1 L682.2 144.3 L682.7 144.5 L683.2 144.7 L683.6 144.9 L684.1 145.1 L684.6 145.3 L685.1 145.5 L685.6 145.7 L686.1 145.9 L686.6 146.1 L687.1 146.2" fill="none" stroke="#3650b4" stroke-width="1.8" stroke-linejoin="round" clip-path="url(#cc)"/>
<path d="M541.5 62.6 L542.0 62.6 L542.5 62.6 L543.0 62.6 L543.4 62.7 L543.9 62.7 L544.4 62.8 L544.9 62.8 L545.4 62.9 L545.9 62.9 L546.4 63.0 L546.9 63.1 L547.3 63.1 L547.8 63.2 L548.3 63.3 L548.8 63.4 L549.3 63.5 L549.8 63.6 L550.3 63.7 L550.7 63.8 L551.2 63.9 L551.7 64.0 L552.2 64.1 L552.7 64.2 L553.2 64.4 L553.7 64.5 L554.2 64.6 L554.6 64.7 L555.1 64.8 L555.6 65.0 L556.1 65.1 L556.6 65.2 L557.1 65.4 L557.6 65.5 L558.1 65.7 L558.5 65.8 L559.0 66.0 L559.5 66.2 L560.0 66.4 L560.5 66.6 L561.0 66.8 L561.5 67.1 L561.9 67.3 L562.4 67.5 L562.9 67.8 L563.4 68.0 L563.9 68.3 L564.4 68.6 L564.9 68.8 L565.4 69.1 L565.8 69.4 L566.3 69.7 L566.8 69.9 L567.3 70.2 L567.8 70.5 L568.3 70.8 L568.8 71.1 L569.2 71.4 L569.7 71.7 L570.2 72.0 L570.7 72.4 L571.2 72.7 L571.7 73.0 L572.2 73.4 L572.7 73.8 L573.1 74.1 L573.6 74.5 L574.1 74.9 L574.6 75.3 L575.1 75.8 L575.6 76.2 L576.1 76.6 L576.5 77.1 L577.0 77.5 L577.5 78.0 L578.0 78.4 L578.5 78.9 L579.0 79.4 L579.5 79.9 L580.0 80.3 L580.4 80.8 L580.9 81.3 L581.4 81.8 L581.9 82.3 L582.4 82.8 L582.9 83.3 L583.4 83.8 L583.9 84.2 L584.3 84.7 L584.8 85.2 L585.3 85.7 L585.8 86.2 L586.3 86.8 L586.8 87.3 L587.3 87.8 L587.7 88.3 L588.2 88.9 L588.7 89.4 L589.2 90.0 L589.7 90.5 L590.2 91.1 L590.7 91.7 L591.2 92.2 L591.6 92.8 L592.1 93.3 L592.6 93.9 L593.1 94.4 L593.6 94.9 L594.1 95.5 L594.6 96.0 L595.0 96.5 L595.5 97.1 L596.0 97.6 L596.5 98.2 L597.0 98.8 L597.5 99.5 L598.0 100.2 L598.5 100.9 L598.9 101.8 L599.4 102.9 L599.9 104.0 L600.4 105.2 L600.9 106.3 L601.4 107.4 L601.9 108.4 L602.4 109.5 L602.8 110.5 L603.3 111.4 L603.8 112.3 L604.3 112.9 L604.8 113.6 L605.3 114.1 L605.8 114.1 L606.2 113.7 L606.7 113.0 L607.2 112.3 L607.7 111.7 L608.2 111.0 L608.7 110.3 L609.2 109.6 L609.7 109.1 L610.1 108.6 L610.6 108.1 L611.1 107.7 L611.6 107.3 L612.1 107.0 L612.6 106.7 L613.1 106.4 L613.5 106.2 L614.0 105.9 L614.5 105.7 L615.0 105.5 L615.5 105.3 L616.0 105.2 L616.5 105.0 L617.0 104.9 L617.4 104.9 L617.9 104.8 L618.4 104.7 L618.9 104.7 L619.4 104.6 L619.9 104.6 L620.4 104.6 L620.8 104.6 L621.3 104.6 L621.8 104.6 L622.3 104.6 L622.8 104.6 L623.3 104.7 L623.8 104.7 L624.3 104.8 L624.7 104.9 L625.2 105.0 L625.7 105.1 L626.2 105.2 L626.7 105.2 L627.2 105.4 L627.7 105.5 L628.2 105.6 L628.6 105.7 L629.1 105.8 L629.6 105.9 L630.1 106.1 L630.6 106.2 L631.1 106.4 L631.6 106.6 L632.0 106.8 L632.5 107.1 L633.0 107.3 L633.5 107.6 L634.0 107.8 L634.5 108.1 L635.0 108.4 L635.5 108.6 L635.9 108.9 L636.4 109.2 L636.9 109.5 L637.4 109.7 L637.9 110.0 L638.4 110.3 L638.9 110.5 L639.3 110.8 L639.8 111.1 L640.3 111.4 L640.8 111.7 L641.3 112.0 L641.8 112.3 L642.3 112.6 L642.8 113.0 L643.2 113.3 L643.7 113.6 L644.2 113.9 L644.7 114.3 L645.2 114.6 L645.7 114.9 L646.2 115.3 L646.6 115.6 L647.1 116.0 L647.6 116.3 L648.1 116.7 L648.6 117.0 L649.1 117.4 L649.6 117.8 L650.1 118.1 L650.5 118.5 L651.0 118.9 L651.5 119.3 L652.0 119.6 L652.5 120.0 L653.0 120.4 L653.5 120.8 L654.0 121.2 L654.4 121.5 L654.9 121.9 L655.4 122.3 L655.9 122.8 L656.4 123.2 L656.9 123.6 L657.4 124.0 L657.8 124.4 L658.3 124.8 L658.8 125.2 L659.3 125.5 L659.8 125.9 L660.3 126.2 L660.8 126.6 L661.3 126.9 L661.7 127.2 L662.2 127.6 L662.7 127.9 L663.2 128.2 L663.7 128.6 L664.2 128.9 L664.7 129.2 L665.1 129.5 L665.6 129.9 L666.1 130.2 L666.6 130.5 L667.1 130.8 L667.6 131.1 L668.1 131.4 L668.6 131.8 L669.0 132.1 L669.5 132.4 L670.0 132.7 L670.5 133.0 L671.0 133.3 L671.5 133.6 L672.0 133.9 L672.4 134.2 L672.9 134.5 L673.4 134.8 L673.9 135.0 L674.4 135.3 L674.9 135.6 L675.4 135.9 L675.9 136.1 L676.3 136.4 L676.8 136.7 L677.3 137.0 L677.8 137.2 L678.3 137.5 L678.8 137.7 L679.3 138.0 L679.8 138.2 L680.2 138.5 L680.7 138.7 L681.2 138.9 L681.7 139.2 L682.2 139.4 L682.7 139.6 L683.2 139.9 L683.6 140.1 L684.1 140.3 L684.6 140.5 L685.1 140.7 L685.6 140.9 L686.1 141.1 L686.6 141.3 L687.1 141.5" fill="none" stroke="#6cb551" stroke-width="1.8" stroke-linejoin="round" clip-path="url(#cc)"/>
<path d="M541.5 62.6 L542.0 62.6 L542.5 62.6 L543.0 62.6 L543.4 62.6 L543.9 62.7 L544.4 62.7 L544.9 62.7 L545.4 62.8 L545.9 62.8 L546.4 62.9 L546.9 62.9 L547.3 63.0 L547.8 63.0 L548.3 63.1 L548.8 63.2 L549.3 63.2 L549.8 63.3 L550.3 63.4 L550.7 63.5 L551.2 63.6 L551.7 63.6 L552.2 63.7 L552.7 63.8 L553.2 63.9 L553.7 64.0 L554.2 64.1 L554.6 64.2 L555.1 64.3 L555.6 64.4 L556.1 64.5 L556.6 64.6 L557.1 64.7 L557.6 64.8 L558.1 64.9 L558.5 65.1 L559.0 65.2 L559.5 65.4 L560.0 65.6 L560.5 65.7 L561.0 65.9 L561.5 66.1 L561.9 66.3 L562.4 66.5 L562.9 66.7 L563.4 67.0 L563.9 67.2 L564.4 67.4 L564.9 67.6 L565.4 67.9 L565.8 68.1 L566.3 68.4 L566.8 68.6 L567.3 68.9 L567.8 69.1 L568.3 69.4 L568.8 69.7 L569.2 69.9 L569.7 70.2 L570.2 70.5 L570.7 70.7 L571.2 71.0 L571.7 71.3 L572.2 71.6 L572.7 71.9 L573.1 72.2 L573.6 72.6 L574.1 72.9 L574.6 73.2 L575.1 73.6 L575.6 74.0 L576.1 74.3 L576.5 74.7 L577.0 75.1 L577.5 75.5 L578.0 75.9 L578.5 76.3 L579.0 76.8 L579.5 77.2 L580.0 77.7 L580.4 78.1 L580.9 78.6 L581.4 79.1 L581.9 79.6 L582.4 80.1 L582.9 80.7 L583.4 81.2 L583.9 81.8 L584.3 82.4 L584.8 83.0 L585.3 83.6 L585.8 84.4 L586.3 85.1 L586.8 85.9 L587.3 86.8 L587.7 87.7 L588.2 88.6 L588.7 89.6 L589.2 90.6 L589.7 91.6 L590.2 92.6 L590.7 93.6 L591.2 94.8 L591.6 95.9 L592.1 97.2 L592.6 98.5 L593.1 99.9 L593.6 101.4 L594.1 103.1 L594.6 104.9 L595.0 106.7 L595.5 108.2 L596.0 109.9 L596.5 111.3 L597.0 111.9 L597.5 111.2 L598.0 109.7 L598.5 108.0 L598.9 106.8 L599.4 105.9 L599.9 105.0 L600.4 104.2 L600.9 103.5 L601.4 102.9 L601.9 102.3 L602.4 101.8 L602.8 101.4 L603.3 101.0 L603.8 100.7 L604.3 100.3 L604.8 100.0 L605.3 99.8 L605.8 99.5 L606.2 99.3 L606.7 99.2 L607.2 99.0 L607.7 98.9 L608.2 98.8 L608.7 98.7 L609.2 98.6 L609.7 98.5 L610.1 98.4 L610.6 98.4 L611.1 98.4 L611.6 98.5 L612.1 98.5 L612.6 98.6 L613.1 98.7 L613.5 98.8 L614.0 98.9 L614.5 99.0 L615.0 99.1 L615.5 99.3 L616.0 99.4 L616.5 99.5 L617.0 99.7 L617.4 99.8 L617.9 100.0 L618.4 100.2 L618.9 100.4 L619.4 100.6 L619.9 100.8 L620.4 101.0 L620.8 101.3 L621.3 101.5 L621.8 101.8 L622.3 102.0 L622.8 102.3 L623.3 102.6 L623.8 102.8 L624.3 103.1 L624.7 103.4 L625.2 103.6 L625.7 103.9 L626.2 104.2 L626.7 104.5 L627.2 104.8 L627.7 105.1 L628.2 105.3 L628.6 105.6 L629.1 106.0 L629.6 106.3 L630.1 106.6 L630.6 106.9 L631.1 107.2 L631.6 107.5 L632.0 107.9 L632.5 108.2 L633.0 108.5 L633.5 108.9 L634.0 109.2 L634.5 109.5 L635.0 109.9 L635.5 110.2 L635.9 110.6 L636.4 110.9 L636.9 111.3 L637.4 111.7 L637.9 112.0 L638.4 112.4 L638.9 112.8 L639.3 113.2 L639.8 113.5 L640.3 113.9 L640.8 114.3 L641.3 114.7 L641.8 115.1 L642.3 115.5 L642.8 115.9 L643.2 116.3 L643.7 116.8 L644.2 117.2 L644.7 117.6 L645.2 118.0 L645.7 118.5 L646.2 118.9 L646.6 119.3 L647.1 119.8 L647.6 120.2 L648.1 120.7 L648.6 121.1 L649.1 121.5 L649.6 121.9 L650.1 122.4 L650.5 122.8 L651.0 123.2 L651.5 123.6 L652.0 124.1 L652.5 124.5 L653.0 124.9 L653.5 125.3 L654.0 125.8 L654.4 126.2 L654.9 126.6 L655.4 127.0 L655.9 127.5 L656.4 127.9 L656.9 128.3 L657.4 128.8 L657.8 129.2 L658.3 129.6 L658.8 130.1 L659.3 130.6 L659.8 131.0 L660.3 131.4 L660.8 131.8 L661.3 132.1 L661.7 132.5 L662.2 132.9 L662.7 133.3 L663.2 133.7 L663.7 134.0 L664.2 134.4 L664.7 134.8 L665.1 135.2 L665.6 135.5 L666.1 135.9 L666.6 136.3 L667.1 136.6 L667.6 137.0 L668.1 137.4 L668.6 137.7 L669.0 138.1 L669.5 138.4 L670.0 138.8 L670.5 139.1 L671.0 139.5 L671.5 139.8 L672.0 140.1 L672.4 140.5 L672.9 140.8 L673.4 141.1 L673.9 141.5 L674.4 141.8 L674.9 142.1 L675.4 142.4 L675.9 142.7 L676.3 143.0 L676.8 143.3 L677.3 143.6 L677.8 143.9 L678.3 144.2 L678.8 144.5 L679.3 144.8 L679.8 145.1 L680.2 145.3 L680.7 145.6 L681.2 145.9 L681.7 146.1 L682.2 146.4 L682.7 146.6 L683.2 146.9 L683.6 147.1 L684.1 147.4 L684.6 147.6 L685.1 147.8 L685.6 148.0 L686.1 148.2 L686.6 148.4 L687.1 148.6" fill="none" stroke="#e8212b" stroke-width="1.8" stroke-linejoin="round" clip-path="url(#cc)"/>
<line x1="541.50" y1="201.70" x2="684.20" y2="201.70" stroke="#2b2b2b" stroke-width="1.7" />
<path d="M541.5 201.6 L542.0 201.6 L542.5 201.6 L542.9 201.6 L543.4 201.6 L543.9 201.6 L544.4 201.5 L544.9 201.5 L545.3 201.5 L545.8 201.5 L546.3 201.5 L546.8 201.4 L547.3 201.4 L547.7 201.4 L548.2 201.3 L548.7 201.3 L549.2 201.3 L549.7 201.2 L550.1 201.2 L550.6 201.1 L551.1 201.1 L551.6 201.0 L552.1 201.0 L552.5 200.9 L553.0 200.9 L553.5 200.8 L554.0 200.8 L554.5 200.7 L554.9 200.7 L555.4 200.6 L555.9 200.6 L556.4 200.5 L556.9 200.5 L557.3 200.4 L557.8 200.4 L558.3 200.3 L558.8 200.2 L559.3 200.2 L559.7 200.1 L560.2 200.0 L560.7 200.0 L561.2 199.9 L561.7 199.8 L562.1 199.7 L562.6 199.6 L563.1 199.5 L563.6 199.5 L564.1 199.4 L564.5 199.2 L565.0 199.1 L565.5 199.0 L566.0 198.9 L566.5 198.8 L566.9 198.7 L567.4 198.6 L567.9 198.4 L568.4 198.3 L568.9 198.2 L569.3 198.1 L569.8 197.9 L570.3 197.7 L570.8 197.6 L571.3 197.4 L571.7 197.2 L572.2 197.0 L572.7 196.8 L573.2 196.6 L573.7 196.4 L574.1 196.2 L574.6 196.0 L575.1 195.8 L575.6 195.6 L576.1 195.4 L576.5 195.2 L577.0 194.9 L577.5 194.7 L578.0 194.5 L578.5 194.3 L578.9 194.1 L579.4 193.9 L579.9 193.7 L580.4 193.5 L580.9 193.3 L581.3 193.1 L581.8 192.9 L582.3 192.7 L582.8 192.4 L583.3 192.2 L583.7 192.0 L584.2 191.8 L584.7 191.6 L585.2 191.4 L585.7 191.2 L586.1 191.0 L586.6 190.8 L587.1 190.6 L587.6 190.5 L588.1 190.3 L588.5 190.2 L589.0 190.1 L589.5 190.0 L590.0 189.9 L590.5 189.8 L590.9 189.6 L591.4 189.5 L591.9 189.4 L592.4 189.3 L592.9 189.2 L593.3 189.1 L593.8 189.0 L594.3 188.9 L594.8 188.9 L595.3 188.8 L595.7 188.7 L596.2 188.6 L596.7 188.6 L597.2 188.5 L597.7 188.5 L598.1 188.5 L598.6 188.4 L599.1 188.4 L599.6 188.4 L600.1 188.4 L600.5 188.5 L601.0 188.5 L601.5 188.6 L602.0 188.7 L602.5 188.8 L602.9 188.9 L603.4 189.0 L603.9 189.2 L604.4 189.3 L604.9 189.5 L605.3 189.6 L605.8 189.8 L606.3 190.0 L606.8 190.2 L607.3 190.3 L607.7 190.5 L608.2 190.7 L608.7 191.0 L609.2 191.3 L609.7 191.6 L610.1 191.9 L610.6 192.3 L611.1 192.7 L611.6 193.2 L612.1 193.7 L612.5 194.2 L613.0 194.7 L613.5 195.3 L614.0 196.0 L614.4 196.9 L614.9 198.0 L615.4 199.2 L615.9 200.3 L616.4 201.4 L616.8 202.4 L617.3 203.5 L617.8 204.5 L618.3 205.5 L618.8 206.4 L619.2 207.2 L619.7 207.8 L620.2 208.4 L620.7 209.0 L621.2 209.6 L621.6 210.1 L622.1 210.5 L622.6 210.9 L623.1 211.2 L623.6 211.4 L624.0 211.6 L624.5 211.8 L625.0 212.0 L625.5 212.2 L626.0 212.4 L626.4 212.5 L626.9 212.6 L627.4 212.8 L627.9 212.9 L628.4 212.9 L628.8 213.0 L629.3 213.0 L629.8 213.0 L630.3 213.0 L630.8 213.0 L631.2 212.9 L631.7 212.9 L632.2 212.8 L632.7 212.8 L633.2 212.7 L633.6 212.7 L634.1 212.6 L634.6 212.5 L635.1 212.4 L635.6 212.3 L636.0 212.3 L636.5 212.2 L637.0 212.1 L637.5 212.0 L638.0 211.9 L638.4 211.9 L638.9 211.8 L639.4 211.7 L639.9 211.6 L640.4 211.5 L640.8 211.4 L641.3 211.3 L641.8 211.2 L642.3 211.1 L642.8 211.0 L643.2 210.9 L643.7 210.8 L644.2 210.7 L644.7 210.6 L645.2 210.5 L645.6 210.4 L646.1 210.3 L646.6 210.2 L647.1 210.1 L647.6 210.0 L648.0 209.9 L648.5 209.8 L649.0 209.7 L649.5 209.6 L650.0 209.5 L650.4 209.4 L650.9 209.3 L651.4 209.2 L651.9 209.2 L652.4 209.1 L652.8 209.0 L653.3 208.9 L653.8 208.8 L654.3 208.7 L654.8 208.6 L655.2 208.5 L655.7 208.4 L656.2 208.3 L656.7 208.2 L657.2 208.1 L657.6 208.0 L658.1 207.9 L658.6 207.8 L659.1 207.7 L659.6 207.6 L660.0 207.5 L660.5 207.4 L661.0 207.3 L661.5 207.2 L662.0 207.1 L662.4 207.0 L662.9 206.9 L663.4 206.8 L663.9 206.7 L664.4 206.6 L664.8 206.5 L665.3 206.4 L665.8 206.4 L666.3 206.3 L666.8 206.2 L667.2 206.1 L667.7 206.0 L668.2 206.0 L668.7 205.9 L669.2 205.8 L669.6 205.7 L670.1 205.7 L670.6 205.6 L671.1 205.5 L671.6 205.5 L672.0 205.4 L672.5 205.3 L673.0 205.3 L673.5 205.2 L674.0 205.1 L674.4 205.1 L674.9 205.0 L675.4 205.0 L675.9 204.9 L676.4 204.8 L676.8 204.8 L677.3 204.7 L677.8 204.7 L678.3 204.6 L678.8 204.6 L679.2 204.5 L679.7 204.5 L680.2 204.4 L680.7 204.4 L681.2 204.3 L681.6 204.3 L682.1 204.2 L682.6 204.2 L683.1 204.2 L683.6 204.1 L684.0 204.1 L684.5 204.0 L685.0 204.0" fill="none" stroke="#3650b4" stroke-width="1.8" stroke-linejoin="round" clip-path="url(#cd)"/>
<path d="M541.5 201.6 L542.0 201.6 L542.5 201.5 L542.9 201.5 L543.4 201.4 L543.9 201.4 L544.4 201.3 L544.9 201.3 L545.3 201.2 L545.8 201.2 L546.3 201.1 L546.8 201.1 L547.3 201.0 L547.7 201.0 L548.2 200.9 L548.7 200.9 L549.2 200.8 L549.7 200.8 L550.1 200.7 L550.6 200.7 L551.1 200.6 L551.6 200.6 L552.1 200.5 L552.5 200.4 L553.0 200.4 L553.5 200.3 L554.0 200.3 L554.5 200.2 L554.9 200.1 L555.4 200.1 L555.9 200.0 L556.4 199.9 L556.9 199.9 L557.3 199.8 L557.8 199.8 L558.3 199.7 L558.8 199.6 L559.3 199.6 L559.7 199.5 L560.2 199.4 L560.7 199.3 L561.2 199.3 L561.7 199.2 L562.1 199.1 L562.6 199.0 L563.1 199.0 L563.6 198.9 L564.1 198.8 L564.5 198.7 L565.0 198.7 L565.5 198.6 L566.0 198.5 L566.5 198.4 L566.9 198.3 L567.4 198.2 L567.9 198.2 L568.4 198.1 L568.9 198.0 L569.3 197.9 L569.8 197.8 L570.3 197.7 L570.8 197.6 L571.3 197.6 L571.7 197.5 L572.2 197.4 L572.7 197.3 L573.2 197.2 L573.7 197.1 L574.1 197.0 L574.6 196.9 L575.1 196.8 L575.6 196.7 L576.1 196.6 L576.5 196.5 L577.0 196.4 L577.5 196.4 L578.0 196.3 L578.5 196.2 L578.9 196.2 L579.4 196.1 L579.9 196.1 L580.4 196.0 L580.9 196.0 L581.3 195.9 L581.8 195.9 L582.3 195.8 L582.8 195.8 L583.3 195.7 L583.7 195.7 L584.2 195.6 L584.7 195.6 L585.2 195.5 L585.7 195.5 L586.1 195.5 L586.6 195.4 L587.1 195.4 L587.6 195.4 L588.1 195.4 L588.5 195.4 L589.0 195.4 L589.5 195.4 L590.0 195.4 L590.5 195.4 L590.9 195.4 L591.4 195.4 L591.9 195.4 L592.4 195.4 L592.9 195.4 L593.3 195.5 L593.8 195.5 L594.3 195.5 L594.8 195.5 L595.3 195.6 L595.7 195.6 L596.2 195.7 L596.7 195.9 L597.2 196.0 L597.7 196.2 L598.1 196.5 L598.6 196.7 L599.1 197.0 L599.6 197.3 L600.1 197.8 L600.5 198.3 L601.0 199.0 L601.5 199.8 L602.0 200.7 L602.5 201.7 L602.9 203.2 L603.4 205.4 L603.9 207.6 L604.4 209.5 L604.9 210.9 L605.3 212.0 L605.8 213.0 L606.3 214.0 L606.8 214.9 L607.3 215.9 L607.7 217.0 L608.2 218.1 L608.7 219.1 L609.2 220.1 L609.7 221.0 L610.1 221.6 L610.6 222.1 L611.1 222.6 L611.6 223.1 L612.1 223.5 L612.5 223.8 L613.0 224.1 L613.5 224.4 L614.0 224.6 L614.4 224.7 L614.9 224.9 L615.4 225.0 L615.9 225.1 L616.4 225.2 L616.8 225.3 L617.3 225.4 L617.8 225.5 L618.3 225.6 L618.8 225.6 L619.2 225.7 L619.7 225.7 L620.2 225.7 L620.7 225.7 L621.2 225.7 L621.6 225.7 L622.1 225.6 L622.6 225.6 L623.1 225.6 L623.6 225.5 L624.0 225.5 L624.5 225.4 L625.0 225.3 L625.5 225.3 L626.0 225.2 L626.4 225.1 L626.9 225.1 L627.4 225.0 L627.9 224.9 L628.4 224.8 L628.8 224.8 L629.3 224.7 L629.8 224.6 L630.3 224.6 L630.8 224.5 L631.2 224.4 L631.7 224.3 L632.2 224.2 L632.7 224.1 L633.2 224.0 L633.6 223.9 L634.1 223.8 L634.6 223.7 L635.1 223.6 L635.6 223.5 L636.0 223.4 L636.5 223.3 L637.0 223.2 L637.5 223.1 L638.0 223.0 L638.4 222.9 L638.9 222.8 L639.4 222.7 L639.9 222.6 L640.4 222.5 L640.8 222.4 L641.3 222.4 L641.8 222.3 L642.3 222.2 L642.8 222.2 L643.2 222.1 L643.7 222.0 L644.2 221.9 L644.7 221.9 L645.2 221.8 L645.6 221.7 L646.1 221.7 L646.6 221.6 L647.1 221.5 L647.6 221.5 L648.0 221.4 L648.5 221.4 L649.0 221.3 L649.5 221.3 L650.0 221.2 L650.4 221.1 L650.9 221.1 L651.4 221.0 L651.9 221.0 L652.4 220.9 L652.8 220.9 L653.3 220.8 L653.8 220.8 L654.3 220.7 L654.8 220.7 L655.2 220.6 L655.7 220.6 L656.2 220.5 L656.7 220.5 L657.2 220.4 L657.6 220.4 L658.1 220.3 L658.6 220.3 L659.1 220.3 L659.6 220.2 L660.0 220.2 L660.5 220.1 L661.0 220.1 L661.5 220.1 L662.0 220.0 L662.4 220.0 L662.9 220.0 L663.4 219.9 L663.9 219.9 L664.4 219.8 L664.8 219.8 L665.3 219.8 L665.8 219.7 L666.3 219.7 L666.8 219.7 L667.2 219.6 L667.7 219.6 L668.2 219.6 L668.7 219.6 L669.2 219.6 L669.6 219.6 L670.1 219.6 L670.6 219.6 L671.1 219.6 L671.6 219.6 L672.0 219.6 L672.5 219.6 L673.0 219.6 L673.5 219.6 L674.0 219.6 L674.4 219.6 L674.9 219.6 L675.4 219.6 L675.9 219.6 L676.4 219.6 L676.8 219.6 L677.3 219.6 L677.8 219.6 L678.3 219.6 L678.8 219.6 L679.2 219.6 L679.7 219.6 L680.2 219.6 L680.7 219.6 L681.2 219.6 L681.6 219.6 L682.1 219.6 L682.6 219.6 L683.1 219.6 L683.6 219.6 L684.0 219.6 L684.5 219.6 L685.0 219.6" fill="none" stroke="#6cb551" stroke-width="1.8" stroke-linejoin="round" clip-path="url(#cd)"/>
<path d="M541.5 201.6 L542.0 201.7 L542.5 201.8 L542.9 201.9 L543.4 202.0 L543.9 202.2 L544.4 202.3 L544.9 202.4 L545.3 202.5 L545.8 202.6 L546.3 202.7 L546.8 202.8 L547.3 202.9 L547.7 203.0 L548.2 203.1 L548.7 203.2 L549.2 203.3 L549.7 203.4 L550.1 203.5 L550.6 203.6 L551.1 203.7 L551.6 203.8 L552.1 203.9 L552.5 204.0 L553.0 204.1 L553.5 204.2 L554.0 204.3 L554.5 204.4 L554.9 204.5 L555.4 204.6 L555.9 204.7 L556.4 204.7 L556.9 204.8 L557.3 204.9 L557.8 205.0 L558.3 205.1 L558.8 205.2 L559.3 205.2 L559.7 205.3 L560.2 205.4 L560.7 205.5 L561.2 205.6 L561.7 205.6 L562.1 205.7 L562.6 205.8 L563.1 205.9 L563.6 205.9 L564.1 206.0 L564.5 206.1 L565.0 206.2 L565.5 206.3 L566.0 206.3 L566.5 206.4 L566.9 206.5 L567.4 206.6 L567.9 206.7 L568.4 206.8 L568.9 206.9 L569.3 206.9 L569.8 207.0 L570.3 207.1 L570.8 207.2 L571.3 207.3 L571.7 207.4 L572.2 207.5 L572.7 207.6 L573.2 207.7 L573.7 207.8 L574.1 207.9 L574.6 208.0 L575.1 208.1 L575.6 208.2 L576.1 208.3 L576.5 208.4 L577.0 208.5 L577.5 208.6 L578.0 208.7 L578.5 208.8 L578.9 208.9 L579.4 209.0 L579.9 209.1 L580.4 209.2 L580.9 209.3 L581.3 209.4 L581.8 209.5 L582.3 209.6 L582.8 209.7 L583.3 209.8 L583.7 209.9 L584.2 210.1 L584.7 210.2 L585.2 210.3 L585.7 210.5 L586.1 210.6 L586.6 210.8 L587.1 210.9 L587.6 211.1 L588.1 211.3 L588.5 211.4 L589.0 211.6 L589.5 211.9 L590.0 212.1 L590.5 212.4 L590.9 212.8 L591.4 213.2 L591.9 213.7 L592.4 214.5 L592.9 215.4 L593.3 216.4 L593.8 217.4 L594.3 218.8 L594.8 220.4 L595.3 222.0 L595.7 223.8 L596.2 225.7 L596.7 227.7 L597.2 229.4 L597.7 230.9 L598.1 232.3 L598.6 233.6 L599.1 234.9 L599.6 236.1 L600.1 237.2 L600.5 238.2 L601.0 239.4 L601.5 240.4 L602.0 241.1 L602.5 241.5 L602.9 241.7 L603.4 242.0 L603.9 242.2 L604.4 242.3 L604.9 242.4 L605.3 242.5 L605.8 242.6 L606.3 242.7 L606.8 242.8 L607.3 242.8 L607.7 242.9 L608.2 243.0 L608.7 243.0 L609.2 243.1 L609.7 243.1 L610.1 243.2 L610.6 243.2 L611.1 243.2 L611.6 243.3 L612.1 243.3 L612.5 243.4 L613.0 243.4 L613.5 243.5 L614.0 243.5 L614.4 243.6 L614.9 243.7 L615.4 243.7 L615.9 243.8 L616.4 243.9 L616.8 244.0 L617.3 244.0 L617.8 244.1 L618.3 244.2 L618.8 244.3 L619.2 244.4 L619.7 244.5 L620.2 244.6 L620.7 244.7 L621.2 244.8 L621.6 244.9 L622.1 245.0 L622.6 245.1 L623.1 245.2 L623.6 245.3 L624.0 245.5 L624.5 245.6 L625.0 245.7 L625.5 245.7 L626.0 245.8 L626.4 245.9 L626.9 246.0 L627.4 246.1 L627.9 246.2 L628.4 246.4 L628.8 246.5 L629.3 246.6 L629.8 246.7 L630.3 246.8 L630.8 246.9 L631.2 247.0 L631.7 247.1 L632.2 247.2 L632.7 247.3 L633.2 247.4 L633.6 247.4 L634.1 247.5 L634.6 247.6 L635.1 247.7 L635.6 247.8 L636.0 247.8 L636.5 247.9 L637.0 248.0 L637.5 248.1 L638.0 248.1 L638.4 248.2 L638.9 248.3 L639.4 248.3 L639.9 248.4 L640.4 248.5 L640.8 248.5 L641.3 248.6 L641.8 248.7 L642.3 248.7 L642.8 248.8 L643.2 248.8 L643.7 248.9 L644.2 248.9 L644.7 248.9 L645.2 249.0 L645.6 249.0 L646.1 249.0 L646.6 249.0 L647.1 249.1 L647.6 249.1 L648.0 249.1 L648.5 249.1 L649.0 249.2 L649.5 249.2 L650.0 249.2 L650.4 249.2 L650.9 249.2 L651.4 249.2 L651.9 249.2 L652.4 249.2 L652.8 249.2 L653.3 249.2 L653.8 249.2 L654.3 249.2 L654.8 249.2 L655.2 249.1 L655.7 249.1 L656.2 249.1 L656.7 249.1 L657.2 249.0 L657.6 249.0 L658.1 249.0 L658.6 248.9 L659.1 248.9 L659.6 248.8 L660.0 248.8 L660.5 248.8 L661.0 248.7 L661.5 248.7 L662.0 248.6 L662.4 248.6 L662.9 248.5 L663.4 248.5 L663.9 248.4 L664.4 248.4 L664.8 248.3 L665.3 248.3 L665.8 248.2 L666.3 248.1 L666.8 248.0 L667.2 248.0 L667.7 247.9 L668.2 247.8 L668.7 247.7 L669.2 247.7 L669.6 247.6 L670.1 247.5 L670.6 247.4 L671.1 247.4 L671.6 247.3 L672.0 247.2 L672.5 247.2 L673.0 247.1 L673.5 247.1 L674.0 247.0 L674.4 246.9 L674.9 246.9 L675.4 246.8 L675.9 246.8 L676.4 246.7 L676.8 246.6 L677.3 246.6 L677.8 246.5 L678.3 246.5 L678.8 246.4 L679.2 246.4 L679.7 246.3 L680.2 246.3 L680.7 246.2 L681.2 246.1 L681.6 246.1 L682.1 246.0 L682.6 246.0 L683.1 245.9 L683.6 245.9 L684.0 245.8 L684.5 245.8 L685.0 245.7" fill="none" stroke="#e8212b" stroke-width="1.8" stroke-linejoin="round" clip-path="url(#cd)"/>
<rect x="541.5" y="26.9" width="142.7" height="106.95" fill="none" stroke="#2e2e2e" stroke-width="1.45"/>
<rect x="541.5" y="148.5" width="142.7" height="106.2" fill="none" stroke="#2e2e2e" stroke-width="1.45"/>
<line x1="562.90" y1="133.85" x2="562.90" y2="130.95" stroke="#2e2e2e" stroke-width="1.2" />
<line x1="562.90" y1="254.70" x2="562.90" y2="251.80" stroke="#2e2e2e" stroke-width="1.2" />
<line x1="584.31" y1="133.85" x2="584.31" y2="130.95" stroke="#2e2e2e" stroke-width="1.2" />
<line x1="584.31" y1="254.70" x2="584.31" y2="251.80" stroke="#2e2e2e" stroke-width="1.2" />
<line x1="605.72" y1="133.85" x2="605.72" y2="130.95" stroke="#2e2e2e" stroke-width="1.2" />
<line x1="605.72" y1="254.70" x2="605.72" y2="251.80" stroke="#2e2e2e" stroke-width="1.2" />
<line x1="627.12" y1="133.85" x2="627.12" y2="130.95" stroke="#2e2e2e" stroke-width="1.2" />
<line x1="627.12" y1="254.70" x2="627.12" y2="251.80" stroke="#2e2e2e" stroke-width="1.2" />
<line x1="648.52" y1="133.85" x2="648.52" y2="130.95" stroke="#2e2e2e" stroke-width="1.2" />
<line x1="648.52" y1="254.70" x2="648.52" y2="251.80" stroke="#2e2e2e" stroke-width="1.2" />
<line x1="669.93" y1="133.85" x2="669.93" y2="130.95" stroke="#2e2e2e" stroke-width="1.2" />
<line x1="669.93" y1="254.70" x2="669.93" y2="251.80" stroke="#2e2e2e" stroke-width="1.2" />
<line x1="541.50" y1="122.35" x2="544.20" y2="122.35" stroke="#2e2e2e" stroke-width="1.2" />
<line x1="541.50" y1="110.40" x2="545.20" y2="110.40" stroke="#2e2e2e" stroke-width="1.2" />
<line x1="541.50" y1="98.45" x2="544.20" y2="98.45" stroke="#2e2e2e" stroke-width="1.2" />
<line x1="541.50" y1="86.50" x2="545.20" y2="86.50" stroke="#2e2e2e" stroke-width="1.2" />
<line x1="541.50" y1="74.55" x2="544.20" y2="74.55" stroke="#2e2e2e" stroke-width="1.2" />
<line x1="541.50" y1="62.60" x2="545.20" y2="62.60" stroke="#2e2e2e" stroke-width="1.2" />
<line x1="541.50" y1="50.65" x2="544.20" y2="50.65" stroke="#2e2e2e" stroke-width="1.2" />
<line x1="541.50" y1="38.70" x2="545.20" y2="38.70" stroke="#2e2e2e" stroke-width="1.2" />
<line x1="541.50" y1="237.00" x2="545.20" y2="237.00" stroke="#2e2e2e" stroke-width="1.2" />
<line x1="541.50" y1="219.30" x2="544.20" y2="219.30" stroke="#2e2e2e" stroke-width="1.2" />
<line x1="541.50" y1="183.90" x2="544.20" y2="183.90" stroke="#2e2e2e" stroke-width="1.2" />
<line x1="541.50" y1="166.20" x2="545.20" y2="166.20" stroke="#2e2e2e" stroke-width="1.2" />
<text x="535.30" y="42.40" font-size="10.4" text-anchor="end" fill="#111" >20</text>
<text x="535.30" y="66.30" font-size="10.4" text-anchor="end" fill="#111" >0</text>
<text x="535.30" y="90.20" font-size="10.4" text-anchor="end" fill="#111" ><tspan font-size="11.2">–</tspan>20</text>
<text x="535.30" y="114.10" font-size="10.4" text-anchor="end" fill="#111" ><tspan font-size="11.2">–</tspan>40</text>
<text x="535.30" y="169.90" font-size="10.4" text-anchor="end" fill="#111" >π</text>
<text x="535.60" y="205.30" font-size="10.4" text-anchor="end" fill="#111" >0</text>
<text x="535.30" y="240.70" font-size="10.4" text-anchor="end" fill="#111" ><tspan font-size="11.2">–</tspan>π</text>
<text x="541.60" y="270.40" font-size="10.4" text-anchor="middle" fill="#111" >0</text>
<text x="584.41" y="270.40" font-size="10.4" text-anchor="middle" fill="#111" >3</text>
<text x="627.22" y="270.40" font-size="10.4" text-anchor="middle" fill="#111" >6</text>
<text x="670.03" y="270.40" font-size="10.4" text-anchor="middle" fill="#111" >9</text>
<text x="613.20" y="290.60" font-size="10.4" text-anchor="middle" fill="#111" >Time (ps)</text>
<text transform="translate(505.5 79.4) rotate(-90)" font-size="10.4" text-anchor="middle" fill="#111">Amplitude (dB)</text>
<text transform="translate(505.6 202.0) rotate(-90)" font-size="10.4" text-anchor="middle" fill="#111">Phase</text>
<line x1="627.80" y1="36.40" x2="641.80" y2="36.40" stroke="#2b2b2b" stroke-width="1.7" />
<text x="645.20" y="39.00" font-size="7.3" text-anchor="start" fill="#111" >Air</text>
<line x1="627.80" y1="46.27" x2="641.80" y2="46.27" stroke="#3650b4" stroke-width="1.7" />
<text x="645.20" y="48.87" font-size="7.3" fill="#111" text-anchor="start"><tspan font-style="italic">d</tspan> = 16 µm</text>
<line x1="627.80" y1="56.14" x2="641.80" y2="56.14" stroke="#6cb551" stroke-width="1.7" />
<text x="645.20" y="58.74" font-size="7.3" fill="#111" text-anchor="start"><tspan font-style="italic">d</tspan> = 4 µm</text>
<line x1="627.80" y1="66.01" x2="641.80" y2="66.01" stroke="#e8212b" stroke-width="1.7" />
<text x="645.20" y="68.61" font-size="7.3" fill="#111" text-anchor="start"><tspan font-style="italic">d</tspan> = 2 µm</text>
</svg>
</body></html>
